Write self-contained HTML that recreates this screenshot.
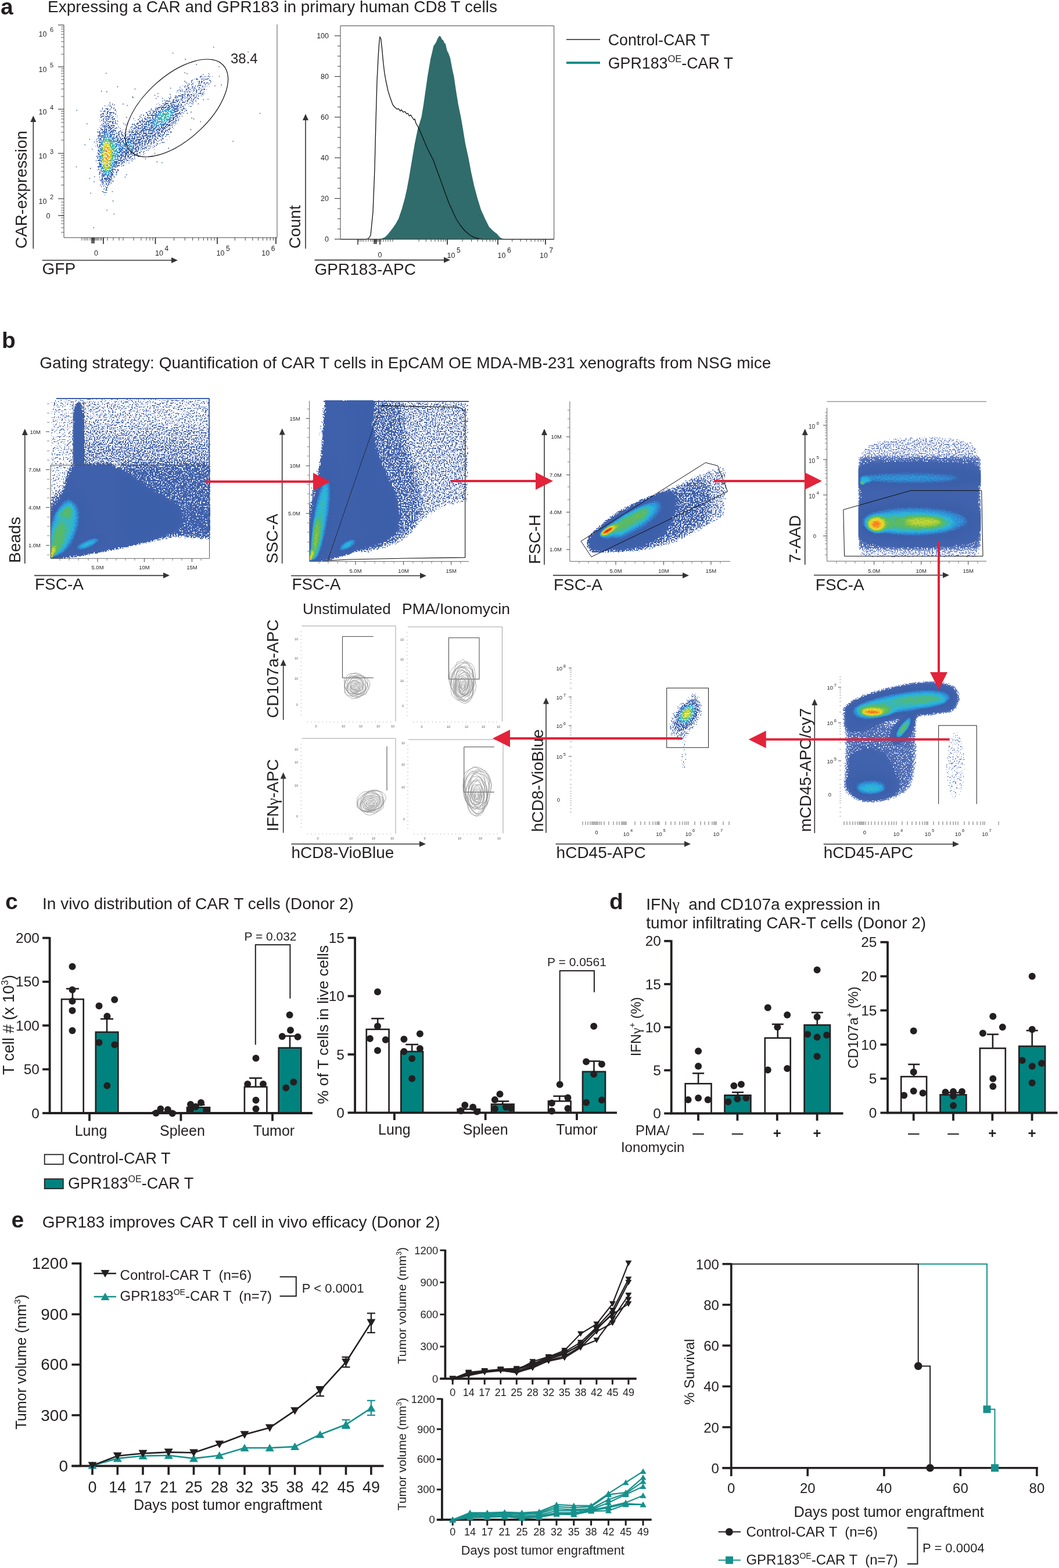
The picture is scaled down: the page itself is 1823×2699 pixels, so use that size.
<!DOCTYPE html>
<html><head><meta charset="utf-8"><title>Figure</title>
<style>html,body{margin:0;padding:0;background:#fff;}svg{display:block;}text{font-family:"Liberation Sans", Arial, Helvetica, sans-serif;white-space:pre;}</style>
</head><body>
<svg width="1823" height="2699" viewBox="0 0 1823 2699" font-family='"Liberation Sans", Arial, Helvetica, sans-serif' fill="#231f20"><defs><filter id="bl9" x="-100%" y="-100%" width="300%" height="300%"><feGaussianBlur stdDeviation="9"/></filter><filter id="bl7" x="-100%" y="-100%" width="300%" height="300%"><feGaussianBlur stdDeviation="7"/></filter><filter id="bl4" x="-100%" y="-100%" width="300%" height="300%"><feGaussianBlur stdDeviation="4"/></filter><filter id="bl6" x="-100%" y="-100%" width="300%" height="300%"><feGaussianBlur stdDeviation="6"/></filter><filter id="bl8" x="-100%" y="-100%" width="300%" height="300%"><feGaussianBlur stdDeviation="8"/></filter><filter id="bl10" x="-100%" y="-100%" width="300%" height="300%"><feGaussianBlur stdDeviation="10"/></filter><filter id="bl5" x="-100%" y="-100%" width="300%" height="300%"><feGaussianBlur stdDeviation="5"/></filter><filter id="pc1" filterUnits="userSpaceOnUse" x="110" y="43" width="367" height="366" color-interpolation-filters="sRGB"><feColorMatrix in="SourceGraphic" type="matrix" values="0 0 0 1 0 0 0 0 1 0 0 0 0 1 0 0 0 0 0 1" result="d"/><feTurbulence type="fractalNoise" baseFrequency="0.45" numOctaves="1" seed="1" result="n0"/><feColorMatrix in="n0" type="matrix" values="1 0 0 0 0 1 0 0 0 0 1 0 0 0 0 0 0 0 0 1" result="n"/><feComposite in="d" in2="n" operator="arithmetic" k1="0" k2="1" k3="0.3" k4="-0.1" result="dc"/><feComponentTransfer in="dc" result="col"><feFuncR type="table" tableValues="0.490 0.485 0.479 0.474 0.469 0.463 0.458 0.453 0.447 0.442 0.430 0.411 0.392 0.373 0.354 0.335 0.316 0.297 0.278 0.259 0.258 0.257 0.257 0.256 0.255 0.254 0.254 0.253 0.252 0.251 0.251 0.250 0.249 0.248 0.248 0.247 0.246 0.245 0.245 0.244 0.243 0.242 0.242 0.241 0.240 0.239 0.239 0.238 0.237 0.236 0.236 0.230 0.222 0.213 0.205 0.197 0.190 0.183 0.176 0.169 0.162 0.163 0.196 0.228 0.261 0.293 0.326 0.358 0.407 0.469 0.530 0.592 0.654 0.716 0.778 0.812 0.843 0.874 0.905 0.936 0.961 0.961 0.961 0.961 0.961 0.956 0.946 0.936 0.925 0.915 0.905 0.893 0.880 0.868 0.856 0.843"/><feFuncG type="table" tableValues="0.580 0.575 0.570 0.566 0.561 0.556 0.551 0.546 0.541 0.536 0.526 0.510 0.495 0.480 0.465 0.449 0.434 0.419 0.404 0.388 0.388 0.387 0.387 0.386 0.386 0.385 0.385 0.384 0.384 0.383 0.383 0.382 0.382 0.381 0.381 0.380 0.380 0.379 0.379 0.378 0.378 0.377 0.377 0.376 0.376 0.375 0.375 0.374 0.374 0.373 0.373 0.394 0.427 0.460 0.493 0.526 0.559 0.591 0.623 0.656 0.688 0.714 0.717 0.719 0.721 0.724 0.726 0.728 0.739 0.756 0.773 0.790 0.807 0.824 0.841 0.843 0.843 0.843 0.843 0.843 0.831 0.769 0.707 0.645 0.583 0.518 0.449 0.380 0.312 0.243 0.174 0.148 0.135 0.123 0.110 0.098"/><feFuncB type="table" tableValues="0.816 0.813 0.811 0.808 0.806 0.803 0.801 0.798 0.796 0.793 0.786 0.774 0.762 0.750 0.738 0.726 0.714 0.702 0.690 0.678 0.678 0.678 0.677 0.677 0.677 0.676 0.676 0.675 0.675 0.675 0.674 0.674 0.674 0.673 0.673 0.672 0.672 0.672 0.671 0.671 0.671 0.670 0.670 0.669 0.669 0.669 0.668 0.668 0.668 0.667 0.667 0.687 0.718 0.750 0.781 0.813 0.828 0.842 0.856 0.869 0.883 0.877 0.793 0.709 0.624 0.540 0.456 0.371 0.322 0.301 0.281 0.260 0.239 0.219 0.198 0.190 0.183 0.176 0.169 0.162 0.156 0.152 0.148 0.144 0.140 0.136 0.132 0.129 0.125 0.122 0.119 0.115 0.110 0.106 0.102 0.098"/></feComponentTransfer><feComponentTransfer in="n" result="ns"><feFuncR type="linear" slope="3" intercept="-1"/></feComponentTransfer><feComposite in="d" in2="ns" operator="arithmetic" k1="1" k2="0" k3="0" k4="0" result="dm"/><feColorMatrix in="dm" type="matrix" values="0 0 0 0 0 0 0 0 0 0 0 0 0 0 0 1 0 0 0 0" result="m0"/><feComponentTransfer in="m0" result="m"><feFuncA type="discrete" tableValues="0 0 0 0 0 0 0 0 0 0 0 0 0 0 0 0 0 0 0 1 1 1 1 1 1 1 1 1 1 1 1 1 1 1 1 1 1 1 1 1 1 1 1 1 1 1 1 1 1 1 1 1 1 1 1 1 1 1 1 1 1 1 1 1 1 1 1 1 1 1 1 1 1 1 1 1 1 1 1 1 1 1 1 1 1 1 1 1 1 1 1 1 1 1 1 1"/></feComponentTransfer><feComposite in="col" in2="m" operator="in"/></filter><filter id="bl3" x="-100%" y="-100%" width="300%" height="300%"><feGaussianBlur stdDeviation="3"/></filter><filter id="bl14" x="-100%" y="-100%" width="300%" height="300%"><feGaussianBlur stdDeviation="14"/></filter><filter id="bl1_5" x="-100%" y="-100%" width="300%" height="300%"><feGaussianBlur stdDeviation="1.5"/></filter><filter id="bl2_5" x="-100%" y="-100%" width="300%" height="300%"><feGaussianBlur stdDeviation="2.5"/></filter><filter id="bl1" x="-100%" y="-100%" width="300%" height="300%"><feGaussianBlur stdDeviation="1"/></filter><filter id="pc2" filterUnits="userSpaceOnUse" x="87" y="682" width="276" height="280" color-interpolation-filters="sRGB"><feColorMatrix in="SourceGraphic" type="matrix" values="0 0 0 1 0 0 0 0 1 0 0 0 0 1 0 0 0 0 0 1" result="d"/><feTurbulence type="fractalNoise" baseFrequency="0.45" numOctaves="1" seed="2" result="n0"/><feColorMatrix in="n0" type="matrix" values="1 0 0 0 0 1 0 0 0 0 1 0 0 0 0 0 0 0 0 1" result="n"/><feComposite in="d" in2="n" operator="arithmetic" k1="0" k2="1" k3="0.1" k4="-0" result="dc"/><feComponentTransfer in="dc" result="col"><feFuncR type="table" tableValues="0.490 0.485 0.479 0.474 0.469 0.463 0.458 0.453 0.447 0.442 0.430 0.411 0.392 0.373 0.354 0.335 0.316 0.297 0.278 0.259 0.258 0.257 0.257 0.256 0.255 0.254 0.254 0.253 0.252 0.251 0.251 0.250 0.249 0.248 0.248 0.247 0.246 0.245 0.245 0.244 0.243 0.242 0.242 0.241 0.240 0.239 0.239 0.238 0.237 0.236 0.236 0.230 0.222 0.213 0.205 0.197 0.190 0.183 0.176 0.169 0.162 0.163 0.196 0.228 0.261 0.293 0.326 0.358 0.407 0.469 0.530 0.592 0.654 0.716 0.778 0.812 0.843 0.874 0.905 0.936 0.961 0.961 0.961 0.961 0.961 0.956 0.946 0.936 0.925 0.915 0.905 0.893 0.880 0.868 0.856 0.843"/><feFuncG type="table" tableValues="0.580 0.575 0.570 0.566 0.561 0.556 0.551 0.546 0.541 0.536 0.526 0.510 0.495 0.480 0.465 0.449 0.434 0.419 0.404 0.388 0.388 0.387 0.387 0.386 0.386 0.385 0.385 0.384 0.384 0.383 0.383 0.382 0.382 0.381 0.381 0.380 0.380 0.379 0.379 0.378 0.378 0.377 0.377 0.376 0.376 0.375 0.375 0.374 0.374 0.373 0.373 0.394 0.427 0.460 0.493 0.526 0.559 0.591 0.623 0.656 0.688 0.714 0.717 0.719 0.721 0.724 0.726 0.728 0.739 0.756 0.773 0.790 0.807 0.824 0.841 0.843 0.843 0.843 0.843 0.843 0.831 0.769 0.707 0.645 0.583 0.518 0.449 0.380 0.312 0.243 0.174 0.148 0.135 0.123 0.110 0.098"/><feFuncB type="table" tableValues="0.816 0.813 0.811 0.808 0.806 0.803 0.801 0.798 0.796 0.793 0.786 0.774 0.762 0.750 0.738 0.726 0.714 0.702 0.690 0.678 0.678 0.678 0.677 0.677 0.677 0.676 0.676 0.675 0.675 0.675 0.674 0.674 0.674 0.673 0.673 0.672 0.672 0.672 0.671 0.671 0.671 0.670 0.670 0.669 0.669 0.669 0.668 0.668 0.668 0.667 0.667 0.687 0.718 0.750 0.781 0.813 0.828 0.842 0.856 0.869 0.883 0.877 0.793 0.709 0.624 0.540 0.456 0.371 0.322 0.301 0.281 0.260 0.239 0.219 0.198 0.190 0.183 0.176 0.169 0.162 0.156 0.152 0.148 0.144 0.140 0.136 0.132 0.129 0.125 0.122 0.119 0.115 0.110 0.106 0.102 0.098"/></feComponentTransfer><feComponentTransfer in="n" result="ns"><feFuncR type="linear" slope="3" intercept="-1"/></feComponentTransfer><feComposite in="d" in2="ns" operator="arithmetic" k1="1" k2="0.6" k3="0" k4="0" result="dm"/><feColorMatrix in="dm" type="matrix" values="0 0 0 0 0 0 0 0 0 0 0 0 0 0 0 1 0 0 0 0" result="m0"/><feComponentTransfer in="m0" result="m"><feFuncA type="discrete" tableValues="0 0 0 0 0 0 0 0 0 0 0 0 0 0 1 1 1 1 1 1 1 1 1 1 1 1 1 1 1 1 1 1 1 1 1 1 1 1 1 1 1 1 1 1 1 1 1 1 1 1 1 1 1 1 1 1 1 1 1 1 1 1 1 1 1 1 1 1 1 1 1 1 1 1 1 1 1 1 1 1 1 1 1 1 1 1 1 1 1 1 1 1 1 1 1 1"/></feComponentTransfer><feComposite in="col" in2="m" operator="in"/></filter><clipPath id="cp2"><rect x="87" y="683" width="275" height="280"/></clipPath><filter id="bl2" x="-100%" y="-100%" width="300%" height="300%"><feGaussianBlur stdDeviation="2"/></filter><filter id="pc3" filterUnits="userSpaceOnUse" x="530" y="686" width="280" height="284" color-interpolation-filters="sRGB"><feColorMatrix in="SourceGraphic" type="matrix" values="0 0 0 1 0 0 0 0 1 0 0 0 0 1 0 0 0 0 0 1" result="d"/><feTurbulence type="fractalNoise" baseFrequency="0.45" numOctaves="1" seed="3" result="n0"/><feColorMatrix in="n0" type="matrix" values="1 0 0 0 0 1 0 0 0 0 1 0 0 0 0 0 0 0 0 1" result="n"/><feComposite in="d" in2="n" operator="arithmetic" k1="0" k2="1" k3="0.1" k4="-0" result="dc"/><feComponentTransfer in="dc" result="col"><feFuncR type="table" tableValues="0.490 0.485 0.479 0.474 0.469 0.463 0.458 0.453 0.447 0.442 0.430 0.411 0.392 0.373 0.354 0.335 0.316 0.297 0.278 0.259 0.258 0.257 0.257 0.256 0.255 0.254 0.254 0.253 0.252 0.251 0.251 0.250 0.249 0.248 0.248 0.247 0.246 0.245 0.245 0.244 0.243 0.242 0.242 0.241 0.240 0.239 0.239 0.238 0.237 0.236 0.236 0.230 0.222 0.213 0.205 0.197 0.190 0.183 0.176 0.169 0.162 0.163 0.196 0.228 0.261 0.293 0.326 0.358 0.407 0.469 0.530 0.592 0.654 0.716 0.778 0.812 0.843 0.874 0.905 0.936 0.961 0.961 0.961 0.961 0.961 0.956 0.946 0.936 0.925 0.915 0.905 0.893 0.880 0.868 0.856 0.843"/><feFuncG type="table" tableValues="0.580 0.575 0.570 0.566 0.561 0.556 0.551 0.546 0.541 0.536 0.526 0.510 0.495 0.480 0.465 0.449 0.434 0.419 0.404 0.388 0.388 0.387 0.387 0.386 0.386 0.385 0.385 0.384 0.384 0.383 0.383 0.382 0.382 0.381 0.381 0.380 0.380 0.379 0.379 0.378 0.378 0.377 0.377 0.376 0.376 0.375 0.375 0.374 0.374 0.373 0.373 0.394 0.427 0.460 0.493 0.526 0.559 0.591 0.623 0.656 0.688 0.714 0.717 0.719 0.721 0.724 0.726 0.728 0.739 0.756 0.773 0.790 0.807 0.824 0.841 0.843 0.843 0.843 0.843 0.843 0.831 0.769 0.707 0.645 0.583 0.518 0.449 0.380 0.312 0.243 0.174 0.148 0.135 0.123 0.110 0.098"/><feFuncB type="table" tableValues="0.816 0.813 0.811 0.808 0.806 0.803 0.801 0.798 0.796 0.793 0.786 0.774 0.762 0.750 0.738 0.726 0.714 0.702 0.690 0.678 0.678 0.678 0.677 0.677 0.677 0.676 0.676 0.675 0.675 0.675 0.674 0.674 0.674 0.673 0.673 0.672 0.672 0.672 0.671 0.671 0.671 0.670 0.670 0.669 0.669 0.669 0.668 0.668 0.668 0.667 0.667 0.687 0.718 0.750 0.781 0.813 0.828 0.842 0.856 0.869 0.883 0.877 0.793 0.709 0.624 0.540 0.456 0.371 0.322 0.301 0.281 0.260 0.239 0.219 0.198 0.190 0.183 0.176 0.169 0.162 0.156 0.152 0.148 0.144 0.140 0.136 0.132 0.129 0.125 0.122 0.119 0.115 0.110 0.106 0.102 0.098"/></feComponentTransfer><feComponentTransfer in="n" result="ns"><feFuncR type="linear" slope="3" intercept="-1"/></feComponentTransfer><feComposite in="d" in2="ns" operator="arithmetic" k1="1" k2="0.6" k3="0" k4="0" result="dm"/><feColorMatrix in="dm" type="matrix" values="0 0 0 0 0 0 0 0 0 0 0 0 0 0 0 1 0 0 0 0" result="m0"/><feComponentTransfer in="m0" result="m"><feFuncA type="discrete" tableValues="0 0 0 0 0 0 0 0 0 0 0 0 0 0 1 1 1 1 1 1 1 1 1 1 1 1 1 1 1 1 1 1 1 1 1 1 1 1 1 1 1 1 1 1 1 1 1 1 1 1 1 1 1 1 1 1 1 1 1 1 1 1 1 1 1 1 1 1 1 1 1 1 1 1 1 1 1 1 1 1 1 1 1 1 1 1 1 1 1 1 1 1 1 1 1 1"/></feComponentTransfer><feComposite in="col" in2="m" operator="in"/></filter><clipPath id="cp3"><rect x="533" y="689" width="276" height="278"/></clipPath><filter id="pc4" filterUnits="userSpaceOnUse" x="981" y="691" width="276" height="275" color-interpolation-filters="sRGB"><feColorMatrix in="SourceGraphic" type="matrix" values="0 0 0 1 0 0 0 0 1 0 0 0 0 1 0 0 0 0 0 1" result="d"/><feTurbulence type="fractalNoise" baseFrequency="0.45" numOctaves="1" seed="4" result="n0"/><feColorMatrix in="n0" type="matrix" values="1 0 0 0 0 1 0 0 0 0 1 0 0 0 0 0 0 0 0 1" result="n"/><feComposite in="d" in2="n" operator="arithmetic" k1="0" k2="1" k3="0.1" k4="-0" result="dc"/><feComponentTransfer in="dc" result="col"><feFuncR type="table" tableValues="0.490 0.485 0.479 0.474 0.469 0.463 0.458 0.453 0.447 0.442 0.430 0.411 0.392 0.373 0.354 0.335 0.316 0.297 0.278 0.259 0.258 0.257 0.257 0.256 0.255 0.254 0.254 0.253 0.252 0.251 0.251 0.250 0.249 0.248 0.248 0.247 0.246 0.245 0.245 0.244 0.243 0.242 0.242 0.241 0.240 0.239 0.239 0.238 0.237 0.236 0.236 0.230 0.222 0.213 0.205 0.197 0.190 0.183 0.176 0.169 0.162 0.163 0.196 0.228 0.261 0.293 0.326 0.358 0.407 0.469 0.530 0.592 0.654 0.716 0.778 0.812 0.843 0.874 0.905 0.936 0.961 0.961 0.961 0.961 0.961 0.956 0.946 0.936 0.925 0.915 0.905 0.893 0.880 0.868 0.856 0.843"/><feFuncG type="table" tableValues="0.580 0.575 0.570 0.566 0.561 0.556 0.551 0.546 0.541 0.536 0.526 0.510 0.495 0.480 0.465 0.449 0.434 0.419 0.404 0.388 0.388 0.387 0.387 0.386 0.386 0.385 0.385 0.384 0.384 0.383 0.383 0.382 0.382 0.381 0.381 0.380 0.380 0.379 0.379 0.378 0.378 0.377 0.377 0.376 0.376 0.375 0.375 0.374 0.374 0.373 0.373 0.394 0.427 0.460 0.493 0.526 0.559 0.591 0.623 0.656 0.688 0.714 0.717 0.719 0.721 0.724 0.726 0.728 0.739 0.756 0.773 0.790 0.807 0.824 0.841 0.843 0.843 0.843 0.843 0.843 0.831 0.769 0.707 0.645 0.583 0.518 0.449 0.380 0.312 0.243 0.174 0.148 0.135 0.123 0.110 0.098"/><feFuncB type="table" tableValues="0.816 0.813 0.811 0.808 0.806 0.803 0.801 0.798 0.796 0.793 0.786 0.774 0.762 0.750 0.738 0.726 0.714 0.702 0.690 0.678 0.678 0.678 0.677 0.677 0.677 0.676 0.676 0.675 0.675 0.675 0.674 0.674 0.674 0.673 0.673 0.672 0.672 0.672 0.671 0.671 0.671 0.670 0.670 0.669 0.669 0.669 0.668 0.668 0.668 0.667 0.667 0.687 0.718 0.750 0.781 0.813 0.828 0.842 0.856 0.869 0.883 0.877 0.793 0.709 0.624 0.540 0.456 0.371 0.322 0.301 0.281 0.260 0.239 0.219 0.198 0.190 0.183 0.176 0.169 0.162 0.156 0.152 0.148 0.144 0.140 0.136 0.132 0.129 0.125 0.122 0.119 0.115 0.110 0.106 0.102 0.098"/></feComponentTransfer><feComponentTransfer in="n" result="ns"><feFuncR type="linear" slope="3" intercept="-1"/></feComponentTransfer><feComposite in="d" in2="ns" operator="arithmetic" k1="1" k2="0.6" k3="0" k4="0" result="dm"/><feColorMatrix in="dm" type="matrix" values="0 0 0 0 0 0 0 0 0 0 0 0 0 0 0 1 0 0 0 0" result="m0"/><feComponentTransfer in="m0" result="m"><feFuncA type="discrete" tableValues="0 0 0 0 0 0 0 0 0 0 0 0 0 0 1 1 1 1 1 1 1 1 1 1 1 1 1 1 1 1 1 1 1 1 1 1 1 1 1 1 1 1 1 1 1 1 1 1 1 1 1 1 1 1 1 1 1 1 1 1 1 1 1 1 1 1 1 1 1 1 1 1 1 1 1 1 1 1 1 1 1 1 1 1 1 1 1 1 1 1 1 1 1 1 1 1"/></feComponentTransfer><feComposite in="col" in2="m" operator="in"/></filter><filter id="pc5" filterUnits="userSpaceOnUse" x="1460" y="730" width="240" height="235" color-interpolation-filters="sRGB"><feColorMatrix in="SourceGraphic" type="matrix" values="0 0 0 1 0 0 0 0 1 0 0 0 0 1 0 0 0 0 0 1" result="d"/><feTurbulence type="fractalNoise" baseFrequency="0.45" numOctaves="1" seed="5" result="n0"/><feColorMatrix in="n0" type="matrix" values="1 0 0 0 0 1 0 0 0 0 1 0 0 0 0 0 0 0 0 1" result="n"/><feComposite in="d" in2="n" operator="arithmetic" k1="0" k2="1" k3="0.1" k4="-0.1" result="dc"/><feComponentTransfer in="dc" result="col"><feFuncR type="table" tableValues="0.490 0.485 0.479 0.474 0.469 0.463 0.458 0.453 0.447 0.442 0.430 0.411 0.392 0.373 0.354 0.335 0.316 0.297 0.278 0.259 0.258 0.257 0.257 0.256 0.255 0.254 0.254 0.253 0.252 0.251 0.251 0.250 0.249 0.248 0.248 0.247 0.246 0.245 0.245 0.244 0.243 0.242 0.242 0.241 0.240 0.239 0.239 0.238 0.237 0.236 0.236 0.230 0.222 0.213 0.205 0.197 0.190 0.183 0.176 0.169 0.162 0.163 0.196 0.228 0.261 0.293 0.326 0.358 0.407 0.469 0.530 0.592 0.654 0.716 0.778 0.812 0.843 0.874 0.905 0.936 0.961 0.961 0.961 0.961 0.961 0.956 0.946 0.936 0.925 0.915 0.905 0.893 0.880 0.868 0.856 0.843"/><feFuncG type="table" tableValues="0.580 0.575 0.570 0.566 0.561 0.556 0.551 0.546 0.541 0.536 0.526 0.510 0.495 0.480 0.465 0.449 0.434 0.419 0.404 0.388 0.388 0.387 0.387 0.386 0.386 0.385 0.385 0.384 0.384 0.383 0.383 0.382 0.382 0.381 0.381 0.380 0.380 0.379 0.379 0.378 0.378 0.377 0.377 0.376 0.376 0.375 0.375 0.374 0.374 0.373 0.373 0.394 0.427 0.460 0.493 0.526 0.559 0.591 0.623 0.656 0.688 0.714 0.717 0.719 0.721 0.724 0.726 0.728 0.739 0.756 0.773 0.790 0.807 0.824 0.841 0.843 0.843 0.843 0.843 0.843 0.831 0.769 0.707 0.645 0.583 0.518 0.449 0.380 0.312 0.243 0.174 0.148 0.135 0.123 0.110 0.098"/><feFuncB type="table" tableValues="0.816 0.813 0.811 0.808 0.806 0.803 0.801 0.798 0.796 0.793 0.786 0.774 0.762 0.750 0.738 0.726 0.714 0.702 0.690 0.678 0.678 0.678 0.677 0.677 0.677 0.676 0.676 0.675 0.675 0.675 0.674 0.674 0.674 0.673 0.673 0.672 0.672 0.672 0.671 0.671 0.671 0.670 0.670 0.669 0.669 0.669 0.668 0.668 0.668 0.667 0.667 0.687 0.718 0.750 0.781 0.813 0.828 0.842 0.856 0.869 0.883 0.877 0.793 0.709 0.624 0.540 0.456 0.371 0.322 0.301 0.281 0.260 0.239 0.219 0.198 0.190 0.183 0.176 0.169 0.162 0.156 0.152 0.148 0.144 0.140 0.136 0.132 0.129 0.125 0.122 0.119 0.115 0.110 0.106 0.102 0.098"/></feComponentTransfer><feComponentTransfer in="n" result="ns"><feFuncR type="linear" slope="3" intercept="-1"/></feComponentTransfer><feComposite in="d" in2="ns" operator="arithmetic" k1="1" k2="0.6" k3="0" k4="0" result="dm"/><feColorMatrix in="dm" type="matrix" values="0 0 0 0 0 0 0 0 0 0 0 0 0 0 0 1 0 0 0 0" result="m0"/><feComponentTransfer in="m0" result="m"><feFuncA type="discrete" tableValues="0 0 0 0 0 0 0 0 0 0 0 0 0 0 1 1 1 1 1 1 1 1 1 1 1 1 1 1 1 1 1 1 1 1 1 1 1 1 1 1 1 1 1 1 1 1 1 1 1 1 1 1 1 1 1 1 1 1 1 1 1 1 1 1 1 1 1 1 1 1 1 1 1 1 1 1 1 1 1 1 1 1 1 1 1 1 1 1 1 1 1 1 1 1 1 1"/></feComponentTransfer><feComposite in="col" in2="m" operator="in"/></filter><clipPath id="cp5"><rect x="1477.5" y="740" width="211" height="225"/></clipPath><filter id="pc6" filterUnits="userSpaceOnUse" x="1140" y="1180" width="90" height="170" color-interpolation-filters="sRGB"><feColorMatrix in="SourceGraphic" type="matrix" values="0 0 0 1 0 0 0 0 1 0 0 0 0 1 0 0 0 0 0 1" result="d"/><feTurbulence type="fractalNoise" baseFrequency="0.5" numOctaves="1" seed="6" result="n0"/><feColorMatrix in="n0" type="matrix" values="1 0 0 0 0 1 0 0 0 0 1 0 0 0 0 0 0 0 0 1" result="n"/><feComposite in="d" in2="n" operator="arithmetic" k1="0" k2="1" k3="0.2" k4="-0.1" result="dc"/><feComponentTransfer in="dc" result="col"><feFuncR type="table" tableValues="0.490 0.485 0.479 0.474 0.469 0.463 0.458 0.453 0.447 0.442 0.430 0.411 0.392 0.373 0.354 0.335 0.316 0.297 0.278 0.259 0.258 0.257 0.257 0.256 0.255 0.254 0.254 0.253 0.252 0.251 0.251 0.250 0.249 0.248 0.248 0.247 0.246 0.245 0.245 0.244 0.243 0.242 0.242 0.241 0.240 0.239 0.239 0.238 0.237 0.236 0.236 0.230 0.222 0.213 0.205 0.197 0.190 0.183 0.176 0.169 0.162 0.163 0.196 0.228 0.261 0.293 0.326 0.358 0.407 0.469 0.530 0.592 0.654 0.716 0.778 0.812 0.843 0.874 0.905 0.936 0.961 0.961 0.961 0.961 0.961 0.956 0.946 0.936 0.925 0.915 0.905 0.893 0.880 0.868 0.856 0.843"/><feFuncG type="table" tableValues="0.580 0.575 0.570 0.566 0.561 0.556 0.551 0.546 0.541 0.536 0.526 0.510 0.495 0.480 0.465 0.449 0.434 0.419 0.404 0.388 0.388 0.387 0.387 0.386 0.386 0.385 0.385 0.384 0.384 0.383 0.383 0.382 0.382 0.381 0.381 0.380 0.380 0.379 0.379 0.378 0.378 0.377 0.377 0.376 0.376 0.375 0.375 0.374 0.374 0.373 0.373 0.394 0.427 0.460 0.493 0.526 0.559 0.591 0.623 0.656 0.688 0.714 0.717 0.719 0.721 0.724 0.726 0.728 0.739 0.756 0.773 0.790 0.807 0.824 0.841 0.843 0.843 0.843 0.843 0.843 0.831 0.769 0.707 0.645 0.583 0.518 0.449 0.380 0.312 0.243 0.174 0.148 0.135 0.123 0.110 0.098"/><feFuncB type="table" tableValues="0.816 0.813 0.811 0.808 0.806 0.803 0.801 0.798 0.796 0.793 0.786 0.774 0.762 0.750 0.738 0.726 0.714 0.702 0.690 0.678 0.678 0.678 0.677 0.677 0.677 0.676 0.676 0.675 0.675 0.675 0.674 0.674 0.674 0.673 0.673 0.672 0.672 0.672 0.671 0.671 0.671 0.670 0.670 0.669 0.669 0.669 0.668 0.668 0.668 0.667 0.667 0.687 0.718 0.750 0.781 0.813 0.828 0.842 0.856 0.869 0.883 0.877 0.793 0.709 0.624 0.540 0.456 0.371 0.322 0.301 0.281 0.260 0.239 0.219 0.198 0.190 0.183 0.176 0.169 0.162 0.156 0.152 0.148 0.144 0.140 0.136 0.132 0.129 0.125 0.122 0.119 0.115 0.110 0.106 0.102 0.098"/></feComponentTransfer><feComponentTransfer in="n" result="ns"><feFuncR type="linear" slope="3" intercept="-1"/></feComponentTransfer><feComposite in="d" in2="ns" operator="arithmetic" k1="1" k2="0" k3="0" k4="0" result="dm"/><feColorMatrix in="dm" type="matrix" values="0 0 0 0 0 0 0 0 0 0 0 0 0 0 0 1 0 0 0 0" result="m0"/><feComponentTransfer in="m0" result="m"><feFuncA type="discrete" tableValues="0 0 0 0 0 0 0 0 0 0 0 0 0 0 0 0 0 0 0 1 1 1 1 1 1 1 1 1 1 1 1 1 1 1 1 1 1 1 1 1 1 1 1 1 1 1 1 1 1 1 1 1 1 1 1 1 1 1 1 1 1 1 1 1 1 1 1 1 1 1 1 1 1 1 1 1 1 1 1 1 1 1 1 1 1 1 1 1 1 1 1 1 1 1 1 1"/></feComponentTransfer><feComposite in="col" in2="m" operator="in"/></filter><filter id="pc7" filterUnits="userSpaceOnUse" x="1440" y="1150" width="260" height="250" color-interpolation-filters="sRGB"><feColorMatrix in="SourceGraphic" type="matrix" values="0 0 0 1 0 0 0 0 1 0 0 0 0 1 0 0 0 0 0 1" result="d"/><feTurbulence type="fractalNoise" baseFrequency="0.45" numOctaves="1" seed="7" result="n0"/><feColorMatrix in="n0" type="matrix" values="1 0 0 0 0 1 0 0 0 0 1 0 0 0 0 0 0 0 0 1" result="n"/><feComposite in="d" in2="n" operator="arithmetic" k1="0" k2="1" k3="0.1" k4="-0.1" result="dc"/><feComponentTransfer in="dc" result="col"><feFuncR type="table" tableValues="0.490 0.485 0.479 0.474 0.469 0.463 0.458 0.453 0.447 0.442 0.430 0.411 0.392 0.373 0.354 0.335 0.316 0.297 0.278 0.259 0.258 0.257 0.257 0.256 0.255 0.254 0.254 0.253 0.252 0.251 0.251 0.250 0.249 0.248 0.248 0.247 0.246 0.245 0.245 0.244 0.243 0.242 0.242 0.241 0.240 0.239 0.239 0.238 0.237 0.236 0.236 0.230 0.222 0.213 0.205 0.197 0.190 0.183 0.176 0.169 0.162 0.163 0.196 0.228 0.261 0.293 0.326 0.358 0.407 0.469 0.530 0.592 0.654 0.716 0.778 0.812 0.843 0.874 0.905 0.936 0.961 0.961 0.961 0.961 0.961 0.956 0.946 0.936 0.925 0.915 0.905 0.893 0.880 0.868 0.856 0.843"/><feFuncG type="table" tableValues="0.580 0.575 0.570 0.566 0.561 0.556 0.551 0.546 0.541 0.536 0.526 0.510 0.495 0.480 0.465 0.449 0.434 0.419 0.404 0.388 0.388 0.387 0.387 0.386 0.386 0.385 0.385 0.384 0.384 0.383 0.383 0.382 0.382 0.381 0.381 0.380 0.380 0.379 0.379 0.378 0.378 0.377 0.377 0.376 0.376 0.375 0.375 0.374 0.374 0.373 0.373 0.394 0.427 0.460 0.493 0.526 0.559 0.591 0.623 0.656 0.688 0.714 0.717 0.719 0.721 0.724 0.726 0.728 0.739 0.756 0.773 0.790 0.807 0.824 0.841 0.843 0.843 0.843 0.843 0.843 0.831 0.769 0.707 0.645 0.583 0.518 0.449 0.380 0.312 0.243 0.174 0.148 0.135 0.123 0.110 0.098"/><feFuncB type="table" tableValues="0.816 0.813 0.811 0.808 0.806 0.803 0.801 0.798 0.796 0.793 0.786 0.774 0.762 0.750 0.738 0.726 0.714 0.702 0.690 0.678 0.678 0.678 0.677 0.677 0.677 0.676 0.676 0.675 0.675 0.675 0.674 0.674 0.674 0.673 0.673 0.672 0.672 0.672 0.671 0.671 0.671 0.670 0.670 0.669 0.669 0.669 0.668 0.668 0.668 0.667 0.667 0.687 0.718 0.750 0.781 0.813 0.828 0.842 0.856 0.869 0.883 0.877 0.793 0.709 0.624 0.540 0.456 0.371 0.322 0.301 0.281 0.260 0.239 0.219 0.198 0.190 0.183 0.176 0.169 0.162 0.156 0.152 0.148 0.144 0.140 0.136 0.132 0.129 0.125 0.122 0.119 0.115 0.110 0.106 0.102 0.098"/></feComponentTransfer><feComponentTransfer in="n" result="ns"><feFuncR type="linear" slope="3" intercept="-1"/></feComponentTransfer><feComposite in="d" in2="ns" operator="arithmetic" k1="1" k2="0.6" k3="0" k4="0" result="dm"/><feColorMatrix in="dm" type="matrix" values="0 0 0 0 0 0 0 0 0 0 0 0 0 0 0 1 0 0 0 0" result="m0"/><feComponentTransfer in="m0" result="m"><feFuncA type="discrete" tableValues="0 0 0 0 0 0 0 0 0 0 0 0 0 0 1 1 1 1 1 1 1 1 1 1 1 1 1 1 1 1 1 1 1 1 1 1 1 1 1 1 1 1 1 1 1 1 1 1 1 1 1 1 1 1 1 1 1 1 1 1 1 1 1 1 1 1 1 1 1 1 1 1 1 1 1 1 1 1 1 1 1 1 1 1 1 1 1 1 1 1 1 1 1 1 1 1"/></feComponentTransfer><feComposite in="col" in2="m" operator="in"/></filter></defs><text x="1" y="24.6" font-size="39" font-weight="bold">a</text>
<text x="82" y="21" font-size="28" textLength="774" lengthAdjust="spacingAndGlyphs">Expressing a CAR and GPR183 in primary human CD8 T cells</text>
<line x1="110" y1="43" x2="110" y2="409" stroke="#444" stroke-width="1"/>
<line x1="110" y1="409" x2="477" y2="409" stroke="#444" stroke-width="1"/>
<line x1="477" y1="42" x2="477" y2="409" stroke="#555" stroke-width="1"/>
<line x1="100" y1="43" x2="110" y2="43" stroke="#444" stroke-width="1.2"/>
<line x1="100" y1="115" x2="110" y2="115" stroke="#444" stroke-width="1.2"/>
<line x1="100" y1="188" x2="110" y2="188" stroke="#444" stroke-width="1.2"/>
<line x1="100" y1="264" x2="110" y2="264" stroke="#444" stroke-width="1.2"/>
<line x1="100" y1="342" x2="110" y2="342" stroke="#444" stroke-width="1.2"/>
<line x1="105" y1="318.5" x2="110" y2="318.5" stroke="#444" stroke-width="0.8"/>
<line x1="105" y1="304.8" x2="110" y2="304.8" stroke="#444" stroke-width="0.8"/>
<line x1="105" y1="295" x2="110" y2="295" stroke="#444" stroke-width="0.8"/>
<line x1="105" y1="287.5" x2="110" y2="287.5" stroke="#444" stroke-width="0.8"/>
<line x1="105" y1="281.3" x2="110" y2="281.3" stroke="#444" stroke-width="0.8"/>
<line x1="105" y1="276.1" x2="110" y2="276.1" stroke="#444" stroke-width="0.8"/>
<line x1="105" y1="271.6" x2="110" y2="271.6" stroke="#444" stroke-width="0.8"/>
<line x1="105" y1="267.6" x2="110" y2="267.6" stroke="#444" stroke-width="0.8"/>
<line x1="105" y1="241.1" x2="110" y2="241.1" stroke="#444" stroke-width="0.8"/>
<line x1="105" y1="227.7" x2="110" y2="227.7" stroke="#444" stroke-width="0.8"/>
<line x1="105" y1="218.2" x2="110" y2="218.2" stroke="#444" stroke-width="0.8"/>
<line x1="105" y1="210.9" x2="110" y2="210.9" stroke="#444" stroke-width="0.8"/>
<line x1="105" y1="204.9" x2="110" y2="204.9" stroke="#444" stroke-width="0.8"/>
<line x1="105" y1="199.8" x2="110" y2="199.8" stroke="#444" stroke-width="0.8"/>
<line x1="105" y1="195.4" x2="110" y2="195.4" stroke="#444" stroke-width="0.8"/>
<line x1="105" y1="191.5" x2="110" y2="191.5" stroke="#444" stroke-width="0.8"/>
<line x1="105" y1="166" x2="110" y2="166" stroke="#444" stroke-width="0.8"/>
<line x1="105" y1="153.2" x2="110" y2="153.2" stroke="#444" stroke-width="0.8"/>
<line x1="105" y1="144" x2="110" y2="144" stroke="#444" stroke-width="0.8"/>
<line x1="105" y1="137" x2="110" y2="137" stroke="#444" stroke-width="0.8"/>
<line x1="105" y1="131.2" x2="110" y2="131.2" stroke="#444" stroke-width="0.8"/>
<line x1="105" y1="126.3" x2="110" y2="126.3" stroke="#444" stroke-width="0.8"/>
<line x1="105" y1="122.1" x2="110" y2="122.1" stroke="#444" stroke-width="0.8"/>
<line x1="105" y1="118.3" x2="110" y2="118.3" stroke="#444" stroke-width="0.8"/>
<line x1="105" y1="93.3" x2="110" y2="93.3" stroke="#444" stroke-width="0.8"/>
<line x1="105" y1="80.6" x2="110" y2="80.6" stroke="#444" stroke-width="0.8"/>
<line x1="105" y1="71.7" x2="110" y2="71.7" stroke="#444" stroke-width="0.8"/>
<line x1="105" y1="64.7" x2="110" y2="64.7" stroke="#444" stroke-width="0.8"/>
<line x1="105" y1="59" x2="110" y2="59" stroke="#444" stroke-width="0.8"/>
<line x1="105" y1="54.2" x2="110" y2="54.2" stroke="#444" stroke-width="0.8"/>
<line x1="105" y1="50" x2="110" y2="50" stroke="#444" stroke-width="0.8"/>
<line x1="105" y1="46.3" x2="110" y2="46.3" stroke="#444" stroke-width="0.8"/>
<line x1="105" y1="348" x2="110" y2="348" stroke="#444" stroke-width="0.8"/>
<line x1="105" y1="353" x2="110" y2="353" stroke="#444" stroke-width="0.8"/>
<line x1="105" y1="358" x2="110" y2="358" stroke="#444" stroke-width="0.8"/>
<line x1="105" y1="362" x2="110" y2="362" stroke="#444" stroke-width="0.8"/>
<line x1="105" y1="366" x2="110" y2="366" stroke="#444" stroke-width="0.8"/>
<line x1="105" y1="371" x2="110" y2="371" stroke="#444" stroke-width="0.8"/>
<line x1="105" y1="375" x2="110" y2="375" stroke="#444" stroke-width="0.8"/>
<line x1="105" y1="380" x2="110" y2="380" stroke="#444" stroke-width="0.8"/>
<line x1="105" y1="385" x2="110" y2="385" stroke="#444" stroke-width="0.8"/>
<line x1="105" y1="392" x2="110" y2="392" stroke="#444" stroke-width="0.8"/>
<line x1="105" y1="400" x2="110" y2="400" stroke="#444" stroke-width="0.8"/>
<line x1="100" y1="371" x2="110" y2="371" stroke="#333" stroke-width="1.2"/>
<text x="80.5" y="62.5" font-size="12.5" text-anchor="end">10</text>
<text x="92" y="54.5" font-size="11" text-anchor="end">6</text>
<text x="80.5" y="123.5" font-size="12.5" text-anchor="end">10</text>
<text x="92" y="115.5" font-size="11" text-anchor="end">5</text>
<text x="80.5" y="196.5" font-size="12.5" text-anchor="end">10</text>
<text x="92" y="188.5" font-size="11" text-anchor="end">4</text>
<text x="80.5" y="272.5" font-size="12.5" text-anchor="end">10</text>
<text x="92" y="264.5" font-size="11" text-anchor="end">3</text>
<text x="80.5" y="350.5" font-size="12.5" text-anchor="end">10</text>
<text x="92" y="342.5" font-size="11" text-anchor="end">2</text>
<text x="83" y="376" font-size="12.5" text-anchor="middle">0</text>
<line x1="178" y1="409" x2="178" y2="420" stroke="#222" stroke-width="1.6"/>
<line x1="267.5" y1="409" x2="267.5" y2="420" stroke="#222" stroke-width="1.6"/>
<line x1="374" y1="409" x2="374" y2="420" stroke="#222" stroke-width="1.6"/>
<line x1="475" y1="409" x2="475" y2="420" stroke="#222" stroke-width="1.6"/>
<line x1="299.6" y1="409" x2="299.6" y2="414" stroke="#333" stroke-width="0.9"/>
<line x1="318.3" y1="409" x2="318.3" y2="414" stroke="#333" stroke-width="0.9"/>
<line x1="331.6" y1="409" x2="331.6" y2="414" stroke="#333" stroke-width="0.9"/>
<line x1="341.9" y1="409" x2="341.9" y2="414" stroke="#333" stroke-width="0.9"/>
<line x1="350.4" y1="409" x2="350.4" y2="414" stroke="#333" stroke-width="0.9"/>
<line x1="357.5" y1="409" x2="357.5" y2="414" stroke="#333" stroke-width="0.9"/>
<line x1="363.7" y1="409" x2="363.7" y2="414" stroke="#333" stroke-width="0.9"/>
<line x1="369.1" y1="409" x2="369.1" y2="414" stroke="#333" stroke-width="0.9"/>
<line x1="404.4" y1="409" x2="404.4" y2="414" stroke="#333" stroke-width="0.9"/>
<line x1="422.2" y1="409" x2="422.2" y2="414" stroke="#333" stroke-width="0.9"/>
<line x1="434.8" y1="409" x2="434.8" y2="414" stroke="#333" stroke-width="0.9"/>
<line x1="444.6" y1="409" x2="444.6" y2="414" stroke="#333" stroke-width="0.9"/>
<line x1="452.6" y1="409" x2="452.6" y2="414" stroke="#333" stroke-width="0.9"/>
<line x1="459.4" y1="409" x2="459.4" y2="414" stroke="#333" stroke-width="0.9"/>
<line x1="465.2" y1="409" x2="465.2" y2="414" stroke="#333" stroke-width="0.9"/>
<line x1="470.4" y1="409" x2="470.4" y2="414" stroke="#333" stroke-width="0.9"/>
<line x1="141" y1="409" x2="141" y2="414" stroke="#333" stroke-width="0.9"/>
<line x1="145" y1="409" x2="145" y2="414" stroke="#333" stroke-width="0.9"/>
<line x1="148" y1="409" x2="148" y2="414" stroke="#333" stroke-width="0.9"/>
<line x1="151" y1="409" x2="151" y2="414" stroke="#333" stroke-width="0.9"/>
<line x1="155" y1="409" x2="155" y2="414" stroke="#333" stroke-width="0.9"/>
<line x1="158" y1="409" x2="158" y2="414" stroke="#333" stroke-width="0.9"/>
<line x1="160" y1="409" x2="160" y2="414" stroke="#333" stroke-width="0.9"/>
<line x1="162" y1="409" x2="162" y2="414" stroke="#333" stroke-width="0.9"/>
<line x1="164" y1="409" x2="164" y2="414" stroke="#333" stroke-width="0.9"/>
<line x1="166" y1="409" x2="166" y2="414" stroke="#333" stroke-width="0.9"/>
<line x1="168" y1="409" x2="168" y2="414" stroke="#333" stroke-width="0.9"/>
<line x1="170" y1="409" x2="170" y2="414" stroke="#333" stroke-width="0.9"/>
<line x1="173" y1="409" x2="173" y2="414" stroke="#333" stroke-width="0.9"/>
<line x1="175" y1="409" x2="175" y2="414" stroke="#333" stroke-width="0.9"/>
<line x1="178" y1="409" x2="178" y2="414" stroke="#333" stroke-width="0.9"/>
<line x1="185" y1="409" x2="185" y2="414" stroke="#333" stroke-width="0.9"/>
<line x1="195" y1="409" x2="195" y2="414" stroke="#333" stroke-width="0.9"/>
<line x1="205" y1="409" x2="205" y2="414" stroke="#333" stroke-width="0.9"/>
<line x1="212" y1="409" x2="212" y2="414" stroke="#333" stroke-width="0.9"/>
<line x1="230" y1="409" x2="230" y2="414" stroke="#333" stroke-width="0.9"/>
<line x1="243" y1="409" x2="243" y2="414" stroke="#333" stroke-width="0.9"/>
<line x1="252" y1="409" x2="252" y2="414" stroke="#333" stroke-width="0.9"/>
<line x1="258" y1="409" x2="258" y2="414" stroke="#333" stroke-width="0.9"/>
<line x1="263" y1="409" x2="263" y2="414" stroke="#333" stroke-width="0.9"/>
<line x1="158" y1="409" x2="158" y2="419" stroke="#222" stroke-width="1.4"/>
<line x1="160" y1="409" x2="160" y2="419" stroke="#222" stroke-width="1.4"/>
<line x1="162" y1="409" x2="162" y2="419" stroke="#222" stroke-width="1.4"/>
<text x="165.5" y="440" font-size="12.5" text-anchor="middle">0</text>
<text x="267" y="440" font-size="12.5">10</text>
<text x="283.5" y="431.5" font-size="12">4</text>
<text x="372.6" y="440" font-size="12.5">10</text>
<text x="389.1" y="431.5" font-size="12">5</text>
<text x="450.2" y="440" font-size="12.5">10</text>
<text x="466.7" y="431.5" font-size="12">6</text>
<line x1="57.3" y1="207" x2="57.3" y2="428" stroke="#333" stroke-width="1.6"/>
<path d="M57.3 199 L52.3 210 L62.3 210 Z" fill="#333"/>
<text transform="translate(46 428) rotate(-90)" font-size="28" textLength="203" lengthAdjust="spacingAndGlyphs">CAR-expression</text>
<line x1="72.6" y1="448" x2="298" y2="448" stroke="#333" stroke-width="1.6"/>
<path d="M306 448 L295 443 L295 453 Z" fill="#333"/>
<text x="72.6" y="472" font-size="28">GFP</text>
<text x="397" y="109" font-size="24">38.4</text>
<line x1="586" y1="44.4" x2="953.7" y2="44.4" stroke="#444" stroke-width="1"/>
<line x1="953.7" y1="44.4" x2="953.7" y2="411.6" stroke="#444" stroke-width="1"/>
<line x1="586" y1="44.4" x2="586" y2="411.6" stroke="#444" stroke-width="1"/>
<line x1="586" y1="411.6" x2="953.7" y2="411.6" stroke="#444" stroke-width="1.2"/>
<line x1="576" y1="411.6" x2="586" y2="411.6" stroke="#444" stroke-width="1.2"/>
<text x="566" y="415.6" font-size="12.5" text-anchor="end">0</text>
<line x1="576" y1="341.6" x2="586" y2="341.6" stroke="#444" stroke-width="1.2"/>
<text x="566" y="345.6" font-size="12.5" text-anchor="end">20</text>
<line x1="576" y1="271.6" x2="586" y2="271.6" stroke="#444" stroke-width="1.2"/>
<text x="566" y="275.6" font-size="12.5" text-anchor="end">40</text>
<line x1="576" y1="201.6" x2="586" y2="201.6" stroke="#444" stroke-width="1.2"/>
<text x="566" y="205.6" font-size="12.5" text-anchor="end">60</text>
<line x1="576" y1="131.6" x2="586" y2="131.6" stroke="#444" stroke-width="1.2"/>
<text x="566" y="135.6" font-size="12.5" text-anchor="end">80</text>
<line x1="576" y1="61.6" x2="586" y2="61.6" stroke="#444" stroke-width="1.2"/>
<text x="566" y="65.6" font-size="12.5" text-anchor="end">100</text>
<line x1="581" y1="394.1" x2="586" y2="394.1" stroke="#333" stroke-width="0.9"/>
<line x1="581" y1="376.6" x2="586" y2="376.6" stroke="#333" stroke-width="0.9"/>
<line x1="581" y1="359.1" x2="586" y2="359.1" stroke="#333" stroke-width="0.9"/>
<line x1="581" y1="324.1" x2="586" y2="324.1" stroke="#333" stroke-width="0.9"/>
<line x1="581" y1="306.6" x2="586" y2="306.6" stroke="#333" stroke-width="0.9"/>
<line x1="581" y1="289.1" x2="586" y2="289.1" stroke="#333" stroke-width="0.9"/>
<line x1="581" y1="254.1" x2="586" y2="254.1" stroke="#333" stroke-width="0.9"/>
<line x1="581" y1="236.6" x2="586" y2="236.6" stroke="#333" stroke-width="0.9"/>
<line x1="581" y1="219.1" x2="586" y2="219.1" stroke="#333" stroke-width="0.9"/>
<line x1="581" y1="184.1" x2="586" y2="184.1" stroke="#333" stroke-width="0.9"/>
<line x1="581" y1="166.6" x2="586" y2="166.6" stroke="#333" stroke-width="0.9"/>
<line x1="581" y1="149.1" x2="586" y2="149.1" stroke="#333" stroke-width="0.9"/>
<line x1="581" y1="114.1" x2="586" y2="114.1" stroke="#333" stroke-width="0.9"/>
<line x1="581" y1="96.6" x2="586" y2="96.6" stroke="#333" stroke-width="0.9"/>
<line x1="581" y1="79.1" x2="586" y2="79.1" stroke="#333" stroke-width="0.9"/>
<line x1="654" y1="411.6" x2="654" y2="421" stroke="#222" stroke-width="1.6"/>
<line x1="770" y1="411.6" x2="770" y2="421" stroke="#222" stroke-width="1.6"/>
<line x1="857" y1="411.6" x2="857" y2="421" stroke="#222" stroke-width="1.6"/>
<line x1="939" y1="411.6" x2="939" y2="421" stroke="#222" stroke-width="1.6"/>
<line x1="796.2" y1="411.6" x2="796.2" y2="416" stroke="#333" stroke-width="0.9"/>
<line x1="811.5" y1="411.6" x2="811.5" y2="416" stroke="#333" stroke-width="0.9"/>
<line x1="822.4" y1="411.6" x2="822.4" y2="416" stroke="#333" stroke-width="0.9"/>
<line x1="830.8" y1="411.6" x2="830.8" y2="416" stroke="#333" stroke-width="0.9"/>
<line x1="837.7" y1="411.6" x2="837.7" y2="416" stroke="#333" stroke-width="0.9"/>
<line x1="843.5" y1="411.6" x2="843.5" y2="416" stroke="#333" stroke-width="0.9"/>
<line x1="848.6" y1="411.6" x2="848.6" y2="416" stroke="#333" stroke-width="0.9"/>
<line x1="853" y1="411.6" x2="853" y2="416" stroke="#333" stroke-width="0.9"/>
<line x1="881.7" y1="411.6" x2="881.7" y2="416" stroke="#333" stroke-width="0.9"/>
<line x1="896.1" y1="411.6" x2="896.1" y2="416" stroke="#333" stroke-width="0.9"/>
<line x1="906.4" y1="411.6" x2="906.4" y2="416" stroke="#333" stroke-width="0.9"/>
<line x1="914.3" y1="411.6" x2="914.3" y2="416" stroke="#333" stroke-width="0.9"/>
<line x1="920.8" y1="411.6" x2="920.8" y2="416" stroke="#333" stroke-width="0.9"/>
<line x1="926.3" y1="411.6" x2="926.3" y2="416" stroke="#333" stroke-width="0.9"/>
<line x1="931.1" y1="411.6" x2="931.1" y2="416" stroke="#333" stroke-width="0.9"/>
<line x1="935.2" y1="411.6" x2="935.2" y2="416" stroke="#333" stroke-width="0.9"/>
<line x1="721.1" y1="411.6" x2="721.1" y2="416" stroke="#333" stroke-width="0.9"/>
<line x1="733.4" y1="411.6" x2="733.4" y2="416" stroke="#333" stroke-width="0.9"/>
<line x1="742.1" y1="411.6" x2="742.1" y2="416" stroke="#333" stroke-width="0.9"/>
<line x1="748.9" y1="411.6" x2="748.9" y2="416" stroke="#333" stroke-width="0.9"/>
<line x1="754.5" y1="411.6" x2="754.5" y2="416" stroke="#333" stroke-width="0.9"/>
<line x1="759.2" y1="411.6" x2="759.2" y2="416" stroke="#333" stroke-width="0.9"/>
<line x1="763.2" y1="411.6" x2="763.2" y2="416" stroke="#333" stroke-width="0.9"/>
<line x1="766.8" y1="411.6" x2="766.8" y2="416" stroke="#333" stroke-width="0.9"/>
<line x1="617" y1="411.6" x2="617" y2="416" stroke="#333" stroke-width="0.9"/>
<line x1="620" y1="411.6" x2="620" y2="416" stroke="#333" stroke-width="0.9"/>
<line x1="623" y1="411.6" x2="623" y2="416" stroke="#333" stroke-width="0.9"/>
<line x1="626" y1="411.6" x2="626" y2="416" stroke="#333" stroke-width="0.9"/>
<line x1="630" y1="411.6" x2="630" y2="416" stroke="#333" stroke-width="0.9"/>
<line x1="634" y1="411.6" x2="634" y2="416" stroke="#333" stroke-width="0.9"/>
<line x1="638" y1="411.6" x2="638" y2="416" stroke="#333" stroke-width="0.9"/>
<line x1="641" y1="411.6" x2="641" y2="416" stroke="#333" stroke-width="0.9"/>
<line x1="644" y1="411.6" x2="644" y2="416" stroke="#333" stroke-width="0.9"/>
<line x1="646" y1="411.6" x2="646" y2="416" stroke="#333" stroke-width="0.9"/>
<line x1="648" y1="411.6" x2="648" y2="416" stroke="#333" stroke-width="0.9"/>
<line x1="650" y1="411.6" x2="650" y2="416" stroke="#333" stroke-width="0.9"/>
<line x1="652" y1="411.6" x2="652" y2="416" stroke="#333" stroke-width="0.9"/>
<line x1="656" y1="411.6" x2="656" y2="416" stroke="#333" stroke-width="0.9"/>
<line x1="660" y1="411.6" x2="660" y2="416" stroke="#333" stroke-width="0.9"/>
<line x1="664" y1="411.6" x2="664" y2="416" stroke="#333" stroke-width="0.9"/>
<line x1="668" y1="411.6" x2="668" y2="416" stroke="#333" stroke-width="0.9"/>
<line x1="672" y1="411.6" x2="672" y2="416" stroke="#333" stroke-width="0.9"/>
<line x1="676" y1="411.6" x2="676" y2="416" stroke="#333" stroke-width="0.9"/>
<line x1="644" y1="411.6" x2="644" y2="420" stroke="#222" stroke-width="1.4"/>
<line x1="646" y1="411.6" x2="646" y2="420" stroke="#222" stroke-width="1.4"/>
<line x1="648" y1="411.6" x2="648" y2="420" stroke="#222" stroke-width="1.4"/>
<line x1="616" y1="411.6" x2="616" y2="421" stroke="#222" stroke-width="1.4"/>
<text x="654" y="443" font-size="12.5" text-anchor="middle">0</text>
<text x="769.5" y="444" font-size="12.5">10</text>
<text x="786" y="435" font-size="12">5</text>
<text x="856.5" y="444" font-size="12.5">10</text>
<text x="873" y="435" font-size="12">6</text>
<text x="929" y="444" font-size="12.5">10</text>
<text x="945.5" y="435" font-size="12">7</text>
<line x1="526" y1="204" x2="526" y2="428" stroke="#333" stroke-width="1.6"/>
<path d="M526 196 L521 207 L531 207 Z" fill="#333"/>
<text transform="translate(517 428) rotate(-90)" font-size="28">Count</text>
<line x1="541.6" y1="447.6" x2="767" y2="447.6" stroke="#333" stroke-width="1.6"/>
<path d="M775 447.6 L764 442.6 L764 452.6 Z" fill="#333"/>
<text x="541.6" y="472.7" font-size="28">GPR183-APC</text>
<line x1="975" y1="68" x2="1033" y2="68" stroke="#231f20" stroke-width="1.5"/>
<text x="1046.7" y="78.3" font-size="26.8">Control-CAR T</text>
<line x1="975" y1="108" x2="1033" y2="108" stroke="#14908c" stroke-width="4"/>
<text x="1046.7" y="118" font-size="26.8">GPR183<tspan font-size="16.5" dy="-11">OE</tspan><tspan dy="11">-CAR T</tspan></text>
<path d="M650 411.6 L657.6 410.6 L663 408.1 L668 402.9 L675 394.1 L681 385.4 L686 376.6 L692 359.1 L696.8 341.6 L700 327.6 L704 306.6 L709.8 271.6 L714 247.1 L719 222.6 L725.5 201.6 L729 180.6 L733 152.6 L736 131.6 L739 114.1 L741 101.9 L744 89.6 L746.4 79.1 L749 75.6 L751 72.1 L753 66.9 L755 63.4 L757 61.6 L759 63.7 L761 67.9 L763 69.3 L765 73.9 L767 75.6 L768.5 82.6 L770 87.9 L772 91.4 L775 100.1 L777 110.6 L779 121.1 L781.4 131.6 L785 156.1 L789 180.6 L793.4 201.6 L797 222.6 L801 247.1 L806.4 271.6 L811 296.1 L816 318.9 L822 341.6 L828 360.9 L835 376.6 L842 390.6 L849 397.6 L856 402.9 L860 408.1 L864 410.6 L872 411.6 Z" fill="#2f6c6b"/>
<path d="M586 411.6 L630 411.6 L634 411 L638 405 L642 365.6 L645 290 L647 209 L649 140 L651.3 94 L653 70 L654 63.7 L655.5 66 L657.6 83.6 L659.5 105 L661.8 125 L664 138 L666 147 L668 156.7 L671 166 L675.9 180 L679 184 L683.7 188 L686 187 L689 191 L691 189 L694 193 L697 192 L700 196 L702 195 L704.6 199.5 L707 198 L709 201 L712.4 206 L714 205 L716 212 L720 219 L724 228 L728 237.6 L732 247 L736 256 L741 266 L746.4 276.8 L751 290 L756.8 305.5 L762 320 L767 334 L773 350 L780 365.6 L786 378 L793.4 389 L800 397 L809 404.8 L816 408.6 L824.7 411 L830 411.6 L953.7 411.6" fill="none" stroke="#111" stroke-width="1.3"/>
<line x1="586" y1="411.6" x2="953.7" y2="411.6" stroke="#444" stroke-width="1.2"/>
<g><g filter="url(#pc1)"><ellipse cx="186" cy="250" rx="22" ry="76" fill="#fff" fill-opacity="0.3" filter="url(#bl9)"/><ellipse cx="184" cy="266" rx="13" ry="48" fill="#fff" fill-opacity="0.4" filter="url(#bl7)"/><ellipse cx="183" cy="268" rx="7" ry="28" fill="#fff" fill-opacity="0.6" filter="url(#bl4)"/><ellipse cx="180" cy="342" rx="11" ry="36" fill="#fff" fill-opacity="0.2" filter="url(#bl6)"/><ellipse cx="190" cy="188" rx="19" ry="32" fill="#fff" fill-opacity="0.1" filter="url(#bl8)"/><ellipse cx="210" cy="262" rx="24" ry="24" fill="#fff" fill-opacity="0.3" filter="url(#bl7)"/><ellipse cx="258" cy="226" rx="60" ry="36" fill="#fff" fill-opacity="0.3" transform="rotate(-39 258 226)" filter="url(#bl10)"/><ellipse cx="320" cy="166" rx="66" ry="23" fill="#fff" fill-opacity="0.3" transform="rotate(-39 320 166)" filter="url(#bl9)"/><ellipse cx="258" cy="222" rx="50" ry="16" fill="#fff" fill-opacity="0.2" transform="rotate(-39 258 222)" filter="url(#bl6)"/><ellipse cx="280" cy="203" rx="36" ry="9" fill="#fff" fill-opacity="0.1" transform="rotate(-39 280 203)" filter="url(#bl5)"/></g></g>
<path d="M130.7 286.5h1.6v1.6h-1.6zM197 263.7h1.6v1.6h-1.6zM158 255.9h1.6v1.6h-1.6zM340.4 169.2h1.6v1.6h-1.6zM195.8 179.6h1.6v1.6h-1.6zM234.4 245.4h1.6v1.6h-1.6zM248.8 208.7h1.6v1.6h-1.6zM178.4 258.4h1.6v1.6h-1.6zM185.2 276.2h1.6v1.6h-1.6zM181.9 306.6h1.6v1.6h-1.6zM218.3 212.6h1.6v1.6h-1.6zM238.4 241.3h1.6v1.6h-1.6zM446.8 194.4h1.6v1.6h-1.6zM279.2 226.3h1.6v1.6h-1.6zM214.6 303.9h1.6v1.6h-1.6zM195.8 215.2h1.6v1.6h-1.6zM242 197.1h1.6v1.6h-1.6zM203.3 227.3h1.6v1.6h-1.6zM206.4 225.3h1.6v1.6h-1.6zM278.9 168.6h1.6v1.6h-1.6zM160.4 391h1.6v1.6h-1.6zM331.2 178h1.6v1.6h-1.6zM216.9 299.8h1.6v1.6h-1.6zM165.5 239.2h1.6v1.6h-1.6zM183.8 231.7h1.6v1.6h-1.6zM349.5 170.8h1.6v1.6h-1.6zM278.2 279.2h1.6v1.6h-1.6zM155.3 331.7h1.6v1.6h-1.6zM183.3 361h1.6v1.6h-1.6zM182.8 283.5h1.6v1.6h-1.6zM172.6 240.6h1.6v1.6h-1.6zM250.9 254.4h1.6v1.6h-1.6zM310.8 195.3h1.6v1.6h-1.6zM291.9 161.7h1.6v1.6h-1.6zM182 125.5h1.6v1.6h-1.6zM222.8 225.3h1.6v1.6h-1.6zM262.4 222.2h1.6v1.6h-1.6zM198.8 252.1h1.6v1.6h-1.6zM316.2 244.5h1.6v1.6h-1.6zM285.8 218.4h1.6v1.6h-1.6zM333.6 167.7h1.6v1.6h-1.6zM317.4 124.4h1.6v1.6h-1.6zM196.3 242.7h1.6v1.6h-1.6zM182.5 324.1h1.6v1.6h-1.6zM193.2 311.4h1.6v1.6h-1.6zM340.6 178h1.6v1.6h-1.6zM376.3 113.9h1.6v1.6h-1.6zM248.6 213.3h1.6v1.6h-1.6zM226.9 276.2h1.6v1.6h-1.6zM297.2 183.2h1.6v1.6h-1.6zM183.5 284.4h1.6v1.6h-1.6zM192.6 261.9h1.6v1.6h-1.6zM231.6 152.4h1.6v1.6h-1.6zM218.4 180.7h1.6v1.6h-1.6zM249.7 272.6h1.6v1.6h-1.6zM317 138.9h1.6v1.6h-1.6zM321.3 126h1.6v1.6h-1.6zM238.7 268.2h1.6v1.6h-1.6zM380.2 145.6h1.6v1.6h-1.6zM366.9 80.5h1.6v1.6h-1.6zM182.6 186.4h1.6v1.6h-1.6zM189.2 241.5h1.6v1.6h-1.6zM376.9 130.7h1.6v1.6h-1.6zM327.7 222.1h1.6v1.6h-1.6zM145.4 248.5h1.6v1.6h-1.6zM201.2 265.5h1.6v1.6h-1.6zM308.1 199.7h1.6v1.6h-1.6zM229.3 203.5h1.6v1.6h-1.6zM265.8 263.2h1.6v1.6h-1.6zM153.5 305.9h1.6v1.6h-1.6zM318.7 140.7h1.6v1.6h-1.6zM280.4 218.6h1.6v1.6h-1.6zM318.4 101.3h1.6v1.6h-1.6zM330.1 148.5h1.6v1.6h-1.6zM170.3 276.1h1.6v1.6h-1.6zM161.9 303.5h1.6v1.6h-1.6zM269.6 277.8h1.6v1.6h-1.6zM199.3 212.5h1.6v1.6h-1.6zM188.9 250h1.6v1.6h-1.6zM227.1 227.1h1.6v1.6h-1.6zM321.3 168.2h1.6v1.6h-1.6zM412.1 103.8h1.6v1.6h-1.6zM188.8 275.8h1.6v1.6h-1.6zM207.2 276.6h1.6v1.6h-1.6zM296.8 90.7h1.6v1.6h-1.6zM329.4 202.4h1.6v1.6h-1.6zM206.7 266.4h1.6v1.6h-1.6zM321.6 194.3h1.6v1.6h-1.6zM177.4 196h1.6v1.6h-1.6zM267.9 168.7h1.6v1.6h-1.6zM303.5 170.5h1.6v1.6h-1.6zM268.8 187.2h1.6v1.6h-1.6zM153.5 239h1.6v1.6h-1.6zM149.1 212.4h1.6v1.6h-1.6zM345.9 130.3h1.6v1.6h-1.6zM344.4 208.6h1.6v1.6h-1.6zM195.4 218h1.6v1.6h-1.6zM228.6 167h1.6v1.6h-1.6zM216.9 201.3h1.6v1.6h-1.6zM203 292.9h1.6v1.6h-1.6zM271.1 160.2h1.6v1.6h-1.6zM187.5 242.5h1.6v1.6h-1.6zM328.2 192.1h1.6v1.6h-1.6zM317.1 186.6h1.6v1.6h-1.6zM227.3 166h1.6v1.6h-1.6zM349 127.5h1.6v1.6h-1.6zM331.7 171.8h1.6v1.6h-1.6zM289.4 254.3h1.6v1.6h-1.6zM155.1 289.1h1.6v1.6h-1.6zM278.6 236.6h1.6v1.6h-1.6zM313.3 156h1.6v1.6h-1.6zM358.3 126h1.6v1.6h-1.6zM332.7 203.8h1.6v1.6h-1.6zM269.9 201.4h1.6v1.6h-1.6zM131.3 189h1.6v1.6h-1.6zM206.2 240.9h1.6v1.6h-1.6zM369.2 146.9h1.6v1.6h-1.6zM226.9 227h1.6v1.6h-1.6zM175.1 267h1.6v1.6h-1.6zM201.6 148.6h1.6v1.6h-1.6zM279.2 223.5h1.6v1.6h-1.6zM311 164.4h1.6v1.6h-1.6zM329.3 162.9h1.6v1.6h-1.6zM178.5 215.1h1.6v1.6h-1.6zM178.4 243.5h1.6v1.6h-1.6zM357.3 169.9h1.6v1.6h-1.6zM192.6 329h1.6v1.6h-1.6zM170.9 303.9h1.6v1.6h-1.6zM319.9 189.6h1.6v1.6h-1.6zM214.9 214.1h1.6v1.6h-1.6zM161.7 243.7h1.6v1.6h-1.6zM183 157.1h1.6v1.6h-1.6zM277.8 232.8h1.6v1.6h-1.6zM400.4 242.4h1.6v1.6h-1.6zM328 182.3h1.6v1.6h-1.6zM292.1 207.4h1.6v1.6h-1.6zM199.8 297.5h1.6v1.6h-1.6zM161.1 312.2h1.6v1.6h-1.6zM193.8 345.1h1.6v1.6h-1.6zM314.8 167h1.6v1.6h-1.6zM265.8 163.2h1.6v1.6h-1.6zM301.3 196h1.6v1.6h-1.6zM208.7 279h1.6v1.6h-1.6zM247 216.3h1.6v1.6h-1.6zM195.5 367.7h1.6v1.6h-1.6zM283.3 178.6h1.6v1.6h-1.6zM205.4 242.8h1.6v1.6h-1.6zM270.5 246.6h1.6v1.6h-1.6zM216.2 273.8h1.6v1.6h-1.6zM173.8 156.1h1.6v1.6h-1.6zM154.8 288.9h1.6v1.6h-1.6zM188.9 294.6h1.6v1.6h-1.6zM426.4 88.7h1.6v1.6h-1.6zM211.2 178.3h1.6v1.6h-1.6zM227.1 272.6h1.6v1.6h-1.6zM398.5 95.2h1.6v1.6h-1.6zM211.9 211.7h1.6v1.6h-1.6zM292.9 151h1.6v1.6h-1.6zM337.5 110.1h1.6v1.6h-1.6zM271.4 165.2h1.6v1.6h-1.6zM346.6 160.8h1.6v1.6h-1.6zM347.3 147.1h1.6v1.6h-1.6zM241.2 209.9h1.6v1.6h-1.6zM239.8 200.1h1.6v1.6h-1.6zM201.7 241.4h1.6v1.6h-1.6zM212.5 261.9h1.6v1.6h-1.6z" fill="#4565ad"/>
<path d="M0 0" fill="none"/>
<ellipse cx="304" cy="186" rx="109" ry="55" transform="rotate(-42.4 304 186)" fill="none" stroke="#111" stroke-width="1.2"/>
<text x="3" y="599" font-size="39" font-weight="bold">b</text>
<text x="68.3" y="634" font-size="28" textLength="1259" lengthAdjust="spacingAndGlyphs">Gating strategy: Quantification of CAR T cells in EpCAM OE MDA-MB-231 xenografts from NSG mice</text>
<g clip-path="url(#cp2)"><g filter="url(#pc2)"><path d="M84 684 L124 684 L124 890 L84 890 Z" fill="#fff" fill-opacity="0.10" filter="url(#bl3)"/><path d="M124 684 L364 684 L364 800 L124 800 Z" fill="#fff" fill-opacity="0.11" filter="url(#bl3)"/><path d="M124 730 L364 730 L364 800 L124 800 Z" fill="#fff" fill-opacity="0.01" filter="url(#bl8)"/><ellipse cx="175" cy="795" rx="70" ry="45" fill="#fff" fill-opacity="0" filter="url(#bl14)"/><path d="M124 760 L364 760 L364 800 L124 800 Z" fill="#fff" fill-opacity="0.01" filter="url(#bl8)"/><path d="M205 800 L364 800 L364 930 L300 925 L250 935 L223 939 L205 942 Z" fill="#fff" fill-opacity="0.19" filter="url(#bl5)"/><path d="M84 895 L100 870 L110 850 L118 820 L126 800 L192 800 L210 812 L235 828 L264 848 L290 862 L305 875 L310 895 L300 914 L284 920 L264 926 L223 939 L182 949 L141 956 L88 961 L84 961 Z" fill="#fff" fill-opacity="0.30" filter="url(#bl3)"/><path d="M290 862 L364 880 L364 915 L300 914 Z" fill="#fff" fill-opacity="0.05" filter="url(#bl5)"/><path d="M127.5 800 L127.5 712 L131 697 L137 693 L142.5 712 L143.5 800 Z" fill="#fff" fill-opacity="0.30" filter="url(#bl1_5)"/><ellipse cx="110" cy="905" rx="34" ry="58" fill="#fff" fill-opacity="0.2" transform="rotate(20 110 905)" filter="url(#bl9)"/><ellipse cx="108" cy="912" rx="22" ry="50" fill="#fff" fill-opacity="0.3" transform="rotate(20 108 912)" filter="url(#bl6)"/><ellipse cx="100" cy="928" rx="10" ry="30" fill="#fff" fill-opacity="0.1" transform="rotate(15 100 928)" filter="url(#bl4)"/><ellipse cx="91" cy="950" rx="4" ry="10" fill="#fff" fill-opacity="0.4" transform="rotate(10 91 950)" filter="url(#bl2_5)"/><ellipse cx="88.5" cy="956" rx="2" ry="4" fill="#fff" fill-opacity="0.7" filter="url(#bl1)"/><ellipse cx="152" cy="936" rx="28" ry="9" fill="#fff" fill-opacity="0.3" transform="rotate(-25 152 936)" filter="url(#bl5)"/><ellipse cx="152" cy="936" rx="18" ry="5" fill="#fff" fill-opacity="0.2" transform="rotate(-25 152 936)" filter="url(#bl3)"/></g></g>
<line x1="97" y1="686" x2="360.5" y2="686" stroke="#3d5fa9" stroke-width="2"/>
<line x1="360" y1="686" x2="360" y2="912" stroke="#3d5fa9" stroke-width="2"/>
<line x1="87" y1="800.8" x2="360.5" y2="800.8" stroke="#555" stroke-width="1"/>
<line x1="87" y1="800.8" x2="87" y2="961" stroke="#555" stroke-width="1"/>
<line x1="126" y1="691" x2="126" y2="800.8" stroke="#777" stroke-width="1"/>
<line x1="144.5" y1="691" x2="144.5" y2="800.8" stroke="#555" stroke-width="1"/>
<line x1="360.5" y1="800.8" x2="360.5" y2="961" stroke="#555" stroke-width="1"/>
<line x1="87" y1="961.3" x2="360.5" y2="961.3" stroke="#666" stroke-width="1"/>
<line x1="79" y1="743" x2="85" y2="743" stroke="#444" stroke-width="1"/>
<text x="70" y="746.5" font-size="9.5" text-anchor="end">10M</text>
<line x1="79" y1="808.4" x2="85" y2="808.4" stroke="#444" stroke-width="1"/>
<text x="70" y="811.9" font-size="9.5" text-anchor="end">7.0M</text>
<line x1="79" y1="873.4" x2="85" y2="873.4" stroke="#444" stroke-width="1"/>
<text x="70" y="876.9" font-size="9.5" text-anchor="end">4.0M</text>
<line x1="79" y1="938.8" x2="85" y2="938.8" stroke="#444" stroke-width="1"/>
<text x="70" y="942.3" font-size="9.5" text-anchor="end">1.0M</text>
<line x1="81" y1="695" x2="85" y2="695" stroke="#666" stroke-width="0.8"/>
<line x1="81" y1="711" x2="85" y2="711" stroke="#666" stroke-width="0.8"/>
<line x1="81" y1="727" x2="85" y2="727" stroke="#666" stroke-width="0.8"/>
<line x1="81" y1="759" x2="85" y2="759" stroke="#666" stroke-width="0.8"/>
<line x1="81" y1="776" x2="85" y2="776" stroke="#666" stroke-width="0.8"/>
<line x1="81" y1="792" x2="85" y2="792" stroke="#666" stroke-width="0.8"/>
<line x1="81" y1="825" x2="85" y2="825" stroke="#666" stroke-width="0.8"/>
<line x1="81" y1="841" x2="85" y2="841" stroke="#666" stroke-width="0.8"/>
<line x1="81" y1="857" x2="85" y2="857" stroke="#666" stroke-width="0.8"/>
<line x1="81" y1="890" x2="85" y2="890" stroke="#666" stroke-width="0.8"/>
<line x1="81" y1="906" x2="85" y2="906" stroke="#666" stroke-width="0.8"/>
<line x1="81" y1="922" x2="85" y2="922" stroke="#666" stroke-width="0.8"/>
<line x1="81" y1="955" x2="85" y2="955" stroke="#666" stroke-width="0.8"/>
<line x1="168" y1="961.3" x2="168" y2="967.3" stroke="#444" stroke-width="1"/>
<text x="168" y="980" font-size="9.5" text-anchor="middle">5.0M</text>
<line x1="248.4" y1="961.3" x2="248.4" y2="967.3" stroke="#444" stroke-width="1"/>
<text x="248.4" y="980" font-size="9.5" text-anchor="middle">10M</text>
<line x1="330.4" y1="961.3" x2="330.4" y2="967.3" stroke="#444" stroke-width="1"/>
<text x="330.4" y="980" font-size="9.5" text-anchor="middle">15M</text>
<line x1="103" y1="961.3" x2="103" y2="965" stroke="#666" stroke-width="0.8"/>
<line x1="119" y1="961.3" x2="119" y2="965" stroke="#666" stroke-width="0.8"/>
<line x1="135" y1="961.3" x2="135" y2="965" stroke="#666" stroke-width="0.8"/>
<line x1="152" y1="961.3" x2="152" y2="965" stroke="#666" stroke-width="0.8"/>
<line x1="184" y1="961.3" x2="184" y2="965" stroke="#666" stroke-width="0.8"/>
<line x1="200" y1="961.3" x2="200" y2="965" stroke="#666" stroke-width="0.8"/>
<line x1="216" y1="961.3" x2="216" y2="965" stroke="#666" stroke-width="0.8"/>
<line x1="232" y1="961.3" x2="232" y2="965" stroke="#666" stroke-width="0.8"/>
<line x1="264" y1="961.3" x2="264" y2="965" stroke="#666" stroke-width="0.8"/>
<line x1="281" y1="961.3" x2="281" y2="965" stroke="#666" stroke-width="0.8"/>
<line x1="297" y1="961.3" x2="297" y2="965" stroke="#666" stroke-width="0.8"/>
<line x1="313" y1="961.3" x2="313" y2="965" stroke="#666" stroke-width="0.8"/>
<line x1="346" y1="961.3" x2="346" y2="965" stroke="#666" stroke-width="0.8"/>
<line x1="42.8" y1="746" x2="42.8" y2="970" stroke="#333" stroke-width="1.6"/>
<path d="M42.8 738 L37.8 749 L47.8 749 Z" fill="#333"/>
<text transform="translate(35 969) rotate(-90)" font-size="28">Beads</text>
<line x1="59" y1="990.6" x2="284" y2="990.6" stroke="#333" stroke-width="1.6"/>
<path d="M292 990.6 L281 985.6 L281 995.6 Z" fill="#333"/>
<text x="60" y="1015" font-size="28">FSC-A</text>
<g clip-path="url(#cp3)"><g filter="url(#pc3)"><path d="M531 966 L531 880 L540 780 L552 688 L566 688 L548 800 L540 966 Z" fill="#fff" fill-opacity="0.11" filter="url(#bl4)"/><path d="M600 688 L809 688 L809 866 L765 874 L734 894 L704 925 L680 940 L620 955 Z" fill="#fff" fill-opacity="0.12" filter="url(#bl4)"/><path d="M600 688 L690 688 L700 772 L720 830 L725 880 L710 915 L680 935 L640 950 L600 962 L581.5 959.4 Z" fill="#fff" fill-opacity="0.04" filter="url(#bl4)"/><path d="M533.6 966 L535 930 L540 880 L548 830 L555 770 L559 720 L562 688 L642.7 688 L638.6 731 L645 772 L662 812.7 L680 853.4 L686 880 L683.4 914.6 L663 931 L622.3 945 L581.5 959.4 L561 966 Z" fill="#fff" fill-opacity="0.30" filter="url(#bl2)"/><ellipse cx="555" cy="880" rx="18" ry="90" fill="#fff" fill-opacity="0.2" transform="rotate(10 555 880)" filter="url(#bl8)"/><ellipse cx="551" cy="895" rx="12" ry="70" fill="#fff" fill-opacity="0.3" transform="rotate(9 551 895)" filter="url(#bl5)"/><ellipse cx="543" cy="930" rx="7" ry="38" fill="#fff" fill-opacity="0.2" transform="rotate(7 543 930)" filter="url(#bl4)"/><ellipse cx="536" cy="955" rx="3" ry="9" fill="#fff" fill-opacity="0.5" filter="url(#bl2)"/><ellipse cx="534" cy="961" rx="2" ry="4" fill="#fff" fill-opacity="0.7" filter="url(#bl1)"/><ellipse cx="598" cy="938" rx="22" ry="8" fill="#fff" fill-opacity="0.3" transform="rotate(-30 598 938)" filter="url(#bl5)"/><ellipse cx="598" cy="938" rx="14" ry="4.5" fill="#fff" fill-opacity="0.2" transform="rotate(-30 598 938)" filter="url(#bl3)"/></g></g>
<line x1="557" y1="691" x2="807" y2="691" stroke="#3d5fa9" stroke-width="2"/>
<path d="M564 965 L655.5 698.4" fill="none" stroke="#111" stroke-width="1.1" stroke-dasharray="2 1.5"/>
<path d="M655.5 698.4 L790 701 L800.7 708 L800.7 959.6 L700 961 L600 963 L564 965" fill="none" stroke="#111" stroke-width="1.1"/>
<line x1="532.7" y1="690" x2="532.7" y2="966.4" stroke="#666" stroke-width="1"/>
<line x1="532.7" y1="966.4" x2="807" y2="966.4" stroke="#666" stroke-width="1"/>
<line x1="526.7" y1="720.3" x2="532.7" y2="720.3" stroke="#444" stroke-width="1"/>
<text x="517" y="723.8" font-size="9.5" text-anchor="end">15M</text>
<line x1="526.7" y1="801.8" x2="532.7" y2="801.8" stroke="#444" stroke-width="1"/>
<text x="517" y="805.3" font-size="9.5" text-anchor="end">10M</text>
<line x1="526.7" y1="883.8" x2="532.7" y2="883.8" stroke="#444" stroke-width="1"/>
<text x="517" y="887.3" font-size="9.5" text-anchor="end">5.0M</text>
<line x1="529" y1="704" x2="532.7" y2="704" stroke="#666" stroke-width="0.8"/>
<line x1="529" y1="737" x2="532.7" y2="737" stroke="#666" stroke-width="0.8"/>
<line x1="529" y1="753" x2="532.7" y2="753" stroke="#666" stroke-width="0.8"/>
<line x1="529" y1="769" x2="532.7" y2="769" stroke="#666" stroke-width="0.8"/>
<line x1="529" y1="785" x2="532.7" y2="785" stroke="#666" stroke-width="0.8"/>
<line x1="529" y1="818" x2="532.7" y2="818" stroke="#666" stroke-width="0.8"/>
<line x1="529" y1="834" x2="532.7" y2="834" stroke="#666" stroke-width="0.8"/>
<line x1="529" y1="850" x2="532.7" y2="850" stroke="#666" stroke-width="0.8"/>
<line x1="529" y1="867" x2="532.7" y2="867" stroke="#666" stroke-width="0.8"/>
<line x1="529" y1="900" x2="532.7" y2="900" stroke="#666" stroke-width="0.8"/>
<line x1="529" y1="916" x2="532.7" y2="916" stroke="#666" stroke-width="0.8"/>
<line x1="529" y1="933" x2="532.7" y2="933" stroke="#666" stroke-width="0.8"/>
<line x1="529" y1="949" x2="532.7" y2="949" stroke="#666" stroke-width="0.8"/>
<line x1="612" y1="966.4" x2="612" y2="972.4" stroke="#444" stroke-width="1"/>
<text x="612" y="986" font-size="9.5" text-anchor="middle">5.0M</text>
<line x1="694.6" y1="966.4" x2="694.6" y2="972.4" stroke="#444" stroke-width="1"/>
<text x="694.6" y="986" font-size="9.5" text-anchor="middle">10M</text>
<line x1="776.7" y1="966.4" x2="776.7" y2="972.4" stroke="#444" stroke-width="1"/>
<text x="776.7" y="986" font-size="9.5" text-anchor="middle">15M</text>
<line x1="549" y1="966.4" x2="549" y2="970" stroke="#666" stroke-width="0.8"/>
<line x1="565" y1="966.4" x2="565" y2="970" stroke="#666" stroke-width="0.8"/>
<line x1="581" y1="966.4" x2="581" y2="970" stroke="#666" stroke-width="0.8"/>
<line x1="596" y1="966.4" x2="596" y2="970" stroke="#666" stroke-width="0.8"/>
<line x1="628" y1="966.4" x2="628" y2="970" stroke="#666" stroke-width="0.8"/>
<line x1="645" y1="966.4" x2="645" y2="970" stroke="#666" stroke-width="0.8"/>
<line x1="661" y1="966.4" x2="661" y2="970" stroke="#666" stroke-width="0.8"/>
<line x1="678" y1="966.4" x2="678" y2="970" stroke="#666" stroke-width="0.8"/>
<line x1="711" y1="966.4" x2="711" y2="970" stroke="#666" stroke-width="0.8"/>
<line x1="727" y1="966.4" x2="727" y2="970" stroke="#666" stroke-width="0.8"/>
<line x1="743" y1="966.4" x2="743" y2="970" stroke="#666" stroke-width="0.8"/>
<line x1="760" y1="966.4" x2="760" y2="970" stroke="#666" stroke-width="0.8"/>
<line x1="793" y1="966.4" x2="793" y2="970" stroke="#666" stroke-width="0.8"/>
<line x1="485.7" y1="745.6" x2="485.7" y2="970" stroke="#333" stroke-width="1.6"/>
<path d="M485.7 737.6 L480.7 748.6 L490.7 748.6 Z" fill="#333"/>
<text transform="translate(478 970) rotate(-90)" font-size="28">SSC-A</text>
<line x1="501" y1="991" x2="726" y2="991" stroke="#333" stroke-width="1.6"/>
<path d="M734 991 L723 986 L723 996 Z" fill="#333"/>
<text x="502.4" y="1015.4" font-size="28">FSC-A</text>
<g><g filter="url(#pc4)"><path d="M1060 890 L1140 845 L1183 824 L1215 808 L1248 798 L1256 830 L1250 890 L1225 905 L1170 934 L1098 952 L1060 952 Z" fill="#fff" fill-opacity="0.12" filter="url(#bl5)"/><path d="M1100 866 L1140 848 L1183 830 L1205 823 L1225 850 L1215 895 L1170 925 L1128 940 L1100 945 Z" fill="#fff" fill-opacity="0.05" filter="url(#bl8)"/><path d="M1010 935 L1013 925 L1040 905 L1072 884 L1100 868 L1128 854 L1150 846 L1162 855 L1158 885 L1145 912 L1128 928 L1100 940 L1072 946 L1040 950 L1017 951 Z" fill="#fff" fill-opacity="0.30" filter="url(#bl4)"/><ellipse cx="1082" cy="898" rx="66" ry="20" fill="#fff" fill-opacity="0.3" transform="rotate(-30 1082 898)" filter="url(#bl8)"/><ellipse cx="1078" cy="899" rx="46" ry="13" fill="#fff" fill-opacity="0.2" transform="rotate(-30 1078 899)" filter="url(#bl6)"/><ellipse cx="1050" cy="911" rx="16" ry="5" fill="#fff" fill-opacity="0.3" transform="rotate(-33 1050 911)" filter="url(#bl3)"/><ellipse cx="1045" cy="914" rx="13" ry="3.5" fill="#fff" fill-opacity="0.8" transform="rotate(-33 1045 914)" filter="url(#bl2)"/></g></g>
<path d="M1000 931.5 L1214.6 796.3 L1235.6 801.8 L1252.4 846.2 L1018 958.5 Z" fill="none" stroke="#111" stroke-width="1"/>
<line x1="980.9" y1="691" x2="980.9" y2="966.3" stroke="#666" stroke-width="1"/>
<line x1="980.9" y1="966.3" x2="1257" y2="966.3" stroke="#666" stroke-width="1"/>
<line x1="974.9" y1="751.9" x2="980.9" y2="751.9" stroke="#444" stroke-width="1"/>
<text x="967" y="755.4" font-size="9.5" text-anchor="end">10M</text>
<line x1="974.9" y1="817.4" x2="980.9" y2="817.4" stroke="#444" stroke-width="1"/>
<text x="967" y="820.9" font-size="9.5" text-anchor="end">7.0M</text>
<line x1="974.9" y1="881.6" x2="980.9" y2="881.6" stroke="#444" stroke-width="1"/>
<text x="967" y="885.1" font-size="9.5" text-anchor="end">4.0M</text>
<line x1="974.9" y1="945.9" x2="980.9" y2="945.9" stroke="#444" stroke-width="1"/>
<text x="967" y="949.4" font-size="9.5" text-anchor="end">1.0M</text>
<line x1="977" y1="706" x2="980.9" y2="706" stroke="#666" stroke-width="0.8"/>
<line x1="977" y1="721" x2="980.9" y2="721" stroke="#666" stroke-width="0.8"/>
<line x1="977" y1="736" x2="980.9" y2="736" stroke="#666" stroke-width="0.8"/>
<line x1="977" y1="773" x2="980.9" y2="773" stroke="#666" stroke-width="0.8"/>
<line x1="977" y1="795" x2="980.9" y2="795" stroke="#666" stroke-width="0.8"/>
<line x1="977" y1="838" x2="980.9" y2="838" stroke="#666" stroke-width="0.8"/>
<line x1="977" y1="860" x2="980.9" y2="860" stroke="#666" stroke-width="0.8"/>
<line x1="977" y1="903" x2="980.9" y2="903" stroke="#666" stroke-width="0.8"/>
<line x1="977" y1="924" x2="980.9" y2="924" stroke="#666" stroke-width="0.8"/>
<line x1="1060" y1="966.3" x2="1060" y2="972.3" stroke="#444" stroke-width="1"/>
<text x="1060" y="986" font-size="9.5" text-anchor="middle">5.0M</text>
<line x1="1142.5" y1="966.3" x2="1142.5" y2="972.3" stroke="#444" stroke-width="1"/>
<text x="1142.5" y="986" font-size="9.5" text-anchor="middle">10M</text>
<line x1="1224" y1="966.3" x2="1224" y2="972.3" stroke="#444" stroke-width="1"/>
<text x="1224" y="986" font-size="9.5" text-anchor="middle">15M</text>
<line x1="997" y1="966.3" x2="997" y2="970" stroke="#666" stroke-width="0.8"/>
<line x1="1013" y1="966.3" x2="1013" y2="970" stroke="#666" stroke-width="0.8"/>
<line x1="1029" y1="966.3" x2="1029" y2="970" stroke="#666" stroke-width="0.8"/>
<line x1="1044" y1="966.3" x2="1044" y2="970" stroke="#666" stroke-width="0.8"/>
<line x1="1076" y1="966.3" x2="1076" y2="970" stroke="#666" stroke-width="0.8"/>
<line x1="1093" y1="966.3" x2="1093" y2="970" stroke="#666" stroke-width="0.8"/>
<line x1="1109" y1="966.3" x2="1109" y2="970" stroke="#666" stroke-width="0.8"/>
<line x1="1126" y1="966.3" x2="1126" y2="970" stroke="#666" stroke-width="0.8"/>
<line x1="1159" y1="966.3" x2="1159" y2="970" stroke="#666" stroke-width="0.8"/>
<line x1="1175" y1="966.3" x2="1175" y2="970" stroke="#666" stroke-width="0.8"/>
<line x1="1191" y1="966.3" x2="1191" y2="970" stroke="#666" stroke-width="0.8"/>
<line x1="1208" y1="966.3" x2="1208" y2="970" stroke="#666" stroke-width="0.8"/>
<line x1="1240" y1="966.3" x2="1240" y2="970" stroke="#666" stroke-width="0.8"/>
<line x1="937" y1="746" x2="937" y2="972" stroke="#333" stroke-width="1.6"/>
<path d="M937 738 L932 749 L942 749 Z" fill="#333"/>
<text transform="translate(930 971) rotate(-90)" font-size="28">FSC-H</text>
<line x1="952" y1="990.4" x2="1178" y2="990.4" stroke="#333" stroke-width="1.6"/>
<path d="M1186 990.4 L1175 985.4 L1175 995.4 Z" fill="#333"/>
<text x="953" y="1015.6" font-size="28">FSC-A</text>
<g clip-path="url(#cp5)"><g filter="url(#pc5)"><path d="M1478 790 C1478 765 1500 757 1540 752 C1580 746 1640 748 1670 758 C1684 764 1688 775 1688 790 L1688 962 L1478 962 Z" fill="#fff" fill-opacity="0.12" filter="url(#bl4)"/><path d="M1478 787 L1687 787 L1687 944 L1478 944 Z" fill="#fff" fill-opacity="0.10" filter="url(#bl2_5)"/><path d="M1478 800 L1687 800 L1687 930 L1478 930 Z" fill="#fff" fill-opacity="0.08" filter="url(#bl6)"/><ellipse cx="1575" cy="822" rx="120" ry="19" fill="#fff" fill-opacity="0.4" filter="url(#bl6)"/><ellipse cx="1560" cy="823" rx="90" ry="7" fill="#fff" fill-opacity="0.2" filter="url(#bl4)"/><ellipse cx="1488" cy="828" rx="10" ry="6" fill="#fff" fill-opacity="0.3" filter="url(#bl3)"/><ellipse cx="1484" cy="832" rx="4" ry="3" fill="#fff" fill-opacity="0.5" filter="url(#bl1_5)"/><ellipse cx="1578" cy="897" rx="115" ry="38" fill="#fff" fill-opacity="0.3" filter="url(#bl9)"/><ellipse cx="1575" cy="897" rx="95" ry="27" fill="#fff" fill-opacity="0.3" filter="url(#bl7)"/><ellipse cx="1565" cy="900" rx="75" ry="15" fill="#fff" fill-opacity="0.3" filter="url(#bl6)"/><ellipse cx="1590" cy="898" rx="32" ry="8" fill="#fff" fill-opacity="0.3" filter="url(#bl4)"/><ellipse cx="1508" cy="903" rx="15" ry="13" fill="#fff" fill-opacity="0.6" filter="url(#bl4)"/><ellipse cx="1508" cy="903" rx="9" ry="8" fill="#fff" fill-opacity="0.5" filter="url(#bl3)"/></g></g>
<path d="M1451.8 877.4 L1567.7 844.4 L1689.7 844.4 L1692 957.3 L1453.6 957.3 Z" fill="none" stroke="#111" stroke-width="1"/>
<line x1="1423.6" y1="691.2" x2="1698" y2="691.2" stroke="#666" stroke-width="1"/>
<line x1="1423.6" y1="702" x2="1423.6" y2="966" stroke="#666" stroke-width="1"/>
<line x1="1423.6" y1="966" x2="1698" y2="966" stroke="#666" stroke-width="1"/>
<line x1="1417" y1="732" x2="1423.6" y2="732" stroke="#444" stroke-width="1"/>
<text x="1403" y="738" font-size="10" text-anchor="end">10</text>
<text x="1410" y="731" font-size="8" text-anchor="end">6</text>
<line x1="1417" y1="791" x2="1423.6" y2="791" stroke="#444" stroke-width="1"/>
<text x="1403" y="797" font-size="10" text-anchor="end">10</text>
<text x="1410" y="790" font-size="8" text-anchor="end">5</text>
<line x1="1417" y1="852" x2="1423.6" y2="852" stroke="#444" stroke-width="1"/>
<text x="1403" y="858" font-size="10" text-anchor="end">10</text>
<text x="1410" y="851" font-size="8" text-anchor="end">4</text>
<line x1="1417" y1="922.5" x2="1423.6" y2="922.5" stroke="#444" stroke-width="1"/>
<text x="1405" y="926" font-size="9.5" text-anchor="end">0</text>
<line x1="1420" y1="773.2" x2="1423.6" y2="773.2" stroke="#666" stroke-width="0.8"/>
<line x1="1420" y1="762.8" x2="1423.6" y2="762.8" stroke="#666" stroke-width="0.8"/>
<line x1="1420" y1="755.5" x2="1423.6" y2="755.5" stroke="#666" stroke-width="0.8"/>
<line x1="1420" y1="749.8" x2="1423.6" y2="749.8" stroke="#666" stroke-width="0.8"/>
<line x1="1420" y1="745.1" x2="1423.6" y2="745.1" stroke="#666" stroke-width="0.8"/>
<line x1="1420" y1="741.1" x2="1423.6" y2="741.1" stroke="#666" stroke-width="0.8"/>
<line x1="1420" y1="737.7" x2="1423.6" y2="737.7" stroke="#666" stroke-width="0.8"/>
<line x1="1420" y1="734.7" x2="1423.6" y2="734.7" stroke="#666" stroke-width="0.8"/>
<line x1="1420" y1="833.6" x2="1423.6" y2="833.6" stroke="#666" stroke-width="0.8"/>
<line x1="1420" y1="822.9" x2="1423.6" y2="822.9" stroke="#666" stroke-width="0.8"/>
<line x1="1420" y1="815.3" x2="1423.6" y2="815.3" stroke="#666" stroke-width="0.8"/>
<line x1="1420" y1="809.4" x2="1423.6" y2="809.4" stroke="#666" stroke-width="0.8"/>
<line x1="1420" y1="804.5" x2="1423.6" y2="804.5" stroke="#666" stroke-width="0.8"/>
<line x1="1420" y1="800.4" x2="1423.6" y2="800.4" stroke="#666" stroke-width="0.8"/>
<line x1="1420" y1="796.9" x2="1423.6" y2="796.9" stroke="#666" stroke-width="0.8"/>
<line x1="1420" y1="793.8" x2="1423.6" y2="793.8" stroke="#666" stroke-width="0.8"/>
<line x1="1420" y1="710" x2="1423.6" y2="710" stroke="#666" stroke-width="0.8"/>
<line x1="1420" y1="716" x2="1423.6" y2="716" stroke="#666" stroke-width="0.8"/>
<line x1="1420" y1="720" x2="1423.6" y2="720" stroke="#666" stroke-width="0.8"/>
<line x1="1420" y1="724" x2="1423.6" y2="724" stroke="#666" stroke-width="0.8"/>
<line x1="1420" y1="727" x2="1423.6" y2="727" stroke="#666" stroke-width="0.8"/>
<line x1="1420" y1="860" x2="1423.6" y2="860" stroke="#666" stroke-width="0.8"/>
<line x1="1420" y1="868" x2="1423.6" y2="868" stroke="#666" stroke-width="0.8"/>
<line x1="1420" y1="876" x2="1423.6" y2="876" stroke="#666" stroke-width="0.8"/>
<line x1="1420" y1="885" x2="1423.6" y2="885" stroke="#666" stroke-width="0.8"/>
<line x1="1420" y1="893" x2="1423.6" y2="893" stroke="#666" stroke-width="0.8"/>
<line x1="1420" y1="900" x2="1423.6" y2="900" stroke="#666" stroke-width="0.8"/>
<line x1="1420" y1="908" x2="1423.6" y2="908" stroke="#666" stroke-width="0.8"/>
<line x1="1420" y1="914" x2="1423.6" y2="914" stroke="#666" stroke-width="0.8"/>
<line x1="1420" y1="918" x2="1423.6" y2="918" stroke="#666" stroke-width="0.8"/>
<line x1="1420" y1="926" x2="1423.6" y2="926" stroke="#666" stroke-width="0.8"/>
<line x1="1420" y1="930" x2="1423.6" y2="930" stroke="#666" stroke-width="0.8"/>
<line x1="1420" y1="936" x2="1423.6" y2="936" stroke="#666" stroke-width="0.8"/>
<line x1="1420" y1="945" x2="1423.6" y2="945" stroke="#666" stroke-width="0.8"/>
<line x1="1420" y1="955" x2="1423.6" y2="955" stroke="#666" stroke-width="0.8"/>
<line x1="1504.7" y1="966" x2="1504.7" y2="972" stroke="#444" stroke-width="1"/>
<text x="1504.7" y="986" font-size="9.5" text-anchor="middle">5.0M</text>
<line x1="1585.8" y1="966" x2="1585.8" y2="972" stroke="#444" stroke-width="1"/>
<text x="1585.8" y="986" font-size="9.5" text-anchor="middle">10M</text>
<line x1="1666.8" y1="966" x2="1666.8" y2="972" stroke="#444" stroke-width="1"/>
<text x="1666.8" y="986" font-size="9.5" text-anchor="middle">15M</text>
<line x1="1440" y1="966" x2="1440" y2="970" stroke="#666" stroke-width="0.8"/>
<line x1="1456" y1="966" x2="1456" y2="970" stroke="#666" stroke-width="0.8"/>
<line x1="1472" y1="966" x2="1472" y2="970" stroke="#666" stroke-width="0.8"/>
<line x1="1488" y1="966" x2="1488" y2="970" stroke="#666" stroke-width="0.8"/>
<line x1="1521" y1="966" x2="1521" y2="970" stroke="#666" stroke-width="0.8"/>
<line x1="1537" y1="966" x2="1537" y2="970" stroke="#666" stroke-width="0.8"/>
<line x1="1553" y1="966" x2="1553" y2="970" stroke="#666" stroke-width="0.8"/>
<line x1="1569" y1="966" x2="1569" y2="970" stroke="#666" stroke-width="0.8"/>
<line x1="1602" y1="966" x2="1602" y2="970" stroke="#666" stroke-width="0.8"/>
<line x1="1618" y1="966" x2="1618" y2="970" stroke="#666" stroke-width="0.8"/>
<line x1="1634" y1="966" x2="1634" y2="970" stroke="#666" stroke-width="0.8"/>
<line x1="1650" y1="966" x2="1650" y2="970" stroke="#666" stroke-width="0.8"/>
<line x1="1683" y1="966" x2="1683" y2="970" stroke="#666" stroke-width="0.8"/>
<line x1="1385.7" y1="746" x2="1385.7" y2="972" stroke="#333" stroke-width="1.6"/>
<path d="M1385.7 738 L1380.7 749 L1390.7 749 Z" fill="#333"/>
<text transform="translate(1378 969) rotate(-90)" font-size="28">7-AAD</text>
<line x1="1401" y1="990" x2="1626" y2="990" stroke="#333" stroke-width="1.6"/>
<path d="M1634 990 L1623 985 L1623 995 Z" fill="#333"/>
<text x="1403.8" y="1015.6" font-size="28">FSC-A</text>
<line x1="353" y1="829" x2="542" y2="829" stroke="#e2233a" stroke-width="4"/>
<path d="M569 829 L539 814 L539 844 Z" fill="#e2233a"/>
<line x1="776" y1="828" x2="925" y2="828" stroke="#e2233a" stroke-width="4"/>
<path d="M952 828 L922 813 L922 843 Z" fill="#e2233a"/>
<line x1="1229" y1="828" x2="1388" y2="828" stroke="#e2233a" stroke-width="4"/>
<path d="M1415 828 L1385 813 L1385 843 Z" fill="#e2233a"/>
<text x="521" y="1057" font-size="26">Unstimulated</text>
<text x="692" y="1057" font-size="26" textLength="186" lengthAdjust="spacingAndGlyphs">PMA/Ionomycin</text>
<line x1="519.4" y1="1077.5" x2="681" y2="1077.5" stroke="#888" stroke-width="0.8"/>
<line x1="681" y1="1077.5" x2="681" y2="1241.8" stroke="#888" stroke-width="0.8"/>
<line x1="517.4" y1="1087.5" x2="519.4" y2="1087.5" stroke="#999" stroke-width="0.6"/>
<line x1="517.4" y1="1094" x2="519.4" y2="1094" stroke="#999" stroke-width="0.6"/>
<line x1="517.4" y1="1100.5" x2="519.4" y2="1100.5" stroke="#999" stroke-width="0.6"/>
<line x1="517.4" y1="1107" x2="519.4" y2="1107" stroke="#999" stroke-width="0.6"/>
<line x1="517.4" y1="1113.5" x2="519.4" y2="1113.5" stroke="#999" stroke-width="0.6"/>
<line x1="517.4" y1="1120" x2="519.4" y2="1120" stroke="#999" stroke-width="0.6"/>
<line x1="517.4" y1="1126.5" x2="519.4" y2="1126.5" stroke="#999" stroke-width="0.6"/>
<line x1="517.4" y1="1133" x2="519.4" y2="1133" stroke="#999" stroke-width="0.6"/>
<line x1="517.4" y1="1139.5" x2="519.4" y2="1139.5" stroke="#999" stroke-width="0.6"/>
<line x1="517.4" y1="1146" x2="519.4" y2="1146" stroke="#999" stroke-width="0.6"/>
<line x1="517.4" y1="1152.5" x2="519.4" y2="1152.5" stroke="#999" stroke-width="0.6"/>
<line x1="517.4" y1="1159" x2="519.4" y2="1159" stroke="#999" stroke-width="0.6"/>
<line x1="517.4" y1="1165.5" x2="519.4" y2="1165.5" stroke="#999" stroke-width="0.6"/>
<line x1="517.4" y1="1172" x2="519.4" y2="1172" stroke="#999" stroke-width="0.6"/>
<line x1="517.4" y1="1178.5" x2="519.4" y2="1178.5" stroke="#999" stroke-width="0.6"/>
<line x1="517.4" y1="1185" x2="519.4" y2="1185" stroke="#999" stroke-width="0.6"/>
<line x1="517.4" y1="1191.5" x2="519.4" y2="1191.5" stroke="#999" stroke-width="0.6"/>
<line x1="517.4" y1="1198" x2="519.4" y2="1198" stroke="#999" stroke-width="0.6"/>
<line x1="517.4" y1="1204.5" x2="519.4" y2="1204.5" stroke="#999" stroke-width="0.6"/>
<line x1="517.4" y1="1211" x2="519.4" y2="1211" stroke="#999" stroke-width="0.6"/>
<line x1="517.4" y1="1217.5" x2="519.4" y2="1217.5" stroke="#999" stroke-width="0.6"/>
<line x1="517.4" y1="1224" x2="519.4" y2="1224" stroke="#999" stroke-width="0.6"/>
<line x1="517.4" y1="1230.5" x2="519.4" y2="1230.5" stroke="#999" stroke-width="0.6"/>
<line x1="529.4" y1="1241.8" x2="529.4" y2="1243.8" stroke="#999" stroke-width="0.6"/>
<line x1="535.9" y1="1241.8" x2="535.9" y2="1243.8" stroke="#999" stroke-width="0.6"/>
<line x1="542.4" y1="1241.8" x2="542.4" y2="1243.8" stroke="#999" stroke-width="0.6"/>
<line x1="548.9" y1="1241.8" x2="548.9" y2="1243.8" stroke="#999" stroke-width="0.6"/>
<line x1="555.4" y1="1241.8" x2="555.4" y2="1243.8" stroke="#999" stroke-width="0.6"/>
<line x1="561.9" y1="1241.8" x2="561.9" y2="1243.8" stroke="#999" stroke-width="0.6"/>
<line x1="568.4" y1="1241.8" x2="568.4" y2="1243.8" stroke="#999" stroke-width="0.6"/>
<line x1="574.9" y1="1241.8" x2="574.9" y2="1243.8" stroke="#999" stroke-width="0.6"/>
<line x1="581.4" y1="1241.8" x2="581.4" y2="1243.8" stroke="#999" stroke-width="0.6"/>
<line x1="587.9" y1="1241.8" x2="587.9" y2="1243.8" stroke="#999" stroke-width="0.6"/>
<line x1="594.4" y1="1241.8" x2="594.4" y2="1243.8" stroke="#999" stroke-width="0.6"/>
<line x1="600.9" y1="1241.8" x2="600.9" y2="1243.8" stroke="#999" stroke-width="0.6"/>
<line x1="607.4" y1="1241.8" x2="607.4" y2="1243.8" stroke="#999" stroke-width="0.6"/>
<line x1="613.9" y1="1241.8" x2="613.9" y2="1243.8" stroke="#999" stroke-width="0.6"/>
<line x1="620.4" y1="1241.8" x2="620.4" y2="1243.8" stroke="#999" stroke-width="0.6"/>
<line x1="626.9" y1="1241.8" x2="626.9" y2="1243.8" stroke="#999" stroke-width="0.6"/>
<line x1="633.4" y1="1241.8" x2="633.4" y2="1243.8" stroke="#999" stroke-width="0.6"/>
<line x1="639.9" y1="1241.8" x2="639.9" y2="1243.8" stroke="#999" stroke-width="0.6"/>
<line x1="646.4" y1="1241.8" x2="646.4" y2="1243.8" stroke="#999" stroke-width="0.6"/>
<line x1="652.9" y1="1241.8" x2="652.9" y2="1243.8" stroke="#999" stroke-width="0.6"/>
<line x1="659.4" y1="1241.8" x2="659.4" y2="1243.8" stroke="#999" stroke-width="0.6"/>
<line x1="665.9" y1="1241.8" x2="665.9" y2="1243.8" stroke="#999" stroke-width="0.6"/>
<line x1="672.4" y1="1241.8" x2="672.4" y2="1243.8" stroke="#999" stroke-width="0.6"/>
<line x1="701.8" y1="1079" x2="864.5" y2="1079" stroke="#888" stroke-width="0.8"/>
<line x1="864.5" y1="1079" x2="864.5" y2="1241.8" stroke="#888" stroke-width="0.8"/>
<line x1="699.8" y1="1089" x2="701.8" y2="1089" stroke="#999" stroke-width="0.6"/>
<line x1="699.8" y1="1095.5" x2="701.8" y2="1095.5" stroke="#999" stroke-width="0.6"/>
<line x1="699.8" y1="1102" x2="701.8" y2="1102" stroke="#999" stroke-width="0.6"/>
<line x1="699.8" y1="1108.5" x2="701.8" y2="1108.5" stroke="#999" stroke-width="0.6"/>
<line x1="699.8" y1="1115" x2="701.8" y2="1115" stroke="#999" stroke-width="0.6"/>
<line x1="699.8" y1="1121.5" x2="701.8" y2="1121.5" stroke="#999" stroke-width="0.6"/>
<line x1="699.8" y1="1128" x2="701.8" y2="1128" stroke="#999" stroke-width="0.6"/>
<line x1="699.8" y1="1134.5" x2="701.8" y2="1134.5" stroke="#999" stroke-width="0.6"/>
<line x1="699.8" y1="1141" x2="701.8" y2="1141" stroke="#999" stroke-width="0.6"/>
<line x1="699.8" y1="1147.5" x2="701.8" y2="1147.5" stroke="#999" stroke-width="0.6"/>
<line x1="699.8" y1="1154" x2="701.8" y2="1154" stroke="#999" stroke-width="0.6"/>
<line x1="699.8" y1="1160.5" x2="701.8" y2="1160.5" stroke="#999" stroke-width="0.6"/>
<line x1="699.8" y1="1167" x2="701.8" y2="1167" stroke="#999" stroke-width="0.6"/>
<line x1="699.8" y1="1173.5" x2="701.8" y2="1173.5" stroke="#999" stroke-width="0.6"/>
<line x1="699.8" y1="1180" x2="701.8" y2="1180" stroke="#999" stroke-width="0.6"/>
<line x1="699.8" y1="1186.5" x2="701.8" y2="1186.5" stroke="#999" stroke-width="0.6"/>
<line x1="699.8" y1="1193" x2="701.8" y2="1193" stroke="#999" stroke-width="0.6"/>
<line x1="699.8" y1="1199.5" x2="701.8" y2="1199.5" stroke="#999" stroke-width="0.6"/>
<line x1="699.8" y1="1206" x2="701.8" y2="1206" stroke="#999" stroke-width="0.6"/>
<line x1="699.8" y1="1212.5" x2="701.8" y2="1212.5" stroke="#999" stroke-width="0.6"/>
<line x1="699.8" y1="1219" x2="701.8" y2="1219" stroke="#999" stroke-width="0.6"/>
<line x1="699.8" y1="1225.5" x2="701.8" y2="1225.5" stroke="#999" stroke-width="0.6"/>
<line x1="699.8" y1="1232" x2="701.8" y2="1232" stroke="#999" stroke-width="0.6"/>
<line x1="711.8" y1="1241.8" x2="711.8" y2="1243.8" stroke="#999" stroke-width="0.6"/>
<line x1="718.3" y1="1241.8" x2="718.3" y2="1243.8" stroke="#999" stroke-width="0.6"/>
<line x1="724.8" y1="1241.8" x2="724.8" y2="1243.8" stroke="#999" stroke-width="0.6"/>
<line x1="731.3" y1="1241.8" x2="731.3" y2="1243.8" stroke="#999" stroke-width="0.6"/>
<line x1="737.8" y1="1241.8" x2="737.8" y2="1243.8" stroke="#999" stroke-width="0.6"/>
<line x1="744.3" y1="1241.8" x2="744.3" y2="1243.8" stroke="#999" stroke-width="0.6"/>
<line x1="750.8" y1="1241.8" x2="750.8" y2="1243.8" stroke="#999" stroke-width="0.6"/>
<line x1="757.3" y1="1241.8" x2="757.3" y2="1243.8" stroke="#999" stroke-width="0.6"/>
<line x1="763.8" y1="1241.8" x2="763.8" y2="1243.8" stroke="#999" stroke-width="0.6"/>
<line x1="770.3" y1="1241.8" x2="770.3" y2="1243.8" stroke="#999" stroke-width="0.6"/>
<line x1="776.8" y1="1241.8" x2="776.8" y2="1243.8" stroke="#999" stroke-width="0.6"/>
<line x1="783.3" y1="1241.8" x2="783.3" y2="1243.8" stroke="#999" stroke-width="0.6"/>
<line x1="789.8" y1="1241.8" x2="789.8" y2="1243.8" stroke="#999" stroke-width="0.6"/>
<line x1="796.3" y1="1241.8" x2="796.3" y2="1243.8" stroke="#999" stroke-width="0.6"/>
<line x1="802.8" y1="1241.8" x2="802.8" y2="1243.8" stroke="#999" stroke-width="0.6"/>
<line x1="809.3" y1="1241.8" x2="809.3" y2="1243.8" stroke="#999" stroke-width="0.6"/>
<line x1="815.8" y1="1241.8" x2="815.8" y2="1243.8" stroke="#999" stroke-width="0.6"/>
<line x1="822.3" y1="1241.8" x2="822.3" y2="1243.8" stroke="#999" stroke-width="0.6"/>
<line x1="828.8" y1="1241.8" x2="828.8" y2="1243.8" stroke="#999" stroke-width="0.6"/>
<line x1="835.3" y1="1241.8" x2="835.3" y2="1243.8" stroke="#999" stroke-width="0.6"/>
<line x1="841.8" y1="1241.8" x2="841.8" y2="1243.8" stroke="#999" stroke-width="0.6"/>
<line x1="848.3" y1="1241.8" x2="848.3" y2="1243.8" stroke="#999" stroke-width="0.6"/>
<line x1="854.8" y1="1241.8" x2="854.8" y2="1243.8" stroke="#999" stroke-width="0.6"/>
<line x1="519.4" y1="1271" x2="681" y2="1271" stroke="#888" stroke-width="0.8"/>
<line x1="681" y1="1271" x2="681" y2="1434.7" stroke="#888" stroke-width="0.8"/>
<line x1="517.4" y1="1281" x2="519.4" y2="1281" stroke="#999" stroke-width="0.6"/>
<line x1="517.4" y1="1287.5" x2="519.4" y2="1287.5" stroke="#999" stroke-width="0.6"/>
<line x1="517.4" y1="1294" x2="519.4" y2="1294" stroke="#999" stroke-width="0.6"/>
<line x1="517.4" y1="1300.5" x2="519.4" y2="1300.5" stroke="#999" stroke-width="0.6"/>
<line x1="517.4" y1="1307" x2="519.4" y2="1307" stroke="#999" stroke-width="0.6"/>
<line x1="517.4" y1="1313.5" x2="519.4" y2="1313.5" stroke="#999" stroke-width="0.6"/>
<line x1="517.4" y1="1320" x2="519.4" y2="1320" stroke="#999" stroke-width="0.6"/>
<line x1="517.4" y1="1326.5" x2="519.4" y2="1326.5" stroke="#999" stroke-width="0.6"/>
<line x1="517.4" y1="1333" x2="519.4" y2="1333" stroke="#999" stroke-width="0.6"/>
<line x1="517.4" y1="1339.5" x2="519.4" y2="1339.5" stroke="#999" stroke-width="0.6"/>
<line x1="517.4" y1="1346" x2="519.4" y2="1346" stroke="#999" stroke-width="0.6"/>
<line x1="517.4" y1="1352.5" x2="519.4" y2="1352.5" stroke="#999" stroke-width="0.6"/>
<line x1="517.4" y1="1359" x2="519.4" y2="1359" stroke="#999" stroke-width="0.6"/>
<line x1="517.4" y1="1365.5" x2="519.4" y2="1365.5" stroke="#999" stroke-width="0.6"/>
<line x1="517.4" y1="1372" x2="519.4" y2="1372" stroke="#999" stroke-width="0.6"/>
<line x1="517.4" y1="1378.5" x2="519.4" y2="1378.5" stroke="#999" stroke-width="0.6"/>
<line x1="517.4" y1="1385" x2="519.4" y2="1385" stroke="#999" stroke-width="0.6"/>
<line x1="517.4" y1="1391.5" x2="519.4" y2="1391.5" stroke="#999" stroke-width="0.6"/>
<line x1="517.4" y1="1398" x2="519.4" y2="1398" stroke="#999" stroke-width="0.6"/>
<line x1="517.4" y1="1404.5" x2="519.4" y2="1404.5" stroke="#999" stroke-width="0.6"/>
<line x1="517.4" y1="1411" x2="519.4" y2="1411" stroke="#999" stroke-width="0.6"/>
<line x1="517.4" y1="1417.5" x2="519.4" y2="1417.5" stroke="#999" stroke-width="0.6"/>
<line x1="517.4" y1="1424" x2="519.4" y2="1424" stroke="#999" stroke-width="0.6"/>
<line x1="529.4" y1="1434.7" x2="529.4" y2="1436.7" stroke="#999" stroke-width="0.6"/>
<line x1="535.9" y1="1434.7" x2="535.9" y2="1436.7" stroke="#999" stroke-width="0.6"/>
<line x1="542.4" y1="1434.7" x2="542.4" y2="1436.7" stroke="#999" stroke-width="0.6"/>
<line x1="548.9" y1="1434.7" x2="548.9" y2="1436.7" stroke="#999" stroke-width="0.6"/>
<line x1="555.4" y1="1434.7" x2="555.4" y2="1436.7" stroke="#999" stroke-width="0.6"/>
<line x1="561.9" y1="1434.7" x2="561.9" y2="1436.7" stroke="#999" stroke-width="0.6"/>
<line x1="568.4" y1="1434.7" x2="568.4" y2="1436.7" stroke="#999" stroke-width="0.6"/>
<line x1="574.9" y1="1434.7" x2="574.9" y2="1436.7" stroke="#999" stroke-width="0.6"/>
<line x1="581.4" y1="1434.7" x2="581.4" y2="1436.7" stroke="#999" stroke-width="0.6"/>
<line x1="587.9" y1="1434.7" x2="587.9" y2="1436.7" stroke="#999" stroke-width="0.6"/>
<line x1="594.4" y1="1434.7" x2="594.4" y2="1436.7" stroke="#999" stroke-width="0.6"/>
<line x1="600.9" y1="1434.7" x2="600.9" y2="1436.7" stroke="#999" stroke-width="0.6"/>
<line x1="607.4" y1="1434.7" x2="607.4" y2="1436.7" stroke="#999" stroke-width="0.6"/>
<line x1="613.9" y1="1434.7" x2="613.9" y2="1436.7" stroke="#999" stroke-width="0.6"/>
<line x1="620.4" y1="1434.7" x2="620.4" y2="1436.7" stroke="#999" stroke-width="0.6"/>
<line x1="626.9" y1="1434.7" x2="626.9" y2="1436.7" stroke="#999" stroke-width="0.6"/>
<line x1="633.4" y1="1434.7" x2="633.4" y2="1436.7" stroke="#999" stroke-width="0.6"/>
<line x1="639.9" y1="1434.7" x2="639.9" y2="1436.7" stroke="#999" stroke-width="0.6"/>
<line x1="646.4" y1="1434.7" x2="646.4" y2="1436.7" stroke="#999" stroke-width="0.6"/>
<line x1="652.9" y1="1434.7" x2="652.9" y2="1436.7" stroke="#999" stroke-width="0.6"/>
<line x1="659.4" y1="1434.7" x2="659.4" y2="1436.7" stroke="#999" stroke-width="0.6"/>
<line x1="665.9" y1="1434.7" x2="665.9" y2="1436.7" stroke="#999" stroke-width="0.6"/>
<line x1="672.4" y1="1434.7" x2="672.4" y2="1436.7" stroke="#999" stroke-width="0.6"/>
<line x1="703" y1="1273" x2="866" y2="1273" stroke="#888" stroke-width="0.8"/>
<line x1="866" y1="1273" x2="866" y2="1434.7" stroke="#888" stroke-width="0.8"/>
<line x1="701" y1="1283" x2="703" y2="1283" stroke="#999" stroke-width="0.6"/>
<line x1="701" y1="1289.5" x2="703" y2="1289.5" stroke="#999" stroke-width="0.6"/>
<line x1="701" y1="1296" x2="703" y2="1296" stroke="#999" stroke-width="0.6"/>
<line x1="701" y1="1302.5" x2="703" y2="1302.5" stroke="#999" stroke-width="0.6"/>
<line x1="701" y1="1309" x2="703" y2="1309" stroke="#999" stroke-width="0.6"/>
<line x1="701" y1="1315.5" x2="703" y2="1315.5" stroke="#999" stroke-width="0.6"/>
<line x1="701" y1="1322" x2="703" y2="1322" stroke="#999" stroke-width="0.6"/>
<line x1="701" y1="1328.5" x2="703" y2="1328.5" stroke="#999" stroke-width="0.6"/>
<line x1="701" y1="1335" x2="703" y2="1335" stroke="#999" stroke-width="0.6"/>
<line x1="701" y1="1341.5" x2="703" y2="1341.5" stroke="#999" stroke-width="0.6"/>
<line x1="701" y1="1348" x2="703" y2="1348" stroke="#999" stroke-width="0.6"/>
<line x1="701" y1="1354.5" x2="703" y2="1354.5" stroke="#999" stroke-width="0.6"/>
<line x1="701" y1="1361" x2="703" y2="1361" stroke="#999" stroke-width="0.6"/>
<line x1="701" y1="1367.5" x2="703" y2="1367.5" stroke="#999" stroke-width="0.6"/>
<line x1="701" y1="1374" x2="703" y2="1374" stroke="#999" stroke-width="0.6"/>
<line x1="701" y1="1380.5" x2="703" y2="1380.5" stroke="#999" stroke-width="0.6"/>
<line x1="701" y1="1387" x2="703" y2="1387" stroke="#999" stroke-width="0.6"/>
<line x1="701" y1="1393.5" x2="703" y2="1393.5" stroke="#999" stroke-width="0.6"/>
<line x1="701" y1="1400" x2="703" y2="1400" stroke="#999" stroke-width="0.6"/>
<line x1="701" y1="1406.5" x2="703" y2="1406.5" stroke="#999" stroke-width="0.6"/>
<line x1="701" y1="1413" x2="703" y2="1413" stroke="#999" stroke-width="0.6"/>
<line x1="701" y1="1419.5" x2="703" y2="1419.5" stroke="#999" stroke-width="0.6"/>
<line x1="701" y1="1426" x2="703" y2="1426" stroke="#999" stroke-width="0.6"/>
<line x1="713" y1="1434.7" x2="713" y2="1436.7" stroke="#999" stroke-width="0.6"/>
<line x1="719.5" y1="1434.7" x2="719.5" y2="1436.7" stroke="#999" stroke-width="0.6"/>
<line x1="726" y1="1434.7" x2="726" y2="1436.7" stroke="#999" stroke-width="0.6"/>
<line x1="732.5" y1="1434.7" x2="732.5" y2="1436.7" stroke="#999" stroke-width="0.6"/>
<line x1="739" y1="1434.7" x2="739" y2="1436.7" stroke="#999" stroke-width="0.6"/>
<line x1="745.5" y1="1434.7" x2="745.5" y2="1436.7" stroke="#999" stroke-width="0.6"/>
<line x1="752" y1="1434.7" x2="752" y2="1436.7" stroke="#999" stroke-width="0.6"/>
<line x1="758.5" y1="1434.7" x2="758.5" y2="1436.7" stroke="#999" stroke-width="0.6"/>
<line x1="765" y1="1434.7" x2="765" y2="1436.7" stroke="#999" stroke-width="0.6"/>
<line x1="771.5" y1="1434.7" x2="771.5" y2="1436.7" stroke="#999" stroke-width="0.6"/>
<line x1="778" y1="1434.7" x2="778" y2="1436.7" stroke="#999" stroke-width="0.6"/>
<line x1="784.5" y1="1434.7" x2="784.5" y2="1436.7" stroke="#999" stroke-width="0.6"/>
<line x1="791" y1="1434.7" x2="791" y2="1436.7" stroke="#999" stroke-width="0.6"/>
<line x1="797.5" y1="1434.7" x2="797.5" y2="1436.7" stroke="#999" stroke-width="0.6"/>
<line x1="804" y1="1434.7" x2="804" y2="1436.7" stroke="#999" stroke-width="0.6"/>
<line x1="810.5" y1="1434.7" x2="810.5" y2="1436.7" stroke="#999" stroke-width="0.6"/>
<line x1="817" y1="1434.7" x2="817" y2="1436.7" stroke="#999" stroke-width="0.6"/>
<line x1="823.5" y1="1434.7" x2="823.5" y2="1436.7" stroke="#999" stroke-width="0.6"/>
<line x1="830" y1="1434.7" x2="830" y2="1436.7" stroke="#999" stroke-width="0.6"/>
<line x1="836.5" y1="1434.7" x2="836.5" y2="1436.7" stroke="#999" stroke-width="0.6"/>
<line x1="843" y1="1434.7" x2="843" y2="1436.7" stroke="#999" stroke-width="0.6"/>
<line x1="849.5" y1="1434.7" x2="849.5" y2="1436.7" stroke="#999" stroke-width="0.6"/>
<line x1="856" y1="1434.7" x2="856" y2="1436.7" stroke="#999" stroke-width="0.6"/>
<text x="513" y="1102" font-size="5.5" text-anchor="end" fill="#555">10</text>
<text x="513" y="1135" font-size="5.5" text-anchor="end" fill="#555">10</text>
<text x="513" y="1170" font-size="5.5" text-anchor="end" fill="#555">10</text>
<text x="513" y="1215" font-size="5.5" text-anchor="end" fill="#555">0</text>
<text x="695" y="1103" font-size="5.5" text-anchor="end" fill="#555">10</text>
<text x="695" y="1137" font-size="5.5" text-anchor="end" fill="#555">10</text>
<text x="695" y="1174" font-size="5.5" text-anchor="end" fill="#555">10</text>
<text x="695" y="1217" font-size="5.5" text-anchor="end" fill="#555">0</text>
<text x="513" y="1292" font-size="5.5" text-anchor="end" fill="#555">10</text>
<text x="513" y="1314" font-size="5.5" text-anchor="end" fill="#555">10</text>
<text x="513" y="1354" font-size="5.5" text-anchor="end" fill="#555">10</text>
<text x="513" y="1407" font-size="5.5" text-anchor="end" fill="#555">0</text>
<text x="697" y="1281" font-size="5.5" text-anchor="end" fill="#555">10</text>
<text x="697" y="1318" font-size="5.5" text-anchor="end" fill="#555">10</text>
<text x="697" y="1357" font-size="5.5" text-anchor="end" fill="#555">10</text>
<text x="697" y="1412" font-size="5.5" text-anchor="end" fill="#555">0</text>
<text x="544" y="1252" font-size="5.5" text-anchor="middle" fill="#555">0</text>
<text x="591" y="1252" font-size="5.5" text-anchor="middle" fill="#555">10</text>
<text x="621" y="1252" font-size="5.5" text-anchor="middle" fill="#555">10</text>
<text x="651" y="1252" font-size="5.5" text-anchor="middle" fill="#555">10</text>
<text x="676" y="1252" font-size="5.5" text-anchor="middle" fill="#555">10</text>
<text x="726" y="1253" font-size="5.5" text-anchor="middle" fill="#555">0</text>
<text x="772" y="1253" font-size="5.5" text-anchor="middle" fill="#555">10</text>
<text x="803" y="1253" font-size="5.5" text-anchor="middle" fill="#555">10</text>
<text x="832" y="1253" font-size="5.5" text-anchor="middle" fill="#555">10</text>
<text x="858" y="1253" font-size="5.5" text-anchor="middle" fill="#555">10</text>
<text x="547" y="1445" font-size="5.5" text-anchor="middle" fill="#555">0</text>
<text x="604" y="1445" font-size="5.5" text-anchor="middle" fill="#555">10</text>
<text x="643" y="1445" font-size="5.5" text-anchor="middle" fill="#555">10</text>
<text x="675" y="1445" font-size="5.5" text-anchor="middle" fill="#555">10</text>
<text x="731" y="1445" font-size="5.5" text-anchor="middle" fill="#555">0</text>
<text x="791" y="1445" font-size="5.5" text-anchor="middle" fill="#555">10</text>
<text x="827" y="1445" font-size="5.5" text-anchor="middle" fill="#555">10</text>
<text x="859" y="1445" font-size="5.5" text-anchor="middle" fill="#555">10</text>
<path d="M642.7 1095.6 L589.5 1095.6 L589.5 1166.8 L642.7 1166.8" fill="none" stroke="#444" stroke-width="1"/>
<rect x="772.5" y="1097.8" width="52.5" height="71.2" fill="none" stroke="#444" stroke-width="1"/>
<line x1="666" y1="1284.6" x2="666" y2="1360.7" stroke="#444" stroke-width="1"/>
<path d="M850.8 1285.7 L798.8 1285.7 L798.8 1363.4 L850.8 1363.4" fill="none" stroke="#444" stroke-width="1"/>
<path d="M636.4 1175.9 L636.9 1181 L633.7 1185.4 L631.1 1189.3 L629 1193.5 L624.9 1196 L621 1198.4 L616.7 1200.8 L611.7 1202.4 L606.2 1202.6 L601.5 1200 L597.9 1196.4 L594.7 1192.7 L593.6 1187.9 L593.4 1183.5 L593.3 1179.2 L592.7 1174.7 L592.4 1169.4 L596.2 1165.8 L598.9 1161.2 L604 1159.4 L609.3 1159.2 L614.2 1160.2 L618.6 1161.4 L622.7 1163.2 L627.2 1164.6 L631.5 1167.2 L634.9 1171 Z" fill="none" stroke="#8c8c8c" stroke-width="0.7"/>
<path d="M633.1 1176.7 L634.2 1181.1 L635.1 1186 L631.9 1190 L630.2 1194.7 L625.3 1196.7 L620.3 1197 L616.3 1198.8 L612 1197.4 L607.7 1197.9 L602.8 1198 L597.4 1197.2 L593.8 1193.5 L593.3 1188.3 L592.8 1183.8 L593 1179.5 L595.3 1175.6 L595.4 1171.2 L597.7 1167.4 L601.1 1164.4 L604.6 1161 L609.2 1158.7 L614.3 1158.5 L619.1 1160.1 L623.1 1162.7 L625.8 1166.3 L628 1169.9 L630.1 1173.3 Z" fill="none" stroke="#8c8c8c" stroke-width="0.7"/>
<path d="M632.5 1177.1 L632.5 1181.3 L631.1 1185.3 L628.9 1188.7 L626.8 1192.2 L623.5 1194.6 L620.7 1198.4 L616.5 1200.5 L611.8 1201 L607.3 1199.4 L603.5 1197 L600.8 1193.7 L597.9 1190.9 L595.8 1187.5 L595 1183.7 L592.8 1179.7 L593.6 1175.4 L594.1 1170.8 L597.8 1167.7 L601.1 1164.6 L605.5 1163.3 L610 1163.4 L614.1 1163 L618 1163.9 L622.5 1164 L626.9 1165.4 L630.3 1168.5 L632.9 1172.4 Z" fill="none" stroke="#8c8c8c" stroke-width="0.7"/>
<path d="M629.4 1177.9 L629.8 1181.4 L628.9 1184.9 L628.7 1188.8 L627.1 1192.6 L624.4 1196.1 L620.7 1198.5 L616.4 1200 L611.9 1199 L608.4 1196.2 L604.7 1195.1 L601.8 1192.9 L598.7 1190.7 L596.3 1187.6 L593.8 1184.1 L593.3 1180 L593.5 1175.6 L596 1172 L599.9 1169.7 L602.7 1167 L606.6 1165.9 L610.1 1164.5 L614.1 1162.5 L618.4 1163 L622.8 1163.6 L626.5 1166.1 L628.2 1170.2 L630.1 1173.7 Z" fill="none" stroke="#8c8c8c" stroke-width="0.7"/>
<path d="M632.2 1177.6 L632.5 1181.8 L630.4 1185.6 L627.6 1188.5 L625 1191.1 L622 1193.1 L619.2 1195.2 L615.7 1196.2 L612 1197.2 L607.8 1198.3 L604 1196.7 L600.8 1194.2 L598.8 1190.8 L597.6 1187.3 L597.7 1183.7 L597.7 1180.4 L597.2 1176.9 L598.5 1173.5 L599.8 1169.9 L601.9 1166.2 L605.8 1164.4 L610 1164.1 L614 1164.8 L617.4 1166.4 L620.5 1168 L623.8 1169.3 L626.2 1171.9 L629.4 1174.3 Z" fill="none" stroke="#8c8c8c" stroke-width="0.7"/>
<path d="M627.4 1178.7 L629.2 1181.9 L629 1185.5 L628.3 1189.1 L626.4 1192.6 L622.9 1194.5 L619.1 1195.2 L615.6 1195.7 L612.2 1195.2 L609.1 1194.2 L605.6 1194.1 L602.1 1193 L598.9 1191 L596.8 1187.9 L595.7 1184.3 L596.7 1180.6 L599.1 1177.6 L600.4 1174.8 L602.6 1172.5 L603.9 1169.1 L606.9 1167.2 L610.1 1164.7 L614 1165.2 L617.8 1165.4 L621 1167.4 L623.3 1170.1 L625.1 1172.9 L626.9 1175.6 Z" fill="none" stroke="#8c8c8c" stroke-width="0.7"/>
<path d="M627.7 1178.9 L628.5 1182.1 L628.8 1185.7 L627.1 1188.8 L625 1191.7 L621.3 1192.6 L618.5 1194.1 L615.2 1194.2 L612.2 1194.1 L609.1 1194.5 L605.7 1194.2 L602.3 1193.1 L599.7 1190.7 L598.3 1187.5 L598 1184.2 L599.1 1181 L599.6 1178 L601.4 1175.5 L602.6 1172.8 L604.6 1170.3 L606.9 1167.5 L610.3 1166.3 L614 1165.6 L617.3 1167.3 L620.2 1169 L622.4 1171.3 L623.7 1174.1 L625.7 1176.3 Z" fill="none" stroke="#8c8c8c" stroke-width="0.7"/>
<path d="M625.6 1179.5 L625 1182.2 L625.5 1185 L625.3 1188.1 L624.4 1191.4 L621.7 1193.4 L618.5 1194.4 L615.2 1194.5 L612.2 1194.8 L609.5 1193.3 L606.9 1192.4 L604.3 1191.1 L601.8 1189.5 L599.7 1187.2 L598.1 1184.4 L598.7 1181.2 L599.3 1178.2 L600.9 1175.5 L604.1 1174.2 L606.1 1172.5 L608.1 1170.5 L610.7 1168.9 L613.8 1167.8 L617.1 1168 L620.5 1168.8 L622.3 1171.6 L624 1174.2 L625 1176.9 Z" fill="none" stroke="#8c8c8c" stroke-width="0.7"/>
<path d="M625.1 1179.9 L624.1 1182.5 L623.8 1184.8 L623.8 1187.6 L622.1 1189.7 L620.7 1192.3 L618.2 1194.1 L615.2 1194.5 L612.3 1193.9 L609.5 1193.5 L607.3 1192 L605.5 1190.1 L603.2 1188.8 L601.7 1186.7 L600.1 1184.3 L599.8 1181.5 L600 1178.6 L601.5 1176.1 L604 1174.4 L606.4 1173.1 L608.4 1171.5 L611.2 1171.7 L613.7 1170.6 L616.6 1170 L619.6 1170.6 L621.8 1172.5 L623.8 1174.5 L624.5 1177.3 Z" fill="none" stroke="#8c8c8c" stroke-width="0.7"/>
<path d="M624.9 1180.2 L625.6 1182.8 L624 1185.2 L622.5 1187.2 L621 1189 L618.8 1190 L617 1191.5 L614.9 1193.1 L612.3 1193.7 L609.6 1193.7 L607.1 1192.5 L605.2 1190.7 L603.9 1188.6 L603.4 1186.2 L602.5 1184.1 L603.1 1181.9 L602.3 1179.5 L603 1177.1 L604.3 1175 L605.7 1172.5 L608.4 1171.6 L611.2 1172 L613.6 1172.1 L615.8 1172.8 L617.9 1173.8 L620.4 1174.2 L622.4 1175.8 L624.3 1177.6 Z" fill="none" stroke="#8c8c8c" stroke-width="0.7"/>
<path d="M623 1180.8 L623.5 1182.9 L623.6 1185.3 L622.1 1187.2 L620.2 1188.6 L618.5 1189.9 L616.4 1190.4 L614.6 1191.4 L612.4 1191.9 L610.1 1192.3 L608 1191.3 L605.6 1190.5 L604.4 1188.4 L603.9 1186.3 L603.6 1184.2 L604 1182.2 L604.1 1180.2 L604.8 1178.3 L605.4 1176.1 L606.7 1174.1 L608.9 1173.2 L611.3 1172.8 L613.6 1172.8 L615.7 1173.5 L617.6 1174.5 L619 1176 L621.1 1176.9 L622.6 1178.6 Z" fill="none" stroke="#8c8c8c" stroke-width="0.7"/>
<path d="M621.9 1181.2 L621.4 1183.1 L620.8 1184.8 L619.9 1186.3 L619.5 1188.2 L617.9 1189.4 L616.4 1190.6 L614.5 1191.4 L612.5 1191.9 L610.5 1191.2 L608.8 1190.1 L607.4 1188.9 L606.8 1187 L605.2 1186 L604.7 1184.2 L603.6 1182.4 L604 1180.4 L604.5 1178.4 L606.1 1176.9 L607.8 1175.8 L609.8 1175.5 L611.7 1175.4 L613.5 1175.1 L615.4 1174.9 L617.3 1175.3 L619.5 1175.8 L621 1177.3 L621.6 1179.3 Z" fill="none" stroke="#8c8c8c" stroke-width="0.7"/>
<path d="M620.1 1181.8 L620.1 1183.3 L620 1184.9 L620 1186.6 L619.4 1188.4 L618 1189.7 L616.1 1190.3 L614.3 1190.2 L612.6 1190.4 L611 1189.8 L609.6 1188.9 L608.3 1188.1 L606.9 1187.3 L605.4 1186.1 L605.1 1184.4 L604.6 1182.7 L605.3 1181 L606.3 1179.6 L607.7 1178.6 L609 1177.6 L610.1 1176.4 L611.8 1176.2 L613.5 1175.5 L615.3 1175.4 L617 1176.1 L618.6 1177 L619.4 1178.6 L619.6 1180.3 Z" fill="none" stroke="#8c8c8c" stroke-width="0.7"/>
<path d="M618.9 1182.2 L618.9 1183.5 L618.5 1184.7 L618.5 1186.1 L617.8 1187.3 L617 1188.6 L615.7 1189.4 L614.2 1189.9 L612.6 1189.7 L611.3 1189.1 L610.2 1188.1 L609.2 1187.4 L608.1 1186.7 L606.9 1185.8 L605.9 1184.5 L605.6 1183 L606.2 1181.5 L606.8 1180.1 L608.3 1179.3 L609.6 1178.7 L610.7 1178 L611.9 1177.3 L613.4 1177.3 L614.9 1177.1 L616.5 1177.3 L617.7 1178.2 L618.6 1179.4 L619.2 1180.7 Z" fill="none" stroke="#8c8c8c" stroke-width="0.7"/>
<path d="M617.7 1182.7 L618 1183.7 L617.9 1184.8 L618 1186.1 L617.6 1187.4 L616.4 1188.1 L615.1 1188.4 L613.9 1188.6 L612.7 1188.3 L611.7 1187.8 L610.5 1187.8 L609.7 1187.1 L608.5 1186.7 L608 1185.6 L607.2 1184.5 L607.6 1183.3 L607.7 1182.1 L608.3 1181.1 L609.2 1180.4 L610.2 1179.8 L611.1 1179 L612.1 1178.7 L613.3 1178.3 L614.6 1178.3 L615.8 1178.6 L616.6 1179.7 L617.3 1180.5 L617.7 1181.6 Z" fill="none" stroke="#8c8c8c" stroke-width="0.7"/>
<path d="M616.7 1183.1 L617 1183.9 L617.1 1184.9 L616.8 1185.7 L616.2 1186.5 L615.7 1187.4 L614.6 1187.6 L613.7 1187.7 L612.8 1187.4 L611.9 1187.3 L611.1 1187 L610.1 1186.9 L609.5 1186.2 L608.9 1185.5 L608.5 1184.6 L608.7 1183.6 L609 1182.7 L609.5 1182 L610.1 1181.4 L610.9 1180.9 L611.5 1180.2 L612.3 1179.8 L613.3 1179.3 L614.2 1179.6 L615.1 1180.1 L615.9 1180.6 L616.1 1181.6 L616.3 1182.4 Z" fill="none" stroke="#8c8c8c" stroke-width="0.7"/>
<path d="M616.1 1183.5 L616.1 1184.2 L615.6 1184.7 L615.3 1185.2 L615 1185.7 L614.6 1186.1 L614.1 1186.6 L613.5 1187 L612.8 1187.2 L612.1 1187.1 L611.6 1186.5 L611.2 1186 L610.7 1185.6 L610.5 1185.1 L610.3 1184.5 L610.1 1183.9 L610 1183.3 L610.1 1182.5 L610.7 1182.1 L611.2 1181.6 L611.9 1181.5 L612.5 1181.4 L613.2 1181.3 L613.8 1181.5 L614.4 1181.6 L615 1181.8 L615.5 1182.3 L615.9 1182.8 Z" fill="none" stroke="#8c8c8c" stroke-width="0.7"/>
<path d="M614.7 1184 L614.9 1184.4 L614.8 1184.8 L614.7 1185.2 L614.4 1185.5 L614 1185.6 L613.7 1185.8 L613.3 1185.8 L612.9 1185.8 L612.5 1185.8 L612.2 1185.7 L611.7 1185.7 L611.4 1185.4 L611.1 1185.1 L611.2 1184.6 L611.3 1184.2 L611.4 1183.9 L611.7 1183.6 L611.7 1183.2 L612 1182.9 L612.3 1182.7 L612.7 1182.5 L613.1 1182.4 L613.5 1182.5 L613.9 1182.8 L614.1 1183.1 L614.4 1183.3 L614.5 1183.7 Z" fill="none" stroke="#8c8c8c" stroke-width="0.7"/>
<path d="M817.9 1173 L816.4 1180.2 L814.1 1186.5 L814.3 1195.6 L811.6 1202.9 L807.1 1207.2 L802.3 1210.8 L797 1210 L792.1 1207.8 L787.8 1204.2 L783.9 1200 L780.8 1194.2 L778.7 1187.4 L775.8 1180.9 L773 1173 L773.5 1164.2 L775.1 1155.8 L779.6 1150.3 L783.6 1145.5 L788.1 1142.8 L792.5 1141 L797 1139.8 L801.8 1138.7 L806.6 1140.2 L811.8 1142.6 L815.9 1148.3 L817.5 1156.9 L818.6 1164.9 Z" fill="none" stroke="#8c8c8c" stroke-width="0.7"/>
<path d="M818.1 1173.4 L819.9 1182 L817.5 1189.6 L814.5 1196.2 L809.7 1199.5 L806.1 1204.3 L801.5 1205.4 L797 1205.3 L792.6 1205.2 L787.6 1205.5 L783 1202.2 L778.3 1197.8 L776.4 1189.7 L776.3 1181.1 L776 1173.4 L777.2 1166 L780.1 1160.1 L781.9 1153.7 L784.3 1147.5 L787 1139.5 L792.2 1138.9 L797 1135.1 L801.8 1139.1 L806.2 1142 L809.2 1148.4 L812.9 1152.6 L815 1159.3 L816.2 1166.3 Z" fill="none" stroke="#8c8c8c" stroke-width="0.7"/>
<path d="M814.9 1173.9 L814.1 1180.3 L814 1187.3 L813 1194.7 L810.9 1202.4 L807 1207.8 L801.7 1207.8 L797 1207 L792.8 1204.3 L789 1201.2 L785.5 1197.6 L782.2 1193.2 L779.4 1187.7 L776 1181.7 L774.9 1173.9 L775.2 1165.7 L778.1 1159 L782 1154.3 L785.8 1150.9 L788.9 1146.3 L792.9 1144.7 L797 1141.1 L801.5 1141.5 L806.3 1142.3 L810.6 1145.9 L813.8 1152 L814.6 1160 L815.6 1166.9 Z" fill="none" stroke="#8c8c8c" stroke-width="0.7"/>
<path d="M815.2 1174.3 L815 1181 L815.3 1188.7 L813 1195.2 L810 1201.1 L806 1204.8 L801.4 1205.8 L797 1203.2 L793.1 1201.9 L789.6 1199.5 L785.5 1197.8 L781.8 1194.2 L779.6 1188 L776.6 1181.9 L776.4 1174.3 L778.4 1167.3 L780.6 1161.4 L783.3 1156.4 L786.4 1152.5 L789.5 1148.8 L792.9 1144.7 L797 1141.5 L801.7 1140.8 L805.7 1144.8 L809.3 1149 L812.3 1154.4 L812.6 1162 L813.2 1168.2 Z" fill="none" stroke="#8c8c8c" stroke-width="0.7"/>
<path d="M814.8 1174.7 L813.4 1180.9 L812.3 1186.8 L810 1191.6 L808.2 1197.8 L805.5 1203.6 L801.5 1207 L797 1207.6 L793 1203.7 L789.1 1201.5 L786.1 1197.1 L784.6 1190.9 L782.3 1186.3 L779.2 1181.4 L777.8 1174.7 L777.6 1167.5 L778.8 1160.4 L782 1155.2 L785.1 1150.4 L789.6 1149.7 L793.4 1149.1 L797 1148 L800.9 1146.5 L804.6 1148.9 L808.8 1150.6 L813.1 1153.7 L814.1 1161.3 L815.8 1167.7 Z" fill="none" stroke="#8c8c8c" stroke-width="0.7"/>
<path d="M815.7 1175.2 L814.8 1181.8 L811.9 1186.9 L809.2 1191.1 L806.6 1194.8 L803.9 1198.7 L800.6 1201.2 L797 1204.1 L793.1 1203.3 L788.7 1203.4 L785.4 1199 L783.2 1193.2 L782.1 1186.9 L781.7 1180.9 L780.8 1175.2 L781.3 1169.3 L781.9 1163.2 L782.6 1156.3 L785.4 1151.3 L789 1147.8 L793 1146.4 L797 1148.8 L800.5 1149.7 L803.7 1152.5 L807.2 1154.3 L809.7 1158.6 L813.4 1162.3 L815.6 1168.2 Z" fill="none" stroke="#8c8c8c" stroke-width="0.7"/>
<path d="M814 1175.6 L814.4 1182.1 L812.8 1188.1 L810.5 1193.2 L807.6 1197.3 L803.7 1198.4 L800.1 1198 L797 1199.3 L793.5 1200.4 L790.2 1198.5 L786.8 1196.5 L783.5 1193.2 L780.6 1188.5 L780.8 1181.6 L780.9 1175.6 L781.8 1169.9 L784.2 1165.5 L785.8 1161 L787.2 1155.5 L789.7 1150.7 L793.2 1148.2 L797 1147.3 L800.8 1148 L803.9 1152.2 L806.8 1155.5 L809 1160 L809.7 1165.6 L811.4 1170.2 Z" fill="none" stroke="#8c8c8c" stroke-width="0.7"/>
<path d="M812.9 1176 L813.4 1182.2 L811.9 1187.8 L809.3 1192.1 L806 1194.5 L803 1196.5 L800 1197.7 L797 1199.1 L793.8 1199.2 L790.2 1199.3 L787 1196.5 L784.2 1192.7 L783.1 1186.9 L782.2 1181.5 L783.1 1176 L783.8 1171.1 L784.4 1166.1 L785.7 1161.2 L787.7 1156.9 L790.3 1153.1 L793.3 1149.2 L797 1150.4 L800.5 1150.8 L803.2 1155 L805.4 1158.9 L807.8 1162 L809.9 1165.8 L811.5 1170.6 Z" fill="none" stroke="#8c8c8c" stroke-width="0.7"/>
<path d="M811.9 1176.5 L811.3 1181.8 L809.5 1186.3 L807.4 1190 L805 1192.9 L802.5 1195.3 L799.8 1196.8 L797 1199.3 L793.6 1200.9 L790.6 1198.3 L787.9 1195.2 L785.7 1191.2 L784.7 1186.1 L784.1 1181.3 L783.6 1176.5 L784.6 1171.8 L784.2 1166.4 L785.2 1161.1 L787.1 1156.2 L790.7 1155.1 L793.7 1152.5 L797 1153.2 L799.9 1155.5 L802.5 1157.9 L805.6 1158.8 L808.1 1162 L809.7 1166.4 L811.4 1171.1 Z" fill="none" stroke="#8c8c8c" stroke-width="0.7"/>
<path d="M810.5 1176.9 L810.3 1181.8 L810.1 1187.2 L807.8 1191 L805.3 1193.9 L802.4 1195.3 L799.8 1196.7 L797 1196.3 L794.3 1196.3 L791.2 1196.6 L788.2 1195 L785.7 1191.6 L783.7 1187.4 L783.9 1181.8 L784.6 1176.9 L785.1 1172.4 L785.6 1167.9 L787.6 1164.6 L789.1 1160.6 L791.2 1157.3 L793.8 1154 L797 1154.5 L800 1155.5 L802.6 1158 L804.5 1161.6 L806.3 1164.8 L807.9 1168.3 L809.6 1172.2 Z" fill="none" stroke="#8c8c8c" stroke-width="0.7"/>
<path d="M808 1177.3 L808.1 1181.5 L808 1186 L806.9 1190.2 L805.3 1194.4 L802.5 1195.9 L799.8 1197.2 L797 1196.9 L794.3 1196.4 L792.4 1193 L790 1191.6 L787.5 1189.8 L785.5 1186.4 L784.4 1182 L783.9 1177.3 L784.5 1172.6 L785.6 1168.3 L787.7 1165.2 L789.7 1162.4 L792 1160.2 L794.5 1159.6 L797 1156.6 L799.9 1156.8 L802.9 1157.4 L805.4 1160.1 L807.1 1164.2 L808.1 1168.6 L807.7 1173.3 Z" fill="none" stroke="#8c8c8c" stroke-width="0.7"/>
<path d="M808.2 1177.8 L808.8 1182.2 L807.7 1186.2 L806.2 1189.8 L804.3 1192.7 L801.7 1193.8 L799.3 1194.3 L797 1194.5 L794.7 1194.1 L792.4 1193.4 L789.8 1192.6 L788 1189.5 L786 1186.4 L785.4 1182.1 L785.7 1177.8 L786.3 1173.7 L787.5 1170.3 L789.2 1167.6 L790.3 1164 L792.1 1161.2 L794.5 1159.5 L797 1158.1 L799.7 1158.2 L802.2 1160 L804 1163.4 L805.2 1167.1 L806.4 1170.3 L807.4 1173.9 Z" fill="none" stroke="#8c8c8c" stroke-width="0.7"/>
<path d="M806.2 1178.2 L806 1181.6 L805.8 1185.2 L805.2 1188.8 L803.9 1192.4 L801.9 1194.7 L799.5 1195.8 L797 1196.3 L794.7 1194.4 L792.8 1192.3 L791.4 1189.7 L789.3 1188.2 L787.5 1185.6 L786.7 1182 L786.3 1178.2 L786.2 1174.1 L786.8 1170.1 L789 1167.8 L790.8 1165.4 L792.9 1164.2 L794.8 1162.5 L797 1162.2 L799.3 1161.4 L801.7 1162.1 L804.2 1163.5 L805.2 1167.5 L806.7 1170.6 L806.7 1174.6 Z" fill="none" stroke="#8c8c8c" stroke-width="0.7"/>
<path d="M806.7 1178.6 L805.8 1181.9 L805 1184.9 L803.2 1186.7 L802.3 1189.5 L801 1192 L799.1 1193.5 L797 1195.3 L794.7 1195.2 L792.8 1192.9 L790.9 1191 L789.9 1187.9 L789.1 1184.8 L788.4 1181.8 L788.2 1178.6 L788.1 1175.3 L788.5 1171.9 L789.2 1168.4 L790.8 1165.8 L792.7 1164.2 L795 1164.1 L797 1164.4 L798.9 1164.7 L800.7 1166 L802.6 1167.1 L804.6 1168.7 L806.3 1171.3 L806.5 1175.1 Z" fill="none" stroke="#8c8c8c" stroke-width="0.7"/>
<path d="M804.9 1179 L804.4 1181.8 L803.7 1184.4 L803.2 1187.1 L802.2 1189.8 L800.7 1191.7 L799 1193.1 L797 1194 L795 1193.1 L793.4 1191.3 L792 1189.2 L791.2 1186.6 L789.8 1184.7 L789.5 1181.9 L788.7 1179 L788.5 1175.9 L789.2 1172.9 L789.8 1169.7 L791.8 1168.3 L793.7 1167.9 L795.2 1166.5 L797 1165.9 L798.7 1166.9 L800.6 1166.8 L802.5 1167.8 L803.8 1170.2 L805.2 1172.6 L805.1 1176 Z" fill="none" stroke="#8c8c8c" stroke-width="0.7"/>
<path d="M805.3 1179.5 L804.3 1182.2 L803.8 1184.8 L802.5 1186.6 L801.1 1187.9 L799.8 1188.9 L798.6 1191.1 L797 1192 L795.2 1192.5 L793.4 1191.6 L791.9 1190 L791 1187.3 L790.4 1184.7 L790.8 1181.8 L790.4 1179.5 L790.4 1177 L790.6 1174.5 L791 1171.7 L792.2 1169.6 L793.4 1167.2 L795.4 1167.8 L797 1167.3 L798.5 1169 L800.1 1169.1 L801 1171.3 L802.6 1172.2 L803.9 1174 L804.8 1176.6 Z" fill="none" stroke="#8c8c8c" stroke-width="0.7"/>
<path d="M804.1 1179.9 L803.6 1182.4 L803.1 1184.7 L802 1186.4 L800.8 1187.7 L799.4 1188.1 L798.3 1188.9 L797 1189.9 L795.6 1190.1 L794.2 1189.6 L792.6 1188.8 L791.6 1187 L791.2 1184.4 L791.2 1182.1 L791.2 1179.9 L791.3 1177.8 L791.6 1175.6 L792.2 1173.6 L792.8 1171.3 L793.8 1169.2 L795.4 1168.8 L797 1168.7 L798.4 1169.9 L799.6 1171.2 L800.8 1172.2 L801.7 1173.8 L802.3 1175.7 L803.3 1177.5 Z" fill="none" stroke="#8c8c8c" stroke-width="0.7"/>
<path d="M802.2 1180.3 L801.8 1182.1 L801.3 1183.8 L800.8 1185.3 L800.4 1187.4 L799.4 1188.6 L798.3 1189.9 L797 1189.9 L795.8 1189.1 L794.7 1188.1 L794 1186.5 L793.2 1185.3 L792.5 1183.9 L792 1182.2 L791.4 1180.3 L791.4 1178.3 L791.8 1176.3 L792.5 1174.4 L793.7 1173.6 L794.9 1173.2 L795.9 1172.2 L797 1172.4 L798.2 1172 L799.4 1172.1 L800.6 1173.1 L801.5 1174.4 L802.2 1176.3 L802.1 1178.4 Z" fill="none" stroke="#8c8c8c" stroke-width="0.7"/>
<path d="M801.1 1180.8 L800.9 1182.2 L800.8 1183.8 L800.6 1185.4 L799.9 1186.7 L799 1187.6 L798 1188.3 L797 1187.7 L796.1 1187.5 L795.2 1186.7 L794.6 1185.7 L793.7 1185.1 L792.8 1184.1 L792.3 1182.5 L792.1 1180.8 L792.4 1179.1 L793.1 1177.7 L793.6 1176.3 L794.4 1175.5 L795.2 1174.7 L796 1173.9 L797 1173.8 L798.1 1173.1 L799 1173.9 L800 1174.6 L800.6 1176 L800.9 1177.7 L800.9 1179.3 Z" fill="none" stroke="#8c8c8c" stroke-width="0.7"/>
<path d="M800.5 1181.2 L800.5 1182.5 L800.2 1183.8 L799.9 1185 L799.1 1185.6 L798.4 1186 L797.7 1186.1 L797 1186.2 L796.3 1186.5 L795.4 1186.5 L794.8 1185.7 L794.1 1185 L793.8 1183.7 L793.5 1182.5 L793.8 1181.2 L793.8 1180 L794.2 1179 L794.4 1177.8 L794.9 1176.8 L795.4 1175.9 L796.2 1175.2 L797 1175.5 L797.8 1175.5 L798.5 1176.1 L799 1177.1 L799.5 1177.9 L799.9 1178.9 L800.3 1180 Z" fill="none" stroke="#8c8c8c" stroke-width="0.7"/>
<path d="M799.6 1181.6 L799.6 1182.6 L799.4 1183.5 L798.9 1184.1 L798.5 1184.7 L797.9 1184.8 L797.5 1185 L797 1185.3 L796.5 1185.4 L795.9 1185.4 L795.3 1185 L794.9 1184.4 L794.6 1183.5 L794.7 1182.5 L794.6 1181.6 L794.8 1180.8 L794.9 1180 L795.1 1179.2 L795.4 1178.3 L795.8 1177.7 L796.4 1177.3 L797 1177.4 L797.6 1177.7 L798 1178.1 L798.4 1178.7 L798.8 1179.3 L799.1 1180 L799.5 1180.7 Z" fill="none" stroke="#8c8c8c" stroke-width="0.7"/>
<path d="M798.3 1182.1 L798.3 1182.6 L798.3 1183.1 L798.3 1183.7 L798 1184.1 L797.7 1184.4 L797.3 1184.5 L797 1184.4 L796.7 1184.3 L796.4 1184 L796.2 1183.8 L795.9 1183.5 L795.6 1183.2 L795.4 1182.7 L795.5 1182.1 L795.5 1181.5 L795.7 1181.1 L796 1180.7 L796.2 1180.4 L796.4 1180.1 L796.7 1179.9 L797 1179.6 L797.4 1179.5 L797.7 1179.7 L798 1180 L798.2 1180.5 L798.2 1181.1 L798.3 1181.6 Z" fill="none" stroke="#8c8c8c" stroke-width="0.7"/>
<path d="M664.2 1370.8 L664.2 1375.7 L661.8 1380.4 L659.2 1384.5 L656.6 1388.2 L654.4 1392.5 L650.3 1395.6 L646.1 1399.6 L640.6 1402.5 L634.5 1403.1 L629.1 1401.4 L625.3 1397.9 L621.9 1394.9 L620.4 1390.9 L617.2 1387.9 L615.3 1384 L615.4 1379.6 L614.7 1374.6 L617.6 1370 L621.5 1365.9 L626.6 1362.9 L632.6 1362.4 L637.7 1361.5 L642.7 1361.2 L648.2 1360.2 L653 1361.7 L657.9 1363.5 L661.5 1366.8 Z" fill="none" stroke="#8c8c8c" stroke-width="0.7"/>
<path d="M659.3 1372.8 L659.2 1376.8 L660.4 1380.6 L660.2 1385 L659.8 1390 L656 1394 L651.1 1396.9 L646 1399.6 L640.3 1398.7 L635.4 1398.8 L630.8 1398 L626.8 1396.1 L621.7 1395.3 L618.7 1392.1 L614.5 1389.2 L614.5 1384.4 L614 1379.8 L616.8 1375.3 L621 1371.8 L624.3 1368.3 L629.3 1366.8 L632.9 1363.5 L637.6 1360.9 L643 1359.7 L648.3 1360.3 L653.3 1361.6 L657.1 1364.5 L658.7 1368.7 Z" fill="none" stroke="#8c8c8c" stroke-width="0.7"/>
<path d="M659.4 1373 L659.2 1377.1 L658.9 1380.9 L658.5 1384.8 L657.3 1389 L654.2 1392.7 L650.1 1395.9 L645 1397 L640.2 1397.7 L635.8 1397 L631.6 1396.5 L627.4 1395.7 L623.3 1394.2 L618.9 1392.3 L615.9 1388.9 L616 1384.4 L616.8 1380.1 L618.3 1375.9 L622.6 1372.8 L626 1370 L629 1366.7 L633.1 1364.1 L637.6 1361.5 L642.8 1361 L647.8 1361.6 L652.7 1362.6 L655.4 1366.2 L658 1369.4 Z" fill="none" stroke="#8c8c8c" stroke-width="0.7"/>
<path d="M659 1373.5 L661.1 1377 L660.7 1381.1 L658.7 1385.1 L656 1388.7 L652.8 1391.9 L648.1 1393.3 L644.3 1395.3 L640.1 1395.8 L635.8 1397.2 L631.2 1397.5 L625.8 1397.9 L622.1 1395.4 L619.4 1392.2 L618.9 1388 L619.3 1384.1 L620.8 1380.4 L620.9 1376.7 L622.5 1373 L625.2 1369.6 L628.1 1365.6 L632.8 1363.8 L637.8 1363.3 L642.6 1362.4 L646.8 1363.9 L649.8 1366.7 L653.1 1368.4 L655.4 1371.1 Z" fill="none" stroke="#8c8c8c" stroke-width="0.7"/>
<path d="M657.1 1374.4 L659.1 1377.5 L660.4 1381.4 L657.6 1385.1 L655.1 1388.5 L651.5 1391.1 L647.5 1392.7 L643.7 1393.9 L640 1395.7 L636 1396.3 L631.5 1397.1 L627.1 1396.5 L623.9 1394.1 L622 1390.9 L620.7 1387.6 L620.3 1384.1 L622 1380.6 L622.7 1377.3 L624.8 1374.3 L626.4 1370.8 L629 1367.2 L633.1 1364.8 L637.7 1363.1 L642.3 1364.1 L646.1 1365.6 L649.1 1367.8 L651.9 1369.7 L654.5 1371.9 Z" fill="none" stroke="#8c8c8c" stroke-width="0.7"/>
<path d="M654.4 1375.6 L657.3 1378.1 L657.1 1381.5 L656.5 1385.1 L654.2 1388.3 L651.5 1391.3 L647.8 1393.4 L643.8 1394.5 L639.9 1394.1 L636.2 1395.4 L632.1 1396 L628.4 1395 L624 1394.3 L622.4 1390.9 L621 1387.8 L621.3 1384.2 L623 1380.9 L624 1377.9 L625.4 1374.9 L627.7 1372 L629.9 1368.7 L633.4 1365.9 L637.9 1365.7 L642.2 1365 L645.8 1366.7 L649.3 1367.7 L650.8 1370.9 L654.1 1372.4 Z" fill="none" stroke="#8c8c8c" stroke-width="0.7"/>
<path d="M653.7 1376.1 L654.8 1378.8 L653.4 1381.7 L653.3 1384.6 L652.1 1387.6 L650.4 1390.7 L647.9 1393.7 L644 1395.1 L640 1395.5 L636.3 1395.2 L633.3 1393.8 L630.5 1392.6 L627.6 1391.4 L624.5 1389.9 L622.6 1387.4 L621.7 1384.4 L622 1381.1 L622.8 1377.8 L625.8 1375.3 L628.2 1372.7 L631.3 1370.8 L634.7 1369.7 L638.1 1368.6 L641.8 1367 L645.8 1366.8 L649.7 1367.4 L652.2 1370 L653.2 1373.1 Z" fill="none" stroke="#8c8c8c" stroke-width="0.7"/>
<path d="M654.6 1376 L654.9 1379 L655.2 1382 L653.7 1385 L650.8 1387.2 L648.5 1389.3 L645.9 1391.1 L643.2 1393.2 L639.9 1394.2 L636.3 1395.5 L632.9 1394.9 L629.8 1393.7 L627.2 1392 L625.8 1389.4 L625.3 1386.7 L624.9 1384.1 L625.3 1381.4 L625.6 1378.7 L626.1 1375.6 L627.8 1372.6 L630.6 1370.1 L634.6 1369.5 L638.1 1369.3 L641.4 1369.4 L644.6 1369.6 L646.9 1371.3 L650 1372.1 L652.4 1373.8 Z" fill="none" stroke="#8c8c8c" stroke-width="0.7"/>
<path d="M652.6 1377 L652 1379.7 L651.4 1382.2 L650.4 1384.5 L649.7 1386.9 L648.2 1389.3 L646.4 1392.1 L643.3 1393.7 L639.9 1394.3 L636.6 1394.1 L634 1392.7 L631.6 1391.6 L629.1 1390.5 L627.8 1388.5 L625.4 1386.9 L624.2 1384.4 L623.7 1381.6 L625.2 1378.9 L626.9 1376.3 L629.8 1374.5 L632.8 1373.3 L635.3 1371.8 L638.2 1371.1 L641.2 1370.8 L644.5 1370 L647.9 1370.4 L650.1 1372.2 L651.7 1374.5 Z" fill="none" stroke="#8c8c8c" stroke-width="0.7"/>
<path d="M651.7 1377.5 L653.5 1379.7 L652 1382.4 L651.5 1384.9 L648.8 1386.8 L647.2 1388.8 L644.7 1390 L642.3 1391.3 L639.7 1392.1 L636.8 1393.3 L633.6 1393.7 L631 1392.6 L629.5 1390.4 L628.1 1388.6 L627.8 1386.2 L627.5 1384.1 L627.1 1381.9 L627.4 1379.6 L628.7 1377.3 L629.7 1374.6 L632.3 1372.9 L635.3 1372 L638.2 1371.5 L641 1372.1 L643.3 1373 L646 1373.1 L648.3 1374.1 L649.8 1375.8 Z" fill="none" stroke="#8c8c8c" stroke-width="0.7"/>
<path d="M649.6 1378.5 L649.7 1380.6 L649 1382.6 L648.7 1384.6 L648 1386.6 L646.8 1388.7 L645 1390.6 L642.4 1391.7 L639.7 1392.4 L637.1 1392 L635 1391.1 L632.9 1390.4 L631.1 1389.2 L629.6 1387.9 L628.4 1386.2 L627.5 1384.4 L626.7 1382.2 L627.6 1379.9 L629.4 1377.9 L631.8 1376.6 L633.9 1375.4 L636.1 1374.5 L638.4 1373.6 L640.9 1372.9 L643.4 1372.9 L646 1373.3 L647.7 1374.8 L649.6 1376.2 Z" fill="none" stroke="#8c8c8c" stroke-width="0.7"/>
<path d="M649.2 1378.9 L649.8 1380.8 L649.2 1382.8 L648.4 1384.7 L647 1386.4 L644.7 1387.3 L643.6 1389 L641.5 1389.6 L639.6 1390.4 L637.2 1391.7 L634.7 1391.8 L632.8 1390.8 L631.6 1389.1 L630.3 1387.7 L630.1 1385.9 L629.9 1384.2 L629.9 1382.5 L629.8 1380.6 L630.4 1378.6 L631.9 1376.9 L633.9 1375.7 L636 1374.4 L638.4 1374.7 L640.6 1374.6 L642.4 1375.3 L644 1376.1 L646.1 1376.5 L647.9 1377.4 Z" fill="none" stroke="#8c8c8c" stroke-width="0.7"/>
<path d="M646.6 1380.1 L647.9 1381.4 L647.8 1383 L647.4 1384.8 L646.6 1386.5 L645 1387.8 L643 1388.4 L641.3 1389.1 L639.5 1389.5 L637.6 1389.9 L635.8 1389.7 L633.7 1389.8 L632 1389 L631.1 1387.5 L630.3 1386 L630.4 1384.3 L631.1 1382.7 L631.6 1381.2 L632.9 1380 L633.6 1378.5 L634.9 1377.2 L636.6 1376.2 L638.4 1375 L640.6 1374.8 L642.5 1375.4 L643.7 1376.8 L644.9 1377.8 L646.2 1378.7 Z" fill="none" stroke="#8c8c8c" stroke-width="0.7"/>
<path d="M646.3 1380.5 L646 1381.9 L645.8 1383.2 L644.8 1384.4 L644.1 1385.5 L643.8 1387 L642.6 1388 L641.1 1388.9 L639.5 1389.8 L637.7 1389.6 L636.2 1389.1 L634.8 1388.6 L634.3 1387.2 L633.3 1386.5 L632.7 1385.4 L631.6 1384.4 L631.6 1383 L631.5 1381.4 L632.5 1380.1 L634 1379.1 L635.4 1378.2 L637.1 1377.9 L638.6 1378 L640.1 1377.4 L641.8 1377.2 L643.2 1377.6 L644.8 1378.1 L645.9 1379.1 Z" fill="none" stroke="#8c8c8c" stroke-width="0.7"/>
<path d="M644.3 1381.4 L644.7 1382.4 L644.8 1383.5 L644.9 1384.7 L644.1 1385.7 L643.3 1386.8 L641.8 1387.3 L640.6 1387.7 L639.3 1387.9 L638.2 1387.7 L636.9 1387.8 L635.5 1387.9 L634.5 1387.3 L633.3 1386.7 L632.6 1385.7 L632.6 1384.4 L633 1383.2 L633.8 1382.2 L634.4 1381.2 L635.3 1380.4 L636.3 1379.6 L637.3 1378.6 L638.6 1378.2 L640.1 1377.7 L641.4 1378.1 L642.6 1378.7 L643.3 1379.6 L643.8 1380.5 Z" fill="none" stroke="#8c8c8c" stroke-width="0.7"/>
<path d="M643.2 1382.1 L643.5 1382.8 L644 1383.7 L643.7 1384.7 L643.1 1385.5 L642.2 1386.2 L641.1 1386.5 L640.2 1386.9 L639.3 1387.1 L638.3 1387.2 L637.2 1387.4 L636.3 1387.2 L635.4 1386.7 L634.7 1386.1 L634.5 1385.2 L634.4 1384.4 L634.8 1383.5 L635.1 1382.7 L635.7 1382 L635.9 1381.1 L636.7 1380.5 L637.6 1379.7 L638.7 1379.5 L639.8 1379.5 L640.8 1379.6 L641.5 1380.4 L642 1381 L642.9 1381.3 Z" fill="none" stroke="#8c8c8c" stroke-width="0.7"/>
<path d="M642.3 1382.6 L642.2 1383.3 L642 1383.9 L641.8 1384.5 L641.4 1384.9 L641.1 1385.6 L640.6 1386.1 L640 1386.6 L639.2 1386.8 L638.4 1386.9 L637.8 1386.5 L637.1 1386.3 L636.8 1385.7 L636.2 1385.5 L635.8 1385 L635.6 1384.4 L635.5 1383.8 L635.7 1383.1 L636 1382.4 L636.8 1382.1 L637.4 1381.7 L638.2 1381.6 L638.8 1381.3 L639.5 1381.4 L640.3 1381.1 L641 1381.2 L641.6 1381.5 L642.2 1382 Z" fill="none" stroke="#8c8c8c" stroke-width="0.7"/>
<path d="M641.1 1383.3 L641.1 1383.7 L640.9 1384.1 L640.8 1384.5 L640.4 1384.8 L640.2 1385.1 L639.9 1385.3 L639.6 1385.6 L639.1 1385.8 L638.7 1385.9 L638.2 1385.7 L637.9 1385.5 L637.6 1385.3 L637.5 1385 L637.3 1384.7 L637.2 1384.4 L636.9 1384 L637 1383.6 L637.2 1383.2 L637.5 1382.9 L638 1382.7 L638.4 1382.6 L638.9 1382.5 L639.3 1382.6 L639.7 1382.6 L640.1 1382.6 L640.6 1382.7 L640.8 1383 Z" fill="none" stroke="#8c8c8c" stroke-width="0.7"/>
<path d="M844.8 1360 L842.4 1368.5 L841.6 1377.3 L838.7 1384.6 L834.5 1389.6 L831.6 1398.4 L826.7 1403.9 L821 1404 L815.3 1403.4 L810 1400 L806.5 1391.8 L804.4 1383.2 L800.8 1377.1 L799.7 1368.5 L797.8 1360 L797.3 1350.5 L797.8 1340.4 L799.6 1330.1 L805.6 1326.2 L811 1323.6 L815.8 1319.9 L821 1320.4 L826 1321.3 L830.6 1325 L835.7 1327.8 L840.4 1332.9 L844 1340.6 L846.4 1349.9 Z" fill="none" stroke="#8c8c8c" stroke-width="0.7"/>
<path d="M844.5 1360.5 L842.7 1369.2 L841.1 1377.5 L837.9 1384.1 L833.7 1388.3 L831 1397 L826.1 1399.6 L821 1405.4 L815.5 1402.9 L810.7 1398 L806.3 1392.7 L804.5 1383.5 L801.3 1377.1 L800.8 1368.6 L798.3 1360.5 L799.4 1351.9 L799.2 1342.1 L802 1333.9 L805.8 1327.2 L810.7 1323 L815.9 1321.1 L821 1321.4 L825.5 1325.6 L830 1327.9 L834.9 1329.9 L840.2 1333.7 L843 1341.9 L845.5 1350.7 Z" fill="none" stroke="#8c8c8c" stroke-width="0.7"/>
<path d="M842.1 1361 L840 1368.6 L838.6 1375.8 L838.6 1385.6 L834.8 1391.4 L830.8 1396.8 L826.3 1401.5 L821 1401.1 L816.2 1398.1 L812.3 1392.6 L808.4 1388.6 L804.9 1383.5 L801.5 1377.5 L798.4 1370 L797.4 1361 L796.8 1351.3 L800.7 1343.9 L803.8 1337 L807.8 1332 L811.9 1327.9 L816.7 1327.7 L821 1324.2 L825.9 1323.5 L831 1324.8 L836.3 1327.5 L839.1 1335.8 L842 1343.3 L841.6 1352.8 Z" fill="none" stroke="#8c8c8c" stroke-width="0.7"/>
<path d="M840.5 1361.5 L839.8 1369 L838.6 1376.4 L835.4 1381.7 L833.6 1389.2 L830.5 1396 L825.9 1399.3 L821 1401.9 L816 1399.5 L811.9 1394.6 L809.4 1386.9 L806.1 1382.3 L804.1 1375.8 L801.8 1369.2 L800.3 1361.5 L799.9 1353.1 L800.6 1344.3 L803.6 1337.2 L807.5 1331.9 L811.9 1328.4 L816.6 1327.7 L821 1328.4 L825.4 1327.9 L830.2 1328 L834.3 1332.4 L837.8 1338 L842.4 1343.5 L842.4 1353 Z" fill="none" stroke="#8c8c8c" stroke-width="0.7"/>
<path d="M840.9 1362 L839 1369.2 L837.6 1376 L835.3 1381.9 L832 1386.1 L829.8 1393.9 L825.5 1396.4 L821 1400.6 L816.5 1396.7 L812.3 1393.6 L808.5 1389.3 L806.4 1382.4 L804.7 1375.7 L802.7 1369.3 L801.8 1362 L801 1354 L802 1346 L804 1338.4 L808.4 1334.3 L812.4 1330.7 L816.9 1330.5 L821 1330.2 L825 1331.6 L829 1332.9 L833.8 1334 L837.4 1339.1 L840.1 1345.9 L842.1 1353.6 Z" fill="none" stroke="#8c8c8c" stroke-width="0.7"/>
<path d="M837.9 1362.5 L838.9 1369.7 L838.5 1377.3 L837.3 1385.2 L833.8 1390.6 L829.2 1392.3 L825 1393.3 L821 1391.8 L817 1393.5 L813.5 1389.6 L810 1386.7 L805.2 1384.5 L802.9 1377.8 L800.8 1370.6 L801.2 1362.5 L803 1355.3 L805.1 1349.1 L807.3 1343.4 L810.5 1339.5 L813 1333.5 L816.8 1330.4 L821 1326.7 L825.7 1326.4 L829.4 1332.1 L833.1 1336 L835 1343 L836.1 1349.8 L837.5 1355.9 Z" fill="none" stroke="#8c8c8c" stroke-width="0.7"/>
<path d="M837.7 1363 L838.8 1370.1 L837.2 1376.7 L835.8 1383.7 L832.7 1388.7 L828.9 1391.6 L824.9 1392.8 L821 1391.6 L817.5 1390 L813.5 1390.4 L810.1 1387 L805.9 1384.1 L803.2 1378.1 L802.6 1370.4 L802.2 1363 L803.6 1356.1 L806 1350.4 L808.8 1346 L810.5 1339.9 L813.8 1336.7 L816.9 1331.4 L821 1329.4 L825.1 1331.6 L828.7 1335 L832.2 1338.4 L834.5 1344.1 L835.5 1350.8 L837.2 1356.6 Z" fill="none" stroke="#8c8c8c" stroke-width="0.7"/>
<path d="M839.1 1363.5 L839 1370.7 L837.2 1377.2 L833.7 1381.2 L830.3 1384 L827.6 1387.6 L824.6 1390.9 L821 1390.6 L817.2 1392.9 L813.3 1391.5 L809.6 1388.5 L807.8 1381.9 L806 1376.2 L805.1 1369.9 L806.2 1363.5 L806.7 1357.8 L807 1351.8 L807.8 1345.1 L809.9 1339.2 L813.2 1335.3 L817 1332.5 L821 1333.5 L824.5 1337.1 L828 1338.1 L830.1 1343.5 L833.3 1346.4 L836.1 1350.8 L838.6 1356.5 Z" fill="none" stroke="#8c8c8c" stroke-width="0.7"/>
<path d="M837 1364 L837.4 1370.6 L836.8 1377.3 L833.8 1381.9 L830.4 1384.6 L827.2 1386.4 L824.1 1387.8 L821 1388.4 L817.8 1388.2 L814 1389.4 L810.9 1386.3 L808 1382.1 L805.8 1376.8 L805 1370.4 L805.7 1364 L807.2 1358.5 L808.8 1353.7 L809.7 1348.3 L811.1 1342.3 L813.6 1337.1 L817.5 1336.9 L821 1336.1 L824.6 1336.6 L827.7 1339.7 L829.9 1344.5 L831.4 1349.6 L833.7 1353.4 L835.2 1358.4 Z" fill="none" stroke="#8c8c8c" stroke-width="0.7"/>
<path d="M833.4 1364.5 L834.2 1369.8 L833.9 1375.4 L832.5 1380.6 L831 1386.4 L827.8 1389.4 L824.4 1390.6 L821 1389.6 L817.9 1388 L815.2 1385.8 L812.8 1382.6 L810 1379.9 L807.7 1375.7 L805.6 1370.7 L806 1364.5 L806.3 1358.7 L807.4 1353.1 L810.5 1349.9 L812.2 1345.3 L815.3 1344 L817.9 1340.9 L821 1338.9 L824.5 1338 L827.8 1339.9 L831 1342.6 L832.9 1348 L834.2 1353.4 L834.6 1359.1 Z" fill="none" stroke="#8c8c8c" stroke-width="0.7"/>
<path d="M833 1365 L832.9 1369.8 L831.8 1374.1 L830.9 1378.9 L829.8 1384.3 L827 1386.9 L824.4 1390.9 L821 1389.7 L818.1 1387.4 L815.6 1384.5 L812.9 1382.8 L811 1379 L810 1374.3 L808.3 1370.1 L806.3 1365 L806.7 1359.3 L808.1 1354.2 L810.3 1350.1 L812.7 1346.8 L815.3 1344.4 L818.4 1345.2 L821 1342.6 L823.9 1342.6 L827.2 1342.6 L830 1345.4 L832.2 1349.4 L833.9 1354.2 L834.4 1359.7 Z" fill="none" stroke="#8c8c8c" stroke-width="0.7"/>
<path d="M833.5 1365.5 L833.8 1370.7 L832.8 1375.5 L831.5 1380.2 L828.4 1381.9 L825.8 1383.1 L823.6 1385.6 L821 1385 L818.5 1385 L815.7 1384.8 L812.5 1384.1 L811.1 1379.4 L809.4 1375.4 L808.7 1370.5 L809.3 1365.5 L810.2 1361.2 L811.3 1357.4 L812.1 1353.1 L813.1 1348.1 L815.3 1344.7 L818.1 1343.4 L821 1341.4 L823.8 1343.8 L826.3 1346.2 L828 1350.3 L829.5 1353.7 L831.1 1357 L832.8 1360.8 Z" fill="none" stroke="#8c8c8c" stroke-width="0.7"/>
<path d="M832.6 1366 L832.3 1370.5 L831.9 1375.2 L830.7 1379.6 L828.2 1381.9 L825.6 1382.8 L823.2 1383 L821 1383.9 L818.6 1384.8 L816.2 1383.6 L813.8 1381.7 L811.3 1379.5 L810 1375.3 L810 1370.4 L809.5 1366 L810.7 1361.9 L811.7 1358.2 L813.2 1355.2 L814.3 1351.4 L816.1 1348.1 L818.4 1346.4 L821 1344.7 L823.7 1345.4 L826 1347.8 L827.7 1351.4 L829.5 1354.1 L830.2 1358.3 L831.4 1361.9 Z" fill="none" stroke="#8c8c8c" stroke-width="0.7"/>
<path d="M831.5 1366.6 L830.6 1370.4 L829 1373.3 L827.8 1376.1 L827.2 1380.2 L825.3 1382.3 L823.5 1385.4 L821 1385.9 L818.5 1385.8 L816.5 1382.9 L815 1379.7 L813.8 1376.7 L812.7 1373.5 L811.3 1370.4 L811.2 1366.6 L810.4 1362.3 L810.9 1358 L812.4 1354.5 L814.6 1352.5 L816.7 1350.9 L818.9 1350.4 L821 1351 L823 1350.9 L825.3 1351.1 L827.2 1352.8 L829.4 1354.8 L830.7 1358.4 L831.1 1362.5 Z" fill="none" stroke="#8c8c8c" stroke-width="0.7"/>
<path d="M829.2 1367.1 L829.4 1370.4 L829.3 1374 L828.3 1377.3 L827 1380.3 L825.1 1381.9 L823.1 1383.1 L821 1383.1 L819.1 1381.7 L817.3 1380.4 L816 1378 L813.9 1377 L812.4 1374.3 L811.8 1370.7 L811.3 1367.1 L811.2 1363.2 L812.7 1360 L814.1 1357.4 L816 1356 L817.2 1353.4 L819.1 1352.8 L821 1351.7 L823.2 1350.5 L825.4 1350.9 L827.2 1353.5 L828.7 1356.3 L828.8 1360.5 L829 1363.9 Z" fill="none" stroke="#8c8c8c" stroke-width="0.7"/>
<path d="M828.2 1367.6 L828.7 1370.6 L828.4 1373.8 L827.8 1377.1 L826.1 1378.8 L824.8 1381.3 L822.8 1381.6 L821 1380.8 L819.3 1380.6 L817.8 1379.3 L816.2 1378.1 L814.9 1376.1 L813.6 1373.8 L812.8 1370.8 L812.3 1367.6 L813.1 1364.4 L814.3 1361.9 L815.5 1359.9 L816.4 1357.5 L817.7 1355.7 L819.3 1354.5 L821 1352.8 L822.9 1353.1 L824.7 1354.2 L826 1356.7 L826.9 1359.3 L827.4 1362.2 L827.9 1364.8 Z" fill="none" stroke="#8c8c8c" stroke-width="0.7"/>
<path d="M827.6 1368.1 L827.3 1370.6 L826.7 1372.8 L826.2 1375.3 L825.2 1377.4 L824.2 1379.6 L822.6 1380.4 L821 1380.5 L819.4 1380.4 L818 1378.9 L816.9 1377.1 L816.4 1374.5 L814.9 1373.2 L814.5 1370.7 L813.5 1368.1 L813.7 1365.1 L814.3 1362.5 L815.1 1359.9 L816.7 1358.7 L818.3 1358.3 L819.5 1356.9 L821 1356.7 L822.5 1356.3 L824 1357 L825.7 1357.7 L826.7 1360.1 L827.7 1362.4 L827.8 1365.4 Z" fill="none" stroke="#8c8c8c" stroke-width="0.7"/>
<path d="M826.7 1368.6 L826.2 1370.6 L826.2 1372.9 L825.4 1374.8 L824.5 1376.2 L823.6 1377.9 L822.4 1379.5 L821 1380.1 L819.7 1378.8 L818.3 1378.3 L817.5 1376.4 L816.5 1374.8 L816.4 1372.4 L815.5 1370.8 L815.1 1368.6 L814.7 1366.1 L815.1 1363.6 L815.9 1361.5 L817.1 1360.1 L818.5 1359.6 L819.8 1359.5 L821 1359.1 L822.2 1359.5 L823.5 1359.3 L824.7 1360.4 L826.2 1361.4 L826.7 1363.8 L827 1366.2 Z" fill="none" stroke="#8c8c8c" stroke-width="0.7"/>
<path d="M825.7 1369.1 L826 1371.1 L825.7 1373 L825 1374.6 L824.1 1375.9 L823.1 1376.6 L822 1376.7 L821 1376.4 L820 1376.8 L818.9 1376.7 L817.9 1375.9 L816.8 1374.9 L816.6 1372.8 L816.1 1371 L816.3 1369.1 L816.6 1367.3 L817.1 1365.8 L817.4 1364 L818 1362.5 L818.8 1361.1 L819.9 1360.4 L821 1359.3 L822.1 1360.3 L823.1 1361.3 L824 1362.5 L824.6 1364 L825.1 1365.6 L825.3 1367.4 Z" fill="none" stroke="#8c8c8c" stroke-width="0.7"/>
<path d="M824.8 1369.6 L824.8 1371.1 L824.5 1372.5 L824.1 1373.9 L823.4 1374.9 L822.6 1375.4 L821.8 1375.3 L821 1375.4 L820.2 1375.7 L819.3 1375.6 L818.5 1375.1 L817.7 1374.2 L817.4 1372.6 L817.2 1371.1 L817.4 1369.6 L817.6 1368.2 L817.9 1366.9 L818.2 1365.7 L818.8 1364.8 L819.3 1363.3 L820.1 1362.9 L821 1362.6 L821.9 1362.9 L822.7 1363.5 L823.2 1364.7 L823.5 1366 L824 1367 L824.4 1368.2 Z" fill="none" stroke="#8c8c8c" stroke-width="0.7"/>
<path d="M823.4 1370.1 L823.5 1371.1 L823.2 1372 L823 1372.9 L822.8 1373.9 L822.3 1374.7 L821.6 1374.9 L821 1375 L820.4 1374.6 L819.9 1374.1 L819.5 1373.5 L819.1 1372.7 L818.6 1372.1 L818.3 1371.2 L818.1 1370.1 L818.1 1368.9 L818.4 1367.9 L818.9 1367.1 L819.3 1366.4 L819.9 1366.1 L820.4 1365.8 L821 1365.9 L821.6 1365.8 L822.2 1365.8 L822.9 1366 L823.3 1366.8 L823.6 1367.9 L823.7 1369 Z" fill="none" stroke="#8c8c8c" stroke-width="0.7"/>
<path d="M822.5 1370.6 L822.4 1371.1 L822.4 1371.8 L822.3 1372.4 L822 1372.8 L821.7 1373.2 L821.4 1373.5 L821 1373.4 L820.7 1373.2 L820.3 1373 L820.1 1372.6 L819.8 1372.3 L819.6 1371.7 L819.4 1371.2 L819.3 1370.6 L819.4 1369.9 L819.5 1369.3 L819.7 1368.8 L820 1368.5 L820.4 1368.2 L820.7 1368 L821 1367.9 L821.4 1367.8 L821.8 1367.8 L822.1 1368.2 L822.4 1368.7 L822.5 1369.3 L822.5 1370 Z" fill="none" stroke="#8c8c8c" stroke-width="0.7"/>
<line x1="487.7" y1="1143" x2="487.7" y2="1239" stroke="#333" stroke-width="1.6"/>
<path d="M487.7 1135 L482.7 1146 L492.7 1146 Z" fill="#333"/>
<text transform="translate(479 1236) rotate(-90)" font-size="28">CD107a-APC</text>
<line x1="487.7" y1="1337.5" x2="487.7" y2="1433.6" stroke="#333" stroke-width="1.6"/>
<path d="M487.7 1329.5 L482.7 1340.5 L492.7 1340.5 Z" fill="#333"/>
<text transform="translate(479 1431) rotate(-90)" font-size="28">IFN<tspan font-family="Liberation Serif, serif">γ</tspan>-APC</text>
<line x1="501.4" y1="1452.7" x2="725" y2="1452.7" stroke="#333" stroke-width="1.6"/>
<path d="M733 1452.7 L722 1447.7 L722 1457.7 Z" fill="#333"/>
<text x="501.4" y="1477.4" font-size="28">hCD8-VioBlue</text>
<line x1="979" y1="1149.8" x2="984" y2="1149.8" stroke="#555" stroke-width="1"/>
<text x="968" y="1153.8" font-size="9.5" text-anchor="end">10</text>
<text x="974" y="1148.8" font-size="7.5" text-anchor="end">8</text>
<line x1="979" y1="1199.7" x2="984" y2="1199.7" stroke="#555" stroke-width="1"/>
<text x="968" y="1203.7" font-size="9.5" text-anchor="end">10</text>
<text x="974" y="1198.7" font-size="7.5" text-anchor="end">7</text>
<line x1="979" y1="1249" x2="984" y2="1249" stroke="#555" stroke-width="1"/>
<text x="968" y="1253" font-size="9.5" text-anchor="end">10</text>
<text x="974" y="1248" font-size="7.5" text-anchor="end">6</text>
<line x1="979" y1="1302" x2="984" y2="1302" stroke="#555" stroke-width="1"/>
<text x="968" y="1306" font-size="9.5" text-anchor="end">10</text>
<text x="974" y="1301" font-size="7.5" text-anchor="end">5</text>
<text x="964" y="1380" font-size="9.5" text-anchor="end">0</text>
<line x1="981" y1="1184.7" x2="984" y2="1184.7" stroke="#888" stroke-width="0.7"/>
<line x1="981" y1="1175.9" x2="984" y2="1175.9" stroke="#888" stroke-width="0.7"/>
<line x1="981" y1="1169.7" x2="984" y2="1169.7" stroke="#888" stroke-width="0.7"/>
<line x1="981" y1="1164.8" x2="984" y2="1164.8" stroke="#888" stroke-width="0.7"/>
<line x1="981" y1="1160.9" x2="984" y2="1160.9" stroke="#888" stroke-width="0.7"/>
<line x1="981" y1="1157.5" x2="984" y2="1157.5" stroke="#888" stroke-width="0.7"/>
<line x1="981" y1="1154.6" x2="984" y2="1154.6" stroke="#888" stroke-width="0.7"/>
<line x1="981" y1="1152.1" x2="984" y2="1152.1" stroke="#888" stroke-width="0.7"/>
<line x1="981" y1="1234.2" x2="984" y2="1234.2" stroke="#888" stroke-width="0.7"/>
<line x1="981" y1="1225.5" x2="984" y2="1225.5" stroke="#888" stroke-width="0.7"/>
<line x1="981" y1="1219.3" x2="984" y2="1219.3" stroke="#888" stroke-width="0.7"/>
<line x1="981" y1="1214.5" x2="984" y2="1214.5" stroke="#888" stroke-width="0.7"/>
<line x1="981" y1="1210.6" x2="984" y2="1210.6" stroke="#888" stroke-width="0.7"/>
<line x1="981" y1="1207.3" x2="984" y2="1207.3" stroke="#888" stroke-width="0.7"/>
<line x1="981" y1="1204.5" x2="984" y2="1204.5" stroke="#888" stroke-width="0.7"/>
<line x1="981" y1="1202" x2="984" y2="1202" stroke="#888" stroke-width="0.7"/>
<line x1="981" y1="1286" x2="984" y2="1286" stroke="#888" stroke-width="0.7"/>
<line x1="981" y1="1276.7" x2="984" y2="1276.7" stroke="#888" stroke-width="0.7"/>
<line x1="981" y1="1270.1" x2="984" y2="1270.1" stroke="#888" stroke-width="0.7"/>
<line x1="981" y1="1265" x2="984" y2="1265" stroke="#888" stroke-width="0.7"/>
<line x1="981" y1="1260.8" x2="984" y2="1260.8" stroke="#888" stroke-width="0.7"/>
<line x1="981" y1="1257.2" x2="984" y2="1257.2" stroke="#888" stroke-width="0.7"/>
<line x1="981" y1="1254.1" x2="984" y2="1254.1" stroke="#888" stroke-width="0.7"/>
<line x1="981" y1="1251.4" x2="984" y2="1251.4" stroke="#888" stroke-width="0.7"/>
<line x1="981" y1="1310" x2="984" y2="1310" stroke="#888" stroke-width="0.7"/>
<line x1="981" y1="1318" x2="984" y2="1318" stroke="#888" stroke-width="0.7"/>
<line x1="981" y1="1326" x2="984" y2="1326" stroke="#888" stroke-width="0.7"/>
<line x1="981" y1="1334" x2="984" y2="1334" stroke="#888" stroke-width="0.7"/>
<line x1="981" y1="1342" x2="984" y2="1342" stroke="#888" stroke-width="0.7"/>
<line x1="981" y1="1350" x2="984" y2="1350" stroke="#888" stroke-width="0.7"/>
<line x1="981" y1="1356" x2="984" y2="1356" stroke="#888" stroke-width="0.7"/>
<line x1="981" y1="1362" x2="984" y2="1362" stroke="#888" stroke-width="0.7"/>
<line x1="981" y1="1366" x2="984" y2="1366" stroke="#888" stroke-width="0.7"/>
<line x1="981" y1="1370" x2="984" y2="1370" stroke="#888" stroke-width="0.7"/>
<line x1="981" y1="1374" x2="984" y2="1374" stroke="#888" stroke-width="0.7"/>
<line x1="981" y1="1378" x2="984" y2="1378" stroke="#888" stroke-width="0.7"/>
<line x1="981" y1="1382" x2="984" y2="1382" stroke="#888" stroke-width="0.7"/>
<line x1="981" y1="1386" x2="984" y2="1386" stroke="#888" stroke-width="0.7"/>
<line x1="981" y1="1392" x2="984" y2="1392" stroke="#888" stroke-width="0.7"/>
<line x1="981" y1="1398" x2="984" y2="1398" stroke="#888" stroke-width="0.7"/>
<line x1="1003" y1="1414" x2="1003" y2="1420" stroke="#555" stroke-width="0.9"/>
<line x1="1008" y1="1414" x2="1008" y2="1420" stroke="#555" stroke-width="0.9"/>
<line x1="1012" y1="1414" x2="1012" y2="1420" stroke="#555" stroke-width="0.9"/>
<line x1="1016" y1="1414" x2="1016" y2="1420" stroke="#555" stroke-width="0.9"/>
<line x1="1019" y1="1414" x2="1019" y2="1420" stroke="#555" stroke-width="0.9"/>
<line x1="1021" y1="1414" x2="1021" y2="1420" stroke="#555" stroke-width="0.9"/>
<line x1="1023" y1="1414" x2="1023" y2="1420" stroke="#555" stroke-width="0.9"/>
<line x1="1025" y1="1414" x2="1025" y2="1420" stroke="#555" stroke-width="0.9"/>
<line x1="1027" y1="1414" x2="1027" y2="1420" stroke="#555" stroke-width="0.9"/>
<line x1="1029" y1="1414" x2="1029" y2="1420" stroke="#555" stroke-width="0.9"/>
<line x1="1032" y1="1414" x2="1032" y2="1420" stroke="#555" stroke-width="0.9"/>
<line x1="1035" y1="1414" x2="1035" y2="1420" stroke="#555" stroke-width="0.9"/>
<line x1="1040" y1="1414" x2="1040" y2="1420" stroke="#555" stroke-width="0.9"/>
<line x1="1048" y1="1414" x2="1048" y2="1420" stroke="#555" stroke-width="0.9"/>
<line x1="1056" y1="1414" x2="1056" y2="1420" stroke="#555" stroke-width="0.9"/>
<line x1="1062" y1="1414" x2="1062" y2="1420" stroke="#555" stroke-width="0.9"/>
<line x1="1066" y1="1414" x2="1066" y2="1420" stroke="#555" stroke-width="0.9"/>
<line x1="1070" y1="1414" x2="1070" y2="1420" stroke="#555" stroke-width="0.9"/>
<line x1="1072" y1="1414" x2="1072" y2="1420" stroke="#555" stroke-width="0.9"/>
<line x1="1074" y1="1414" x2="1074" y2="1420" stroke="#555" stroke-width="0.9"/>
<line x1="1076" y1="1414" x2="1076" y2="1420" stroke="#555" stroke-width="0.9"/>
<line x1="1078" y1="1414" x2="1078" y2="1420" stroke="#555" stroke-width="0.9"/>
<line x1="1093" y1="1414" x2="1093" y2="1420" stroke="#555" stroke-width="0.9"/>
<line x1="1103" y1="1414" x2="1103" y2="1420" stroke="#555" stroke-width="0.9"/>
<line x1="1110" y1="1414" x2="1110" y2="1420" stroke="#555" stroke-width="0.9"/>
<line x1="1118" y1="1414" x2="1118" y2="1420" stroke="#555" stroke-width="0.9"/>
<line x1="1124" y1="1414" x2="1124" y2="1420" stroke="#555" stroke-width="0.9"/>
<line x1="1128" y1="1414" x2="1128" y2="1420" stroke="#555" stroke-width="0.9"/>
<line x1="1131" y1="1414" x2="1131" y2="1420" stroke="#555" stroke-width="0.9"/>
<line x1="1133" y1="1414" x2="1133" y2="1420" stroke="#555" stroke-width="0.9"/>
<line x1="1134.6" y1="1414" x2="1134.6" y2="1420" stroke="#555" stroke-width="0.9"/>
<line x1="1146" y1="1414" x2="1146" y2="1420" stroke="#555" stroke-width="0.9"/>
<line x1="1155" y1="1414" x2="1155" y2="1420" stroke="#555" stroke-width="0.9"/>
<line x1="1162" y1="1414" x2="1162" y2="1420" stroke="#555" stroke-width="0.9"/>
<line x1="1170" y1="1414" x2="1170" y2="1420" stroke="#555" stroke-width="0.9"/>
<line x1="1175" y1="1414" x2="1175" y2="1420" stroke="#555" stroke-width="0.9"/>
<line x1="1179" y1="1414" x2="1179" y2="1420" stroke="#555" stroke-width="0.9"/>
<line x1="1182" y1="1414" x2="1182" y2="1420" stroke="#555" stroke-width="0.9"/>
<line x1="1185" y1="1414" x2="1185" y2="1420" stroke="#555" stroke-width="0.9"/>
<line x1="1196" y1="1414" x2="1196" y2="1420" stroke="#555" stroke-width="0.9"/>
<line x1="1206" y1="1414" x2="1206" y2="1420" stroke="#555" stroke-width="0.9"/>
<line x1="1213" y1="1414" x2="1213" y2="1420" stroke="#555" stroke-width="0.9"/>
<line x1="1220" y1="1414" x2="1220" y2="1420" stroke="#555" stroke-width="0.9"/>
<line x1="1226" y1="1414" x2="1226" y2="1420" stroke="#555" stroke-width="0.9"/>
<line x1="1229" y1="1414" x2="1229" y2="1420" stroke="#555" stroke-width="0.9"/>
<line x1="1231" y1="1414" x2="1231" y2="1420" stroke="#555" stroke-width="0.9"/>
<line x1="1233" y1="1414" x2="1233" y2="1420" stroke="#555" stroke-width="0.9"/>
<line x1="1245" y1="1414" x2="1245" y2="1420" stroke="#555" stroke-width="0.9"/>
<line x1="1255" y1="1414" x2="1255" y2="1420" stroke="#555" stroke-width="0.9"/>
<text x="1027" y="1436" font-size="9.5" text-anchor="middle">0</text>
<text x="1078" y="1439" font-size="9.5" text-anchor="middle">10</text>
<text x="1087" y="1432" font-size="7.5" text-anchor="middle">4</text>
<text x="1134.6" y="1439" font-size="9.5" text-anchor="middle">10</text>
<text x="1143.6" y="1432" font-size="7.5" text-anchor="middle">5</text>
<text x="1185" y="1439" font-size="9.5" text-anchor="middle">10</text>
<text x="1194" y="1432" font-size="7.5" text-anchor="middle">6</text>
<text x="1233" y="1439" font-size="9.5" text-anchor="middle">10</text>
<text x="1242" y="1432" font-size="7.5" text-anchor="middle">7</text>
<g><g filter="url(#pc6)"><ellipse cx="1180" cy="1236" rx="22" ry="40" fill="#fff" fill-opacity="0.4" transform="rotate(35 1180 1236)" filter="url(#bl7)"/><ellipse cx="1182" cy="1230" rx="13" ry="22" fill="#fff" fill-opacity="0.4" transform="rotate(35 1182 1230)" filter="url(#bl6)"/><ellipse cx="1182" cy="1228" rx="7" ry="12" fill="#fff" fill-opacity="0.5" transform="rotate(35 1182 1228)" filter="url(#bl4)"/><ellipse cx="1177" cy="1305" rx="16" ry="40" fill="#fff" fill-opacity="0.2" filter="url(#bl6)"/><ellipse cx="1195" cy="1200" rx="10" ry="14" fill="#fff" fill-opacity="0.2" filter="url(#bl5)"/></g></g>
<rect x="1147.7" y="1184.3" width="71.8" height="102.5" fill="none" stroke="#222" stroke-width="1"/>
<line x1="940" y1="1208.8" x2="940" y2="1433.6" stroke="#333" stroke-width="1.6"/>
<path d="M940 1200.8 L935 1211.8 L945 1211.8 Z" fill="#333"/>
<text transform="translate(935 1432) rotate(-90)" font-size="28">hCD8-VioBlue</text>
<line x1="956.5" y1="1452.7" x2="1181" y2="1452.7" stroke="#333" stroke-width="1.6"/>
<path d="M1189 1452.7 L1178 1447.7 L1178 1457.7 Z" fill="#333"/>
<text x="957.6" y="1477" font-size="28">hCD45-APC</text>
<line x1="1443" y1="1183" x2="1448" y2="1183" stroke="#555" stroke-width="1"/>
<text x="1434" y="1187" font-size="9.5" text-anchor="end">10</text>
<text x="1440" y="1182" font-size="7.5" text-anchor="end">7</text>
<line x1="1443" y1="1244" x2="1448" y2="1244" stroke="#555" stroke-width="1"/>
<text x="1434" y="1248" font-size="9.5" text-anchor="end">10</text>
<text x="1440" y="1243" font-size="7.5" text-anchor="end">6</text>
<line x1="1443" y1="1309.7" x2="1448" y2="1309.7" stroke="#555" stroke-width="1"/>
<text x="1434" y="1313.7" font-size="9.5" text-anchor="end">10</text>
<text x="1440" y="1308.7" font-size="7.5" text-anchor="end">5</text>
<text x="1431" y="1371" font-size="9.5" text-anchor="end">0</text>
<line x1="1445" y1="1225.6" x2="1448" y2="1225.6" stroke="#888" stroke-width="0.7"/>
<line x1="1445" y1="1214.9" x2="1448" y2="1214.9" stroke="#888" stroke-width="0.7"/>
<line x1="1445" y1="1207.3" x2="1448" y2="1207.3" stroke="#888" stroke-width="0.7"/>
<line x1="1445" y1="1201.4" x2="1448" y2="1201.4" stroke="#888" stroke-width="0.7"/>
<line x1="1445" y1="1196.5" x2="1448" y2="1196.5" stroke="#888" stroke-width="0.7"/>
<line x1="1445" y1="1192.4" x2="1448" y2="1192.4" stroke="#888" stroke-width="0.7"/>
<line x1="1445" y1="1188.9" x2="1448" y2="1188.9" stroke="#888" stroke-width="0.7"/>
<line x1="1445" y1="1185.8" x2="1448" y2="1185.8" stroke="#888" stroke-width="0.7"/>
<line x1="1445" y1="1289.9" x2="1448" y2="1289.9" stroke="#888" stroke-width="0.7"/>
<line x1="1445" y1="1278.4" x2="1448" y2="1278.4" stroke="#888" stroke-width="0.7"/>
<line x1="1445" y1="1270.1" x2="1448" y2="1270.1" stroke="#888" stroke-width="0.7"/>
<line x1="1445" y1="1263.8" x2="1448" y2="1263.8" stroke="#888" stroke-width="0.7"/>
<line x1="1445" y1="1258.6" x2="1448" y2="1258.6" stroke="#888" stroke-width="0.7"/>
<line x1="1445" y1="1254.2" x2="1448" y2="1254.2" stroke="#888" stroke-width="0.7"/>
<line x1="1445" y1="1250.4" x2="1448" y2="1250.4" stroke="#888" stroke-width="0.7"/>
<line x1="1445" y1="1247" x2="1448" y2="1247" stroke="#888" stroke-width="0.7"/>
<line x1="1445" y1="1165" x2="1448" y2="1165" stroke="#888" stroke-width="0.7"/>
<line x1="1445" y1="1170" x2="1448" y2="1170" stroke="#888" stroke-width="0.7"/>
<line x1="1445" y1="1175" x2="1448" y2="1175" stroke="#888" stroke-width="0.7"/>
<line x1="1445" y1="1318" x2="1448" y2="1318" stroke="#888" stroke-width="0.7"/>
<line x1="1445" y1="1326" x2="1448" y2="1326" stroke="#888" stroke-width="0.7"/>
<line x1="1445" y1="1334" x2="1448" y2="1334" stroke="#888" stroke-width="0.7"/>
<line x1="1445" y1="1342" x2="1448" y2="1342" stroke="#888" stroke-width="0.7"/>
<line x1="1445" y1="1350" x2="1448" y2="1350" stroke="#888" stroke-width="0.7"/>
<line x1="1445" y1="1356" x2="1448" y2="1356" stroke="#888" stroke-width="0.7"/>
<line x1="1445" y1="1362" x2="1448" y2="1362" stroke="#888" stroke-width="0.7"/>
<line x1="1445" y1="1366" x2="1448" y2="1366" stroke="#888" stroke-width="0.7"/>
<line x1="1445" y1="1370" x2="1448" y2="1370" stroke="#888" stroke-width="0.7"/>
<line x1="1445" y1="1374" x2="1448" y2="1374" stroke="#888" stroke-width="0.7"/>
<line x1="1445" y1="1378" x2="1448" y2="1378" stroke="#888" stroke-width="0.7"/>
<line x1="1445" y1="1382" x2="1448" y2="1382" stroke="#888" stroke-width="0.7"/>
<line x1="1445" y1="1390" x2="1448" y2="1390" stroke="#888" stroke-width="0.7"/>
<line x1="1445" y1="1398" x2="1448" y2="1398" stroke="#888" stroke-width="0.7"/>
<line x1="1445" y1="1405" x2="1448" y2="1405" stroke="#888" stroke-width="0.7"/>
<line x1="1453" y1="1414" x2="1453" y2="1420" stroke="#555" stroke-width="0.9"/>
<line x1="1458" y1="1414" x2="1458" y2="1420" stroke="#555" stroke-width="0.9"/>
<line x1="1463" y1="1414" x2="1463" y2="1420" stroke="#555" stroke-width="0.9"/>
<line x1="1468" y1="1414" x2="1468" y2="1420" stroke="#555" stroke-width="0.9"/>
<line x1="1472" y1="1414" x2="1472" y2="1420" stroke="#555" stroke-width="0.9"/>
<line x1="1476" y1="1414" x2="1476" y2="1420" stroke="#555" stroke-width="0.9"/>
<line x1="1479" y1="1414" x2="1479" y2="1420" stroke="#555" stroke-width="0.9"/>
<line x1="1481" y1="1414" x2="1481" y2="1420" stroke="#555" stroke-width="0.9"/>
<line x1="1483" y1="1414" x2="1483" y2="1420" stroke="#555" stroke-width="0.9"/>
<line x1="1485" y1="1414" x2="1485" y2="1420" stroke="#555" stroke-width="0.9"/>
<line x1="1487" y1="1414" x2="1487" y2="1420" stroke="#555" stroke-width="0.9"/>
<line x1="1490" y1="1414" x2="1490" y2="1420" stroke="#555" stroke-width="0.9"/>
<line x1="1495" y1="1414" x2="1495" y2="1420" stroke="#555" stroke-width="0.9"/>
<line x1="1500" y1="1414" x2="1500" y2="1420" stroke="#555" stroke-width="0.9"/>
<line x1="1506" y1="1414" x2="1506" y2="1420" stroke="#555" stroke-width="0.9"/>
<line x1="1512" y1="1414" x2="1512" y2="1420" stroke="#555" stroke-width="0.9"/>
<line x1="1518" y1="1414" x2="1518" y2="1420" stroke="#555" stroke-width="0.9"/>
<line x1="1524" y1="1414" x2="1524" y2="1420" stroke="#555" stroke-width="0.9"/>
<line x1="1530" y1="1414" x2="1530" y2="1420" stroke="#555" stroke-width="0.9"/>
<line x1="1535" y1="1414" x2="1535" y2="1420" stroke="#555" stroke-width="0.9"/>
<line x1="1539" y1="1414" x2="1539" y2="1420" stroke="#555" stroke-width="0.9"/>
<line x1="1543" y1="1414" x2="1543" y2="1420" stroke="#555" stroke-width="0.9"/>
<line x1="1553" y1="1414" x2="1553" y2="1420" stroke="#555" stroke-width="0.9"/>
<line x1="1562" y1="1414" x2="1562" y2="1420" stroke="#555" stroke-width="0.9"/>
<line x1="1570" y1="1414" x2="1570" y2="1420" stroke="#555" stroke-width="0.9"/>
<line x1="1577" y1="1414" x2="1577" y2="1420" stroke="#555" stroke-width="0.9"/>
<line x1="1583" y1="1414" x2="1583" y2="1420" stroke="#555" stroke-width="0.9"/>
<line x1="1588" y1="1414" x2="1588" y2="1420" stroke="#555" stroke-width="0.9"/>
<line x1="1592" y1="1414" x2="1592" y2="1420" stroke="#555" stroke-width="0.9"/>
<line x1="1595" y1="1414" x2="1595" y2="1420" stroke="#555" stroke-width="0.9"/>
<line x1="1597" y1="1414" x2="1597" y2="1420" stroke="#555" stroke-width="0.9"/>
<line x1="1607" y1="1414" x2="1607" y2="1420" stroke="#555" stroke-width="0.9"/>
<line x1="1616" y1="1414" x2="1616" y2="1420" stroke="#555" stroke-width="0.9"/>
<line x1="1623" y1="1414" x2="1623" y2="1420" stroke="#555" stroke-width="0.9"/>
<line x1="1630" y1="1414" x2="1630" y2="1420" stroke="#555" stroke-width="0.9"/>
<line x1="1636" y1="1414" x2="1636" y2="1420" stroke="#555" stroke-width="0.9"/>
<line x1="1641" y1="1414" x2="1641" y2="1420" stroke="#555" stroke-width="0.9"/>
<line x1="1645" y1="1414" x2="1645" y2="1420" stroke="#555" stroke-width="0.9"/>
<line x1="1649" y1="1414" x2="1649" y2="1420" stroke="#555" stroke-width="0.9"/>
<line x1="1660" y1="1414" x2="1660" y2="1420" stroke="#555" stroke-width="0.9"/>
<line x1="1668" y1="1414" x2="1668" y2="1420" stroke="#555" stroke-width="0.9"/>
<line x1="1675" y1="1414" x2="1675" y2="1420" stroke="#555" stroke-width="0.9"/>
<line x1="1682" y1="1414" x2="1682" y2="1420" stroke="#555" stroke-width="0.9"/>
<line x1="1688" y1="1414" x2="1688" y2="1420" stroke="#555" stroke-width="0.9"/>
<line x1="1692" y1="1414" x2="1692" y2="1420" stroke="#555" stroke-width="0.9"/>
<line x1="1695" y1="1414" x2="1695" y2="1420" stroke="#555" stroke-width="0.9"/>
<line x1="1719" y1="1414" x2="1719" y2="1420" stroke="#555" stroke-width="0.9"/>
<text x="1488.4" y="1436" font-size="9.5" text-anchor="middle">0</text>
<text x="1543" y="1439" font-size="9.5" text-anchor="middle">10</text>
<text x="1552" y="1432" font-size="7.5" text-anchor="middle">4</text>
<text x="1597" y="1439" font-size="9.5" text-anchor="middle">10</text>
<text x="1606" y="1432" font-size="7.5" text-anchor="middle">5</text>
<text x="1649" y="1439" font-size="9.5" text-anchor="middle">10</text>
<text x="1658" y="1432" font-size="7.5" text-anchor="middle">6</text>
<text x="1695.6" y="1439" font-size="9.5" text-anchor="middle">10</text>
<text x="1704.6" y="1432" font-size="7.5" text-anchor="middle">7</text>
<g><g filter="url(#pc7)"><path d="M1455 1245 C1480 1250 1540 1245 1575 1240 C1580 1280 1578 1320 1570 1350 C1560 1372 1520 1380 1490 1378 C1465 1375 1458 1350 1456 1320 C1455 1290 1454 1265 1455 1245 Z" fill="#fff" fill-opacity="0.21" filter="url(#bl5)"/><ellipse cx="1495" cy="1330" rx="40" ry="40" fill="#fff" fill-opacity="0.1" filter="url(#bl8)"/><path d="M1452 1222 C1460 1205 1500 1192 1553 1180 C1590 1172 1630 1172 1645 1185 C1655 1198 1650 1215 1639 1225 C1600 1230 1560 1233 1530 1240 C1500 1250 1470 1260 1455 1250 Z" fill="#fff" fill-opacity="0.32" filter="url(#bl4)"/><path d="M1460 1222 C1475 1202 1530 1190 1570 1184 C1610 1180 1638 1184 1642 1198 C1642 1212 1620 1220 1590 1224 C1560 1228 1530 1234 1500 1242 C1478 1246 1462 1238 1460 1222 Z" fill="#fff" fill-opacity="0.44" filter="url(#bl5)"/><path d="M1472 1220 C1495 1204 1550 1196 1590 1193 C1620 1192 1634 1198 1630 1208 C1612 1216 1570 1218 1540 1224 C1510 1230 1482 1234 1472 1220 Z" fill="#fff" fill-opacity="0.25" filter="url(#bl4)"/><ellipse cx="1506" cy="1225" rx="30" ry="9" fill="#fff" fill-opacity="0.3" filter="url(#bl4)"/><ellipse cx="1580" cy="1203" rx="40" ry="6" fill="#fff" fill-opacity="0.1" transform="rotate(-4 1580 1203)" filter="url(#bl4)"/><ellipse cx="1502" cy="1226" rx="17" ry="5" fill="#fff" fill-opacity="0.8" filter="url(#bl2_5)"/><ellipse cx="1556" cy="1252" rx="10" ry="28" fill="#fff" fill-opacity="0.6" transform="rotate(35 1556 1252)" filter="url(#bl5)"/><ellipse cx="1556" cy="1252" rx="5" ry="20" fill="#fff" fill-opacity="0.3" transform="rotate(35 1556 1252)" filter="url(#bl3)"/><ellipse cx="1498" cy="1352" rx="42" ry="22" fill="#fff" fill-opacity="0.4" filter="url(#bl8)"/><ellipse cx="1500" cy="1358" rx="26" ry="11" fill="#fff" fill-opacity="0.3" filter="url(#bl5)"/><ellipse cx="1645" cy="1318" rx="22" ry="66" fill="#fff" fill-opacity="0.1" filter="url(#bl5)"/><ellipse cx="1647" cy="1360" rx="15" ry="20" fill="#fff" fill-opacity="0" filter="url(#bl5)"/></g></g>
<path d="M1615.7 1384 L1615.7 1248.8 L1681.3 1248.8 L1681.3 1384" fill="none" stroke="#222" stroke-width="1"/>
<line x1="1402.3" y1="1210.9" x2="1402.3" y2="1434" stroke="#333" stroke-width="1.6"/>
<path d="M1402.3 1202.9 L1397.3 1213.9 L1407.3 1213.9 Z" fill="#333"/>
<text transform="translate(1396 1432) rotate(-90)" font-size="28">mCD45-APC/cy7</text>
<line x1="1417.8" y1="1453" x2="1643" y2="1453" stroke="#333" stroke-width="1.6"/>
<path d="M1651 1453 L1640 1448 L1640 1458 Z" fill="#333"/>
<text x="1417.8" y="1477" font-size="28">hCD45-APC</text>
<line x1="1616" y1="933" x2="1616" y2="1160" stroke="#e2233a" stroke-width="4"/>
<path d="M1616 1187 L1601 1157 L1631 1157 Z" fill="#e2233a"/>
<line x1="1634.7" y1="1272.8" x2="1315.7" y2="1272.8" stroke="#e2233a" stroke-width="4"/>
<path d="M1288.7 1272.8 L1318.7 1257.8 L1318.7 1287.8 Z" fill="#e2233a"/>
<line x1="1174" y1="1271" x2="875" y2="1271" stroke="#e2233a" stroke-width="4"/>
<path d="M848 1271 L878 1256 L878 1286 Z" fill="#e2233a"/>
<text x="9" y="1564.6" font-size="39" font-weight="bold">c</text>
<text x="73" y="1564.6" font-size="28">In vivo distribution of CAR T cells (Donor 2)</text>
<rect x="106" y="1720" width="37.7" height="196" fill="#fff" stroke="#231f20" stroke-width="2.6"/>
<rect x="164.8" y="1776.6" width="38.5" height="139.4" fill="#00827f" stroke="#231f20" stroke-width="2.6"/>
<rect x="263" y="1914.2" width="38.4" height="1.8" fill="#fff" stroke="#231f20" stroke-width="2.6"/>
<rect x="322" y="1906.2" width="39" height="9.8" fill="#00827f" stroke="#231f20" stroke-width="2.6"/>
<rect x="420.9" y="1870.8" width="38.5" height="45.2" fill="#fff" stroke="#231f20" stroke-width="2.6"/>
<rect x="479.7" y="1803.7" width="38.6" height="112.3" fill="#00827f" stroke="#231f20" stroke-width="2.6"/>
<line x1="124.9" y1="1720" x2="124.9" y2="1701.9" stroke="#231f20" stroke-width="2.6"/>
<line x1="113.9" y1="1701.9" x2="135.9" y2="1701.9" stroke="#231f20" stroke-width="2.6"/>
<line x1="184" y1="1776.6" x2="184" y2="1753.9" stroke="#231f20" stroke-width="2.6"/>
<line x1="173" y1="1753.9" x2="195" y2="1753.9" stroke="#231f20" stroke-width="2.6"/>
<line x1="341.5" y1="1906.2" x2="341.5" y2="1901.7" stroke="#231f20" stroke-width="2.6"/>
<line x1="330.5" y1="1901.7" x2="352.5" y2="1901.7" stroke="#231f20" stroke-width="2.6"/>
<line x1="440.1" y1="1870.8" x2="440.1" y2="1855.7" stroke="#231f20" stroke-width="2.6"/>
<line x1="429.1" y1="1855.7" x2="451.1" y2="1855.7" stroke="#231f20" stroke-width="2.6"/>
<line x1="499" y1="1803.7" x2="499" y2="1783.3" stroke="#231f20" stroke-width="2.6"/>
<line x1="488" y1="1783.3" x2="510" y2="1783.3" stroke="#231f20" stroke-width="2.6"/>
<line x1="85.6" y1="1613" x2="85.6" y2="1917.5" stroke="#231f20" stroke-width="3.8"/>
<line x1="84.1" y1="1916" x2="537.9" y2="1916" stroke="#231f20" stroke-width="3.8"/>
<line x1="73.1" y1="1916" x2="85.6" y2="1916" stroke="#231f20" stroke-width="3.8"/>
<line x1="73.1" y1="1840.6" x2="85.6" y2="1840.6" stroke="#231f20" stroke-width="3.8"/>
<line x1="73.1" y1="1765.2" x2="85.6" y2="1765.2" stroke="#231f20" stroke-width="3.8"/>
<line x1="73.1" y1="1689.9" x2="85.6" y2="1689.9" stroke="#231f20" stroke-width="3.8"/>
<line x1="73.1" y1="1614.5" x2="85.6" y2="1614.5" stroke="#231f20" stroke-width="3.8"/>
<text x="68" y="1924.5" font-size="24.5" text-anchor="end">0</text>
<text x="68" y="1849.1" font-size="24.5" text-anchor="end">50</text>
<text x="68" y="1773.8" font-size="24.5" text-anchor="end">100</text>
<text x="68" y="1698.4" font-size="24.5" text-anchor="end">150</text>
<text x="68" y="1623" font-size="24.5" text-anchor="end">200</text>
<line x1="154" y1="1916" x2="154" y2="1929.5" stroke="#231f20" stroke-width="3.8"/>
<text x="156.5" y="1955" font-size="25" text-anchor="middle">Lung</text>
<line x1="311.4" y1="1916" x2="311.4" y2="1929.5" stroke="#231f20" stroke-width="3.8"/>
<text x="313.9" y="1955" font-size="25" text-anchor="middle">Spleen</text>
<line x1="469" y1="1916" x2="469" y2="1929.5" stroke="#231f20" stroke-width="3.8"/>
<text x="471.5" y="1955" font-size="25" text-anchor="middle">Tumor</text>
<circle cx="124.5" cy="1663.7" r="6" fill="#231f20"/>
<circle cx="124.5" cy="1703.7" r="6" fill="#231f20"/>
<circle cx="124.5" cy="1723.3" r="6" fill="#231f20"/>
<circle cx="124.5" cy="1739.4" r="6" fill="#231f20"/>
<circle cx="124.5" cy="1774" r="6" fill="#231f20"/>
<circle cx="170.5" cy="1731.5" r="6" fill="#231f20"/>
<circle cx="184.4" cy="1749.3" r="6" fill="#231f20"/>
<circle cx="197.2" cy="1720.8" r="6" fill="#231f20"/>
<circle cx="170.5" cy="1794.6" r="6" fill="#231f20"/>
<circle cx="197.2" cy="1798.2" r="6" fill="#231f20"/>
<circle cx="184.4" cy="1868.8" r="6" fill="#231f20"/>
<circle cx="268.6" cy="1915.9" r="6" fill="#231f20"/>
<circle cx="276.4" cy="1908.8" r="6" fill="#231f20"/>
<circle cx="288.9" cy="1909.9" r="6" fill="#231f20"/>
<circle cx="296.8" cy="1916.6" r="6" fill="#231f20"/>
<circle cx="328" cy="1901" r="6" fill="#231f20"/>
<circle cx="337" cy="1905" r="6" fill="#231f20"/>
<circle cx="346" cy="1898" r="6" fill="#231f20"/>
<circle cx="328" cy="1910" r="6" fill="#231f20"/>
<circle cx="355" cy="1911" r="6" fill="#231f20"/>
<circle cx="440.5" cy="1821.4" r="6" fill="#231f20"/>
<circle cx="426.2" cy="1866" r="6" fill="#231f20"/>
<circle cx="453" cy="1866" r="6" fill="#231f20"/>
<circle cx="440.5" cy="1893.8" r="6" fill="#231f20"/>
<circle cx="440.5" cy="1908.8" r="6" fill="#231f20"/>
<circle cx="498.6" cy="1746.9" r="6" fill="#231f20"/>
<circle cx="500" cy="1773.2" r="6" fill="#231f20"/>
<circle cx="485.8" cy="1784" r="6" fill="#231f20"/>
<circle cx="512.6" cy="1784.7" r="6" fill="#231f20"/>
<circle cx="505.4" cy="1862.4" r="6" fill="#231f20"/>
<circle cx="492.2" cy="1872.4" r="6" fill="#231f20"/>
<text x="465.5" y="1618.8" font-size="21" text-anchor="middle">P = 0.032</text>
<path d="M439.8 1798.2 L439.8 1626.3 L499.4 1626.3 L499.4 1718.7" fill="none" stroke="#231f20" stroke-width="2"/>
<text transform="translate(24 1850) rotate(-90)" font-size="27">T cell # (x 10<tspan font-size="16" dy="-10">3</tspan><tspan dy="10">)</tspan></text>
<rect x="76.7" y="1987.3" width="32.1" height="16.7" fill="#fff" stroke="#231f20" stroke-width="1.8"/>
<text x="117" y="2003.3" font-size="27">Control-CAR T</text>
<rect x="76.7" y="2029.3" width="32.1" height="16.7" fill="#00827f" stroke="#231f20" stroke-width="1.8"/>
<text x="117" y="2046" font-size="27">GPR183<tspan font-size="16" dy="-11">OE</tspan><tspan dy="11">-CAR T</tspan></text>
<rect x="630.8" y="1771.8" width="38.8" height="143.5" fill="#fff" stroke="#231f20" stroke-width="2.6"/>
<rect x="690.3" y="1810" width="37.8" height="105.3" fill="#00827f" stroke="#231f20" stroke-width="2.6"/>
<rect x="787.6" y="1909.3" width="38.4" height="6" fill="#fff" stroke="#231f20" stroke-width="2.6"/>
<rect x="846" y="1900.7" width="38.6" height="14.6" fill="#00827f" stroke="#231f20" stroke-width="2.6"/>
<rect x="944" y="1895.4" width="38.6" height="19.9" fill="#fff" stroke="#231f20" stroke-width="2.6"/>
<rect x="1003" y="1844.7" width="39" height="70.6" fill="#00827f" stroke="#231f20" stroke-width="2.6"/>
<line x1="650.2" y1="1771.8" x2="650.2" y2="1753.2" stroke="#231f20" stroke-width="2.6"/>
<line x1="639.2" y1="1753.2" x2="661.2" y2="1753.2" stroke="#231f20" stroke-width="2.6"/>
<line x1="709.2" y1="1810" x2="709.2" y2="1797.9" stroke="#231f20" stroke-width="2.6"/>
<line x1="698.2" y1="1797.9" x2="720.2" y2="1797.9" stroke="#231f20" stroke-width="2.6"/>
<line x1="865.3" y1="1900.7" x2="865.3" y2="1895.6" stroke="#231f20" stroke-width="2.6"/>
<line x1="854.3" y1="1895.6" x2="876.3" y2="1895.6" stroke="#231f20" stroke-width="2.6"/>
<line x1="963.3" y1="1895.4" x2="963.3" y2="1886.8" stroke="#231f20" stroke-width="2.6"/>
<line x1="952.3" y1="1886.8" x2="974.3" y2="1886.8" stroke="#231f20" stroke-width="2.6"/>
<line x1="1022.5" y1="1844.7" x2="1022.5" y2="1826.6" stroke="#231f20" stroke-width="2.6"/>
<line x1="1011.5" y1="1826.6" x2="1033.5" y2="1826.6" stroke="#231f20" stroke-width="2.6"/>
<line x1="611.1" y1="1612.8" x2="611.1" y2="1916.8" stroke="#231f20" stroke-width="3.8"/>
<line x1="609.6" y1="1915.3" x2="1062" y2="1915.3" stroke="#231f20" stroke-width="3.8"/>
<line x1="598.6" y1="1915.3" x2="611.1" y2="1915.3" stroke="#231f20" stroke-width="3.8"/>
<line x1="598.6" y1="1815" x2="611.1" y2="1815" stroke="#231f20" stroke-width="3.8"/>
<line x1="598.6" y1="1714.6" x2="611.1" y2="1714.6" stroke="#231f20" stroke-width="3.8"/>
<line x1="598.6" y1="1614.3" x2="611.1" y2="1614.3" stroke="#231f20" stroke-width="3.8"/>
<text x="593" y="1923.8" font-size="24.5" text-anchor="end">0</text>
<text x="593" y="1823.5" font-size="24.5" text-anchor="end">5</text>
<text x="593" y="1723.1" font-size="24.5" text-anchor="end">10</text>
<text x="593" y="1622.8" font-size="24.5" text-anchor="end">15</text>
<line x1="678.9" y1="1915.3" x2="678.9" y2="1928" stroke="#231f20" stroke-width="3.8"/>
<text x="678.9" y="1953" font-size="25" text-anchor="middle">Lung</text>
<line x1="835.7" y1="1915.3" x2="835.7" y2="1928" stroke="#231f20" stroke-width="3.8"/>
<text x="835.7" y="1953" font-size="25" text-anchor="middle">Spleen</text>
<line x1="993" y1="1915.3" x2="993" y2="1928" stroke="#231f20" stroke-width="3.8"/>
<text x="993" y="1953" font-size="25" text-anchor="middle">Tumor</text>
<circle cx="650" cy="1707.2" r="6" fill="#231f20"/>
<circle cx="650" cy="1766.4" r="6" fill="#231f20"/>
<circle cx="636.9" cy="1787.7" r="6" fill="#231f20"/>
<circle cx="663.8" cy="1789.8" r="6" fill="#231f20"/>
<circle cx="650" cy="1808.3" r="6" fill="#231f20"/>
<circle cx="695.4" cy="1788.7" r="6" fill="#231f20"/>
<circle cx="722.9" cy="1779.4" r="6" fill="#231f20"/>
<circle cx="695.4" cy="1810.1" r="6" fill="#231f20"/>
<circle cx="722.9" cy="1804.9" r="6" fill="#231f20"/>
<circle cx="709.2" cy="1822.1" r="6" fill="#231f20"/>
<circle cx="709.2" cy="1856.5" r="6" fill="#231f20"/>
<circle cx="793.4" cy="1911.9" r="6" fill="#231f20"/>
<circle cx="800.3" cy="1902.2" r="6" fill="#231f20"/>
<circle cx="814.1" cy="1905.7" r="6" fill="#231f20"/>
<circle cx="821" cy="1913.6" r="6" fill="#231f20"/>
<circle cx="860.5" cy="1883.3" r="6" fill="#231f20"/>
<circle cx="851.9" cy="1892.9" r="6" fill="#231f20"/>
<circle cx="851.9" cy="1908.4" r="6" fill="#231f20"/>
<circle cx="870.8" cy="1905.7" r="6" fill="#231f20"/>
<circle cx="879.4" cy="1907.4" r="6" fill="#231f20"/>
<circle cx="963.7" cy="1866.8" r="6" fill="#231f20"/>
<circle cx="977.5" cy="1889.5" r="6" fill="#231f20"/>
<circle cx="949.9" cy="1898.8" r="6" fill="#231f20"/>
<circle cx="977.5" cy="1908.1" r="6" fill="#231f20"/>
<circle cx="949.9" cy="1912.5" r="6" fill="#231f20"/>
<circle cx="1022.2" cy="1766.4" r="6" fill="#231f20"/>
<circle cx="1009.1" cy="1827.6" r="6" fill="#231f20"/>
<circle cx="1035.9" cy="1831.7" r="6" fill="#231f20"/>
<circle cx="1022.2" cy="1848.9" r="6" fill="#231f20"/>
<circle cx="1009.1" cy="1897.8" r="6" fill="#231f20"/>
<circle cx="1035.9" cy="1893.6" r="6" fill="#231f20"/>
<text x="993" y="1662.5" font-size="21" text-anchor="middle">P = 0.0561</text>
<path d="M963.7 1862.7 L963.7 1671.1 L1022.9 1671.1 L1022.9 1707.9" fill="none" stroke="#231f20" stroke-width="2"/>
<text transform="translate(564.5 1900.5) rotate(-90)" font-size="26" textLength="273.5" lengthAdjust="spacingAndGlyphs">% of T cells in live cells</text>
<text x="1049" y="1565" font-size="39" font-weight="bold">d</text>
<text x="1112.3" y="1565.9" font-size="28">IFN<tspan font-family="Liberation Serif, serif">γ</tspan>  and CD107a expression in</text>
<text x="1112.3" y="1598.3" font-size="28">tumor infiltrating CAR-T cells (Donor 2)</text>
<rect x="1179.7" y="1865.3" width="44.8" height="51.2" fill="#fff" stroke="#231f20" stroke-width="2.6"/>
<rect x="1247.5" y="1885.3" width="44.9" height="31.2" fill="#00827f" stroke="#231f20" stroke-width="2.6"/>
<rect x="1316.8" y="1786.7" width="43.9" height="129.8" fill="#fff" stroke="#231f20" stroke-width="2.6"/>
<rect x="1384.6" y="1764.4" width="44.4" height="152.1" fill="#00827f" stroke="#231f20" stroke-width="2.6"/>
<line x1="1202.1" y1="1865.3" x2="1202.1" y2="1847.5" stroke="#231f20" stroke-width="2.6"/>
<line x1="1192.1" y1="1847.5" x2="1212.1" y2="1847.5" stroke="#231f20" stroke-width="2.6"/>
<line x1="1270" y1="1885.3" x2="1270" y2="1880.2" stroke="#231f20" stroke-width="2.6"/>
<line x1="1260" y1="1880.2" x2="1280" y2="1880.2" stroke="#231f20" stroke-width="2.6"/>
<line x1="1338.8" y1="1786.7" x2="1338.8" y2="1763" stroke="#231f20" stroke-width="2.6"/>
<line x1="1328.8" y1="1763" x2="1348.8" y2="1763" stroke="#231f20" stroke-width="2.6"/>
<line x1="1406.8" y1="1764.4" x2="1406.8" y2="1742.9" stroke="#231f20" stroke-width="2.6"/>
<line x1="1396.8" y1="1742.9" x2="1416.8" y2="1742.9" stroke="#231f20" stroke-width="2.6"/>
<line x1="1155.7" y1="1618.3" x2="1155.7" y2="1918" stroke="#231f20" stroke-width="3.8"/>
<line x1="1154.2" y1="1916.5" x2="1451.5" y2="1916.5" stroke="#231f20" stroke-width="3.8"/>
<line x1="1143.2" y1="1916.5" x2="1155.7" y2="1916.5" stroke="#231f20" stroke-width="3.8"/>
<line x1="1143.2" y1="1842.3" x2="1155.7" y2="1842.3" stroke="#231f20" stroke-width="3.8"/>
<line x1="1143.2" y1="1768.2" x2="1155.7" y2="1768.2" stroke="#231f20" stroke-width="3.8"/>
<line x1="1143.2" y1="1694" x2="1155.7" y2="1694" stroke="#231f20" stroke-width="3.8"/>
<line x1="1143.2" y1="1619.8" x2="1155.7" y2="1619.8" stroke="#231f20" stroke-width="3.8"/>
<text x="1138" y="1925" font-size="24.5" text-anchor="end">0</text>
<text x="1138" y="1850.8" font-size="24.5" text-anchor="end">5</text>
<text x="1138" y="1776.7" font-size="24.5" text-anchor="end">10</text>
<text x="1138" y="1702.5" font-size="24.5" text-anchor="end">15</text>
<text x="1138" y="1628.3" font-size="24.5" text-anchor="end">20</text>
<circle cx="1202.1" cy="1809.3" r="6" fill="#231f20"/>
<circle cx="1202.1" cy="1835.2" r="6" fill="#231f20"/>
<circle cx="1184.6" cy="1893.1" r="6" fill="#231f20"/>
<circle cx="1202.1" cy="1890.1" r="6" fill="#231f20"/>
<circle cx="1218.6" cy="1893.1" r="6" fill="#231f20"/>
<circle cx="1263.4" cy="1869.1" r="6" fill="#231f20"/>
<circle cx="1275.9" cy="1866.6" r="6" fill="#231f20"/>
<circle cx="1253.5" cy="1896.6" r="6" fill="#231f20"/>
<circle cx="1269.4" cy="1891.6" r="6" fill="#231f20"/>
<circle cx="1284.4" cy="1890.1" r="6" fill="#231f20"/>
<circle cx="1321.8" cy="1734.5" r="6" fill="#231f20"/>
<circle cx="1355.2" cy="1746.9" r="6" fill="#231f20"/>
<circle cx="1338.3" cy="1767.9" r="6" fill="#231f20"/>
<circle cx="1321.8" cy="1841.7" r="6" fill="#231f20"/>
<circle cx="1355.2" cy="1839.2" r="6" fill="#231f20"/>
<circle cx="1406.6" cy="1669.6" r="6" fill="#231f20"/>
<circle cx="1406.6" cy="1750.4" r="6" fill="#231f20"/>
<circle cx="1390.1" cy="1780.3" r="6" fill="#231f20"/>
<circle cx="1406.6" cy="1785.3" r="6" fill="#231f20"/>
<circle cx="1423" cy="1781.8" r="6" fill="#231f20"/>
<circle cx="1406.6" cy="1818.3" r="6" fill="#231f20"/>
<line x1="1202" y1="1916.5" x2="1202" y2="1929" stroke="#231f20" stroke-width="3.8"/>
<text x="1202" y="1957" font-size="19.5" text-anchor="middle" font-weight="bold">—</text>
<line x1="1269.4" y1="1916.5" x2="1269.4" y2="1929" stroke="#231f20" stroke-width="3.8"/>
<text x="1269.4" y="1957" font-size="19.5" text-anchor="middle" font-weight="bold">—</text>
<line x1="1337.8" y1="1916.5" x2="1337.8" y2="1929" stroke="#231f20" stroke-width="3.8"/>
<text x="1337.8" y="1959" font-size="24" text-anchor="middle" font-weight="bold">+</text>
<line x1="1406.6" y1="1916.5" x2="1406.6" y2="1929" stroke="#231f20" stroke-width="3.8"/>
<text x="1406.6" y="1959" font-size="24" text-anchor="middle" font-weight="bold">+</text>
<text x="1093.9" y="1953.9" font-size="24">PMA/</text>
<text x="1068.9" y="1982.8" font-size="24">Ionomycin</text>
<text transform="translate(1103 1818.3) rotate(-90)" font-size="24">IFN<tspan font-family="Liberation Serif, serif">γ</tspan><tspan font-size="15" dy="-10">+</tspan><tspan dy="10"> (%)</tspan></text>
<rect x="1551.2" y="1853.2" width="43.9" height="62.3" fill="#fff" stroke="#231f20" stroke-width="2.6"/>
<rect x="1618.5" y="1884.4" width="44.9" height="31.1" fill="#00827f" stroke="#231f20" stroke-width="2.6"/>
<rect x="1686.9" y="1804.4" width="43.9" height="111.1" fill="#fff" stroke="#231f20" stroke-width="2.6"/>
<rect x="1754.2" y="1800.9" width="44.9" height="114.6" fill="#00827f" stroke="#231f20" stroke-width="2.6"/>
<line x1="1573.2" y1="1853.2" x2="1573.2" y2="1832.1" stroke="#231f20" stroke-width="2.6"/>
<line x1="1563.2" y1="1832.1" x2="1583.2" y2="1832.1" stroke="#231f20" stroke-width="2.6"/>
<line x1="1641" y1="1884.4" x2="1641" y2="1880.8" stroke="#231f20" stroke-width="2.6"/>
<line x1="1631" y1="1880.8" x2="1651" y2="1880.8" stroke="#231f20" stroke-width="2.6"/>
<line x1="1708.9" y1="1804.4" x2="1708.9" y2="1780.4" stroke="#231f20" stroke-width="2.6"/>
<line x1="1698.9" y1="1780.4" x2="1718.9" y2="1780.4" stroke="#231f20" stroke-width="2.6"/>
<line x1="1776.7" y1="1800.9" x2="1776.7" y2="1773.9" stroke="#231f20" stroke-width="2.6"/>
<line x1="1766.7" y1="1773.9" x2="1786.7" y2="1773.9" stroke="#231f20" stroke-width="2.6"/>
<line x1="1528" y1="1620.2" x2="1528" y2="1917" stroke="#231f20" stroke-width="3.8"/>
<line x1="1526.5" y1="1915.5" x2="1820.5" y2="1915.5" stroke="#231f20" stroke-width="3.8"/>
<line x1="1515.5" y1="1915.5" x2="1528" y2="1915.5" stroke="#231f20" stroke-width="3.8"/>
<line x1="1515.5" y1="1856.7" x2="1528" y2="1856.7" stroke="#231f20" stroke-width="3.8"/>
<line x1="1515.5" y1="1798" x2="1528" y2="1798" stroke="#231f20" stroke-width="3.8"/>
<line x1="1515.5" y1="1739.2" x2="1528" y2="1739.2" stroke="#231f20" stroke-width="3.8"/>
<line x1="1515.5" y1="1680.5" x2="1528" y2="1680.5" stroke="#231f20" stroke-width="3.8"/>
<line x1="1515.5" y1="1621.7" x2="1528" y2="1621.7" stroke="#231f20" stroke-width="3.8"/>
<text x="1509.5" y="1924" font-size="24.5" text-anchor="end">0</text>
<text x="1509.5" y="1865.2" font-size="24.5" text-anchor="end">5</text>
<text x="1509.5" y="1806.5" font-size="24.5" text-anchor="end">10</text>
<text x="1509.5" y="1747.7" font-size="24.5" text-anchor="end">15</text>
<text x="1509.5" y="1689" font-size="24.5" text-anchor="end">20</text>
<text x="1509.5" y="1630.2" font-size="24.5" text-anchor="end">25</text>
<circle cx="1572.7" cy="1774.4" r="6" fill="#231f20"/>
<circle cx="1572.7" cy="1845.2" r="6" fill="#231f20"/>
<circle cx="1572.7" cy="1878.1" r="6" fill="#231f20"/>
<circle cx="1556.2" cy="1885.6" r="6" fill="#231f20"/>
<circle cx="1588.6" cy="1881.6" r="6" fill="#231f20"/>
<circle cx="1627.5" cy="1880.1" r="6" fill="#231f20"/>
<circle cx="1641" cy="1879.1" r="6" fill="#231f20"/>
<circle cx="1656" cy="1879.1" r="6" fill="#231f20"/>
<circle cx="1641" cy="1886.6" r="6" fill="#231f20"/>
<circle cx="1641" cy="1903" r="6" fill="#231f20"/>
<circle cx="1709.3" cy="1749.4" r="6" fill="#231f20"/>
<circle cx="1691.9" cy="1778.4" r="6" fill="#231f20"/>
<circle cx="1725.8" cy="1767.9" r="6" fill="#231f20"/>
<circle cx="1709.3" cy="1856.7" r="6" fill="#231f20"/>
<circle cx="1709.3" cy="1870.1" r="6" fill="#231f20"/>
<circle cx="1776.7" cy="1680.6" r="6" fill="#231f20"/>
<circle cx="1776.7" cy="1771.9" r="6" fill="#231f20"/>
<circle cx="1759.7" cy="1825.2" r="6" fill="#231f20"/>
<circle cx="1776.7" cy="1835.2" r="6" fill="#231f20"/>
<circle cx="1793.1" cy="1830.2" r="6" fill="#231f20"/>
<circle cx="1776.7" cy="1864.1" r="6" fill="#231f20"/>
<line x1="1572.7" y1="1915.5" x2="1572.7" y2="1929" stroke="#231f20" stroke-width="3.8"/>
<text x="1572.7" y="1957" font-size="19.5" text-anchor="middle" font-weight="bold">—</text>
<line x1="1641" y1="1915.5" x2="1641" y2="1929" stroke="#231f20" stroke-width="3.8"/>
<text x="1641" y="1957" font-size="19.5" text-anchor="middle" font-weight="bold">—</text>
<line x1="1708.3" y1="1915.5" x2="1708.3" y2="1929" stroke="#231f20" stroke-width="3.8"/>
<text x="1708.3" y="1959" font-size="24" text-anchor="middle" font-weight="bold">+</text>
<line x1="1776.6" y1="1915.5" x2="1776.6" y2="1929" stroke="#231f20" stroke-width="3.8"/>
<text x="1776.6" y="1959" font-size="24" text-anchor="middle" font-weight="bold">+</text>
<text transform="translate(1477 1839.2) rotate(-90)" font-size="24">CD107a<tspan font-size="15" dy="-10">+</tspan><tspan dy="10"> (%)</tspan></text>
<text x="19.5" y="2112.8" font-size="39" font-weight="bold">e</text>
<text x="72.8" y="2112.8" font-size="28">GPR183 improves CAR T cell in vivo efficacy (Donor 2)</text>
<line x1="138.6" y1="2173" x2="138.6" y2="2525" stroke="#231f20" stroke-width="3.6"/>
<line x1="123.4" y1="2523.4" x2="660.5" y2="2523.4" stroke="#231f20" stroke-width="3.6"/>
<line x1="123.4" y1="2523.4" x2="138.6" y2="2523.4" stroke="#231f20" stroke-width="3.6"/>
<text x="117" y="2532.9" font-size="28" text-anchor="end">0</text>
<line x1="123.4" y1="2436" x2="138.6" y2="2436" stroke="#231f20" stroke-width="3.6"/>
<text x="117" y="2445.5" font-size="28" text-anchor="end">300</text>
<line x1="123.4" y1="2348.9" x2="138.6" y2="2348.9" stroke="#231f20" stroke-width="3.6"/>
<text x="117" y="2358.4" font-size="28" text-anchor="end">600</text>
<line x1="123.4" y1="2262.3" x2="138.6" y2="2262.3" stroke="#231f20" stroke-width="3.6"/>
<text x="117" y="2271.8" font-size="28" text-anchor="end">900</text>
<line x1="123.4" y1="2174.8" x2="138.6" y2="2174.8" stroke="#231f20" stroke-width="3.6"/>
<text x="117" y="2184.3" font-size="28" text-anchor="end">1200</text>
<line x1="159" y1="2523.4" x2="159" y2="2538.6" stroke="#231f20" stroke-width="3.6"/>
<text x="159" y="2569" font-size="27" text-anchor="middle">0</text>
<line x1="202.3" y1="2523.4" x2="202.3" y2="2538.6" stroke="#231f20" stroke-width="3.6"/>
<text x="202.3" y="2569" font-size="27" text-anchor="middle">14</text>
<line x1="246" y1="2523.4" x2="246" y2="2538.6" stroke="#231f20" stroke-width="3.6"/>
<text x="246" y="2569" font-size="27" text-anchor="middle">17</text>
<line x1="290.2" y1="2523.4" x2="290.2" y2="2538.6" stroke="#231f20" stroke-width="3.6"/>
<text x="290.2" y="2569" font-size="27" text-anchor="middle">21</text>
<line x1="333.5" y1="2523.4" x2="333.5" y2="2538.6" stroke="#231f20" stroke-width="3.6"/>
<text x="333.5" y="2569" font-size="27" text-anchor="middle">25</text>
<line x1="377.7" y1="2523.4" x2="377.7" y2="2538.6" stroke="#231f20" stroke-width="3.6"/>
<text x="377.7" y="2569" font-size="27" text-anchor="middle">28</text>
<line x1="421" y1="2523.4" x2="421" y2="2538.6" stroke="#231f20" stroke-width="3.6"/>
<text x="421" y="2569" font-size="27" text-anchor="middle">32</text>
<line x1="464.3" y1="2523.4" x2="464.3" y2="2538.6" stroke="#231f20" stroke-width="3.6"/>
<text x="464.3" y="2569" font-size="27" text-anchor="middle">35</text>
<line x1="507.6" y1="2523.4" x2="507.6" y2="2538.6" stroke="#231f20" stroke-width="3.6"/>
<text x="507.6" y="2569" font-size="27" text-anchor="middle">38</text>
<line x1="551" y1="2523.4" x2="551" y2="2538.6" stroke="#231f20" stroke-width="3.6"/>
<text x="551" y="2569" font-size="27" text-anchor="middle">42</text>
<line x1="595.5" y1="2523.4" x2="595.5" y2="2538.6" stroke="#231f20" stroke-width="3.6"/>
<text x="595.5" y="2569" font-size="27" text-anchor="middle">45</text>
<line x1="638.9" y1="2523.4" x2="638.9" y2="2538.6" stroke="#231f20" stroke-width="3.6"/>
<text x="638.9" y="2569" font-size="27" text-anchor="middle">49</text>
<text x="392.4" y="2599.4" font-size="25.2" text-anchor="middle">Days post tumor engraftment</text>
<text transform="translate(45 2460.6) rotate(-90)" font-size="25">Tumor volume (mm<tspan font-size="15" dy="-10">3</tspan><tspan dy="10">)</tspan></text>
<path d="M159 2522.6 L202.3 2510.4 L246 2506 L290.2 2505.3 L333.5 2510.4 L377.7 2505.3 L421 2492.3 L464.3 2492.3 L507.6 2490.1 L551 2469.3 L595.5 2452 L638.9 2423.8" fill="none" stroke="#16918c" stroke-width="2.6"/>
<path d="M151.5 2528.6 L166.5 2528.6 L159 2515.5 Z" fill="#16918c"/>
<path d="M194.8 2516.4 L209.8 2516.4 L202.3 2503.3 Z" fill="#16918c"/>
<path d="M238.5 2512 L253.5 2512 L246 2498.9 Z" fill="#16918c"/>
<path d="M282.7 2511.3 L297.7 2511.3 L290.2 2498.2 Z" fill="#16918c"/>
<path d="M326 2516.4 L341 2516.4 L333.5 2503.3 Z" fill="#16918c"/>
<path d="M370.2 2511.3 L385.2 2511.3 L377.7 2498.2 Z" fill="#16918c"/>
<path d="M413.5 2498.3 L428.5 2498.3 L421 2485.2 Z" fill="#16918c"/>
<path d="M456.8 2498.3 L471.8 2498.3 L464.3 2485.2 Z" fill="#16918c"/>
<path d="M500.1 2496.1 L515.1 2496.1 L507.6 2483 Z" fill="#16918c"/>
<path d="M543.5 2475.3 L558.5 2475.3 L551 2462.2 Z" fill="#16918c"/>
<path d="M588 2458 L603 2458 L595.5 2444.9 Z" fill="#16918c"/>
<path d="M631.4 2429.8 L646.4 2429.8 L638.9 2416.7 Z" fill="#16918c"/>
<line x1="638.9" y1="2410.8" x2="638.9" y2="2436" stroke="#16918c" stroke-width="2.2"/>
<line x1="631.9" y1="2410.8" x2="645.9" y2="2410.8" stroke="#16918c" stroke-width="2.2"/>
<line x1="631.9" y1="2436" x2="645.9" y2="2436" stroke="#16918c" stroke-width="2.2"/>
<line x1="595.5" y1="2444" x2="595.5" y2="2458.5" stroke="#16918c" stroke-width="2.2"/>
<line x1="588.5" y1="2444" x2="602.5" y2="2444" stroke="#16918c" stroke-width="2.2"/>
<line x1="588.5" y1="2458.5" x2="602.5" y2="2458.5" stroke="#16918c" stroke-width="2.2"/>
<path d="M159 2522.6 L202.3 2506 L246 2501.8 L290.2 2499.6 L333.5 2500.5 L377.7 2485.8 L421 2469.3 L464.3 2457.6 L507.6 2428.2 L551 2393.5 L595.5 2344.6 L638.9 2276.6" fill="none" stroke="#231f20" stroke-width="2.6"/>
<path d="M151.5 2516.6 L166.5 2516.6 L159 2529.7 Z" fill="#231f20"/>
<path d="M194.8 2500 L209.8 2500 L202.3 2513.1 Z" fill="#231f20"/>
<path d="M238.5 2495.8 L253.5 2495.8 L246 2508.9 Z" fill="#231f20"/>
<path d="M282.7 2493.6 L297.7 2493.6 L290.2 2506.7 Z" fill="#231f20"/>
<path d="M326 2494.5 L341 2494.5 L333.5 2507.6 Z" fill="#231f20"/>
<path d="M370.2 2479.8 L385.2 2479.8 L377.7 2492.9 Z" fill="#231f20"/>
<path d="M413.5 2463.3 L428.5 2463.3 L421 2476.4 Z" fill="#231f20"/>
<path d="M456.8 2451.6 L471.8 2451.6 L464.3 2464.7 Z" fill="#231f20"/>
<path d="M500.1 2422.2 L515.1 2422.2 L507.6 2435.3 Z" fill="#231f20"/>
<path d="M543.5 2387.5 L558.5 2387.5 L551 2400.6 Z" fill="#231f20"/>
<path d="M588 2338.6 L603 2338.6 L595.5 2351.7 Z" fill="#231f20"/>
<path d="M631.4 2270.6 L646.4 2270.6 L638.9 2283.7 Z" fill="#231f20"/>
<line x1="638.9" y1="2260.5" x2="638.9" y2="2293.9" stroke="#231f20" stroke-width="2.2"/>
<line x1="631.9" y1="2260.5" x2="645.9" y2="2260.5" stroke="#231f20" stroke-width="2.2"/>
<line x1="631.9" y1="2293.9" x2="645.9" y2="2293.9" stroke="#231f20" stroke-width="2.2"/>
<line x1="595.5" y1="2335.9" x2="595.5" y2="2353.2" stroke="#231f20" stroke-width="2.2"/>
<line x1="588.5" y1="2335.9" x2="602.5" y2="2335.9" stroke="#231f20" stroke-width="2.2"/>
<line x1="588.5" y1="2353.2" x2="602.5" y2="2353.2" stroke="#231f20" stroke-width="2.2"/>
<line x1="551" y1="2387" x2="551" y2="2403" stroke="#231f20" stroke-width="2.2"/>
<line x1="544" y1="2387" x2="558" y2="2387" stroke="#231f20" stroke-width="2.2"/>
<line x1="544" y1="2403" x2="558" y2="2403" stroke="#231f20" stroke-width="2.2"/>
<line x1="161.6" y1="2192" x2="200" y2="2192" stroke="#231f20" stroke-width="2.4"/>
<path d="M173.5 2186 L188.5 2186 L181 2199.1 Z" fill="#231f20"/>
<text x="206.6" y="2203" font-size="24">Control-CAR T  (n=6)</text>
<line x1="161.6" y1="2232" x2="200" y2="2232" stroke="#16918c" stroke-width="2.4"/>
<path d="M173.5 2238 L188.5 2238 L181 2224.9 Z" fill="#16918c"/>
<text x="206.6" y="2238.5" font-size="24">GPR183<tspan font-size="14" dy="-10">OE</tspan><tspan dy="10">-CAR T  (n=7)</tspan></text>
<path d="M481.6 2197.7 L509.8 2197.7 L509.8 2231 L481.6 2231" fill="none" stroke="#231f20" stroke-width="2"/>
<text x="519.8" y="2224.6" font-size="22">P &lt; 0.0001</text>
<line x1="766.4" y1="2151.1" x2="766.4" y2="2374.7" stroke="#231f20" stroke-width="3.8"/>
<line x1="757.4" y1="2373.2" x2="1095.7" y2="2373.2" stroke="#231f20" stroke-width="3.8"/>
<line x1="757.4" y1="2373.2" x2="766.4" y2="2373.2" stroke="#231f20" stroke-width="3"/>
<text x="754.4" y="2379.7" font-size="18.5" text-anchor="end">0</text>
<line x1="757.4" y1="2317.9" x2="766.4" y2="2317.9" stroke="#231f20" stroke-width="3"/>
<text x="754.4" y="2324.4" font-size="18.5" text-anchor="end">300</text>
<line x1="757.4" y1="2262.6" x2="766.4" y2="2262.6" stroke="#231f20" stroke-width="3"/>
<text x="754.4" y="2269.1" font-size="18.5" text-anchor="end">600</text>
<line x1="757.4" y1="2207.4" x2="766.4" y2="2207.4" stroke="#231f20" stroke-width="3"/>
<text x="754.4" y="2213.9" font-size="18.5" text-anchor="end">900</text>
<line x1="757.4" y1="2152.1" x2="766.4" y2="2152.1" stroke="#231f20" stroke-width="3"/>
<text x="754.4" y="2158.6" font-size="18.5" text-anchor="end">1200</text>
<line x1="779.2" y1="2373.2" x2="779.2" y2="2383.2" stroke="#231f20" stroke-width="3"/>
<line x1="806.7" y1="2373.2" x2="806.7" y2="2383.2" stroke="#231f20" stroke-width="3"/>
<line x1="834.2" y1="2373.2" x2="834.2" y2="2383.2" stroke="#231f20" stroke-width="3"/>
<line x1="861.8" y1="2373.2" x2="861.8" y2="2383.2" stroke="#231f20" stroke-width="3"/>
<line x1="889.3" y1="2373.2" x2="889.3" y2="2383.2" stroke="#231f20" stroke-width="3"/>
<line x1="916.8" y1="2373.2" x2="916.8" y2="2383.2" stroke="#231f20" stroke-width="3"/>
<line x1="944.3" y1="2373.2" x2="944.3" y2="2383.2" stroke="#231f20" stroke-width="3"/>
<line x1="971.8" y1="2373.2" x2="971.8" y2="2383.2" stroke="#231f20" stroke-width="3"/>
<line x1="999.4" y1="2373.2" x2="999.4" y2="2383.2" stroke="#231f20" stroke-width="3"/>
<line x1="1026.9" y1="2373.2" x2="1026.9" y2="2383.2" stroke="#231f20" stroke-width="3"/>
<line x1="1054.4" y1="2373.2" x2="1054.4" y2="2383.2" stroke="#231f20" stroke-width="3"/>
<line x1="1081.9" y1="2373.2" x2="1081.9" y2="2383.2" stroke="#231f20" stroke-width="3"/>
<path d="M779.2 2373.2 L806.7 2362.1 L834.2 2359.4 L861.8 2357.5 L889.3 2358.5 L916.8 2343.7 L944.3 2335.4 L971.8 2324.4 L999.4 2295.8 L1026.9 2279.2 L1054.4 2244.2 L1081.9 2174.2" fill="none" stroke="#231f20" stroke-width="2.2"/>
<path d="M773.7 2368.8 L784.7 2368.8 L779.2 2378.4 Z" fill="#231f20"/>
<path d="M801.2 2357.7 L812.2 2357.7 L806.7 2367.4 Z" fill="#231f20"/>
<path d="M828.7 2355 L839.7 2355 L834.2 2364.6 Z" fill="#231f20"/>
<path d="M856.3 2353.1 L867.3 2353.1 L861.8 2362.8 Z" fill="#231f20"/>
<path d="M883.8 2354.1 L894.8 2354.1 L889.3 2363.7 Z" fill="#231f20"/>
<path d="M911.3 2339.3 L922.3 2339.3 L916.8 2348.9 Z" fill="#231f20"/>
<path d="M938.8 2331 L949.8 2331 L944.3 2340.7 Z" fill="#231f20"/>
<path d="M966.3 2320 L977.3 2320 L971.8 2329.6 Z" fill="#231f20"/>
<path d="M993.9 2291.4 L1004.9 2291.4 L999.4 2301 Z" fill="#231f20"/>
<path d="M1021.4 2274.8 L1032.4 2274.8 L1026.9 2284.5 Z" fill="#231f20"/>
<path d="M1048.9 2239.8 L1059.9 2239.8 L1054.4 2249.4 Z" fill="#231f20"/>
<path d="M1076.4 2169.8 L1087.4 2169.8 L1081.9 2179.4 Z" fill="#231f20"/>
<path d="M779.2 2373.2 L806.7 2364 L834.2 2360.3 L861.8 2356.6 L889.3 2355.7 L916.8 2347.4 L944.3 2336.3 L971.8 2327.1 L999.4 2310.6 L1026.9 2284.8 L1054.4 2255.3 L1081.9 2201.8" fill="none" stroke="#231f20" stroke-width="2.2"/>
<path d="M773.7 2368.8 L784.7 2368.8 L779.2 2378.4 Z" fill="#231f20"/>
<path d="M801.2 2359.6 L812.2 2359.6 L806.7 2369.2 Z" fill="#231f20"/>
<path d="M828.7 2355.9 L839.7 2355.9 L834.2 2365.5 Z" fill="#231f20"/>
<path d="M856.3 2352.2 L867.3 2352.2 L861.8 2361.8 Z" fill="#231f20"/>
<path d="M883.8 2351.3 L894.8 2351.3 L889.3 2360.9 Z" fill="#231f20"/>
<path d="M911.3 2343 L922.3 2343 L916.8 2352.6 Z" fill="#231f20"/>
<path d="M938.8 2331.9 L949.8 2331.9 L944.3 2341.6 Z" fill="#231f20"/>
<path d="M966.3 2322.7 L977.3 2322.7 L971.8 2332.4 Z" fill="#231f20"/>
<path d="M993.9 2306.2 L1004.9 2306.2 L999.4 2315.8 Z" fill="#231f20"/>
<path d="M1021.4 2280.4 L1032.4 2280.4 L1026.9 2290 Z" fill="#231f20"/>
<path d="M1048.9 2250.9 L1059.9 2250.9 L1054.4 2260.5 Z" fill="#231f20"/>
<path d="M1076.4 2197.4 L1087.4 2197.4 L1081.9 2207.1 Z" fill="#231f20"/>
<path d="M779.2 2373.2 L806.7 2365.8 L834.2 2361.2 L861.8 2358.5 L889.3 2360.3 L916.8 2351.1 L944.3 2340 L971.8 2330.8 L999.4 2314.2 L1026.9 2288.4 L1054.4 2260.8 L1081.9 2207.4" fill="none" stroke="#231f20" stroke-width="2.2"/>
<path d="M773.7 2368.8 L784.7 2368.8 L779.2 2378.4 Z" fill="#231f20"/>
<path d="M801.2 2361.4 L812.2 2361.4 L806.7 2371.1 Z" fill="#231f20"/>
<path d="M828.7 2356.8 L839.7 2356.8 L834.2 2366.4 Z" fill="#231f20"/>
<path d="M856.3 2354.1 L867.3 2354.1 L861.8 2363.7 Z" fill="#231f20"/>
<path d="M883.8 2355.9 L894.8 2355.9 L889.3 2365.5 Z" fill="#231f20"/>
<path d="M911.3 2346.7 L922.3 2346.7 L916.8 2356.3 Z" fill="#231f20"/>
<path d="M938.8 2335.6 L949.8 2335.6 L944.3 2345.3 Z" fill="#231f20"/>
<path d="M966.3 2326.4 L977.3 2326.4 L971.8 2336 Z" fill="#231f20"/>
<path d="M993.9 2309.8 L1004.9 2309.8 L999.4 2319.5 Z" fill="#231f20"/>
<path d="M1021.4 2284 L1032.4 2284 L1026.9 2293.7 Z" fill="#231f20"/>
<path d="M1048.9 2256.4 L1059.9 2256.4 L1054.4 2266 Z" fill="#231f20"/>
<path d="M1076.4 2203 L1087.4 2203 L1081.9 2212.6 Z" fill="#231f20"/>
<path d="M779.2 2373.2 L806.7 2367.7 L834.2 2362.1 L861.8 2359.4 L889.3 2362.1 L916.8 2354.8 L944.3 2341.9 L971.8 2334.5 L999.4 2317.9 L1026.9 2306.9 L1054.4 2270 L1081.9 2229.5" fill="none" stroke="#231f20" stroke-width="2.2"/>
<path d="M773.7 2368.8 L784.7 2368.8 L779.2 2378.4 Z" fill="#231f20"/>
<path d="M801.2 2363.3 L812.2 2363.3 L806.7 2372.9 Z" fill="#231f20"/>
<path d="M828.7 2357.7 L839.7 2357.7 L834.2 2367.4 Z" fill="#231f20"/>
<path d="M856.3 2355 L867.3 2355 L861.8 2364.6 Z" fill="#231f20"/>
<path d="M883.8 2357.7 L894.8 2357.7 L889.3 2367.4 Z" fill="#231f20"/>
<path d="M911.3 2350.4 L922.3 2350.4 L916.8 2360 Z" fill="#231f20"/>
<path d="M938.8 2337.5 L949.8 2337.5 L944.3 2347.1 Z" fill="#231f20"/>
<path d="M966.3 2330.1 L977.3 2330.1 L971.8 2339.7 Z" fill="#231f20"/>
<path d="M993.9 2313.5 L1004.9 2313.5 L999.4 2323.1 Z" fill="#231f20"/>
<path d="M1021.4 2302.5 L1032.4 2302.5 L1026.9 2312.1 Z" fill="#231f20"/>
<path d="M1048.9 2265.6 L1059.9 2265.6 L1054.4 2275.2 Z" fill="#231f20"/>
<path d="M1076.4 2225.1 L1087.4 2225.1 L1081.9 2234.7 Z" fill="#231f20"/>
<path d="M779.2 2373.2 L806.7 2363.1 L834.2 2360.3 L861.8 2358.5 L889.3 2363.1 L916.8 2352.9 L944.3 2342.8 L971.8 2337.3 L999.4 2319.8 L1026.9 2292.1 L1054.4 2277.4 L1081.9 2236.9" fill="none" stroke="#231f20" stroke-width="2.2"/>
<path d="M773.7 2368.8 L784.7 2368.8 L779.2 2378.4 Z" fill="#231f20"/>
<path d="M801.2 2358.7 L812.2 2358.7 L806.7 2368.3 Z" fill="#231f20"/>
<path d="M828.7 2355.9 L839.7 2355.9 L834.2 2365.5 Z" fill="#231f20"/>
<path d="M856.3 2354.1 L867.3 2354.1 L861.8 2363.7 Z" fill="#231f20"/>
<path d="M883.8 2358.7 L894.8 2358.7 L889.3 2368.3 Z" fill="#231f20"/>
<path d="M911.3 2348.5 L922.3 2348.5 L916.8 2358.2 Z" fill="#231f20"/>
<path d="M938.8 2338.4 L949.8 2338.4 L944.3 2348 Z" fill="#231f20"/>
<path d="M966.3 2332.9 L977.3 2332.9 L971.8 2342.5 Z" fill="#231f20"/>
<path d="M993.9 2315.4 L1004.9 2315.4 L999.4 2325 Z" fill="#231f20"/>
<path d="M1021.4 2287.7 L1032.4 2287.7 L1026.9 2297.4 Z" fill="#231f20"/>
<path d="M1048.9 2273 L1059.9 2273 L1054.4 2282.6 Z" fill="#231f20"/>
<path d="M1076.4 2232.5 L1087.4 2232.5 L1081.9 2242.1 Z" fill="#231f20"/>
<path d="M779.2 2373.2 L806.7 2364.9 L834.2 2361.2 L861.8 2357.5 L889.3 2357.5 L916.8 2349.2 L944.3 2338.2 L971.8 2329 L999.4 2316.1 L1026.9 2286.6 L1054.4 2262.6 L1081.9 2244.2" fill="none" stroke="#231f20" stroke-width="2.2"/>
<path d="M773.7 2368.8 L784.7 2368.8 L779.2 2378.4 Z" fill="#231f20"/>
<path d="M801.2 2360.5 L812.2 2360.5 L806.7 2370.1 Z" fill="#231f20"/>
<path d="M828.7 2356.8 L839.7 2356.8 L834.2 2366.4 Z" fill="#231f20"/>
<path d="M856.3 2353.1 L867.3 2353.1 L861.8 2362.8 Z" fill="#231f20"/>
<path d="M883.8 2353.1 L894.8 2353.1 L889.3 2362.8 Z" fill="#231f20"/>
<path d="M911.3 2344.8 L922.3 2344.8 L916.8 2354.5 Z" fill="#231f20"/>
<path d="M938.8 2333.8 L949.8 2333.8 L944.3 2343.4 Z" fill="#231f20"/>
<path d="M966.3 2324.6 L977.3 2324.6 L971.8 2334.2 Z" fill="#231f20"/>
<path d="M993.9 2311.7 L1004.9 2311.7 L999.4 2321.3 Z" fill="#231f20"/>
<path d="M1021.4 2282.2 L1032.4 2282.2 L1026.9 2291.8 Z" fill="#231f20"/>
<path d="M1048.9 2258.2 L1059.9 2258.2 L1054.4 2267.9 Z" fill="#231f20"/>
<path d="M1076.4 2239.8 L1087.4 2239.8 L1081.9 2249.4 Z" fill="#231f20"/>
<text x="779.2" y="2402.8" font-size="18" text-anchor="middle">0</text>
<text x="806.7" y="2402.8" font-size="18" text-anchor="middle">14</text>
<text x="834.2" y="2402.8" font-size="18" text-anchor="middle">17</text>
<text x="861.8" y="2402.8" font-size="18" text-anchor="middle">21</text>
<text x="889.3" y="2402.8" font-size="18" text-anchor="middle">25</text>
<text x="916.8" y="2402.8" font-size="18" text-anchor="middle">28</text>
<text x="944.3" y="2402.8" font-size="18" text-anchor="middle">32</text>
<text x="971.8" y="2402.8" font-size="18" text-anchor="middle">35</text>
<text x="999.4" y="2402.8" font-size="18" text-anchor="middle">38</text>
<text x="1026.9" y="2402.8" font-size="18" text-anchor="middle">42</text>
<text x="1054.4" y="2402.8" font-size="18" text-anchor="middle">45</text>
<text x="1081.9" y="2402.8" font-size="18" text-anchor="middle">49</text>
<text transform="translate(699 2347.8) rotate(-90)" font-size="20.5" textLength="201" lengthAdjust="spacingAndGlyphs">Tumor volume (mm<tspan font-size="12" dy="-8">3</tspan><tspan dy="8">)</tspan></text>
<line x1="760.9" y1="2407" x2="760.9" y2="2617.4" stroke="#231f20" stroke-width="3.8"/>
<line x1="751.9" y1="2615.9" x2="1121.7" y2="2615.9" stroke="#231f20" stroke-width="3.8"/>
<line x1="751.9" y1="2615.9" x2="760.9" y2="2615.9" stroke="#231f20" stroke-width="3"/>
<text x="748.9" y="2622.4" font-size="18.5" text-anchor="end">0</text>
<line x1="751.9" y1="2563.9" x2="760.9" y2="2563.9" stroke="#231f20" stroke-width="3"/>
<text x="748.9" y="2570.4" font-size="18.5" text-anchor="end">300</text>
<line x1="751.9" y1="2511.9" x2="760.9" y2="2511.9" stroke="#231f20" stroke-width="3"/>
<text x="748.9" y="2518.4" font-size="18.5" text-anchor="end">600</text>
<line x1="751.9" y1="2460" x2="760.9" y2="2460" stroke="#231f20" stroke-width="3"/>
<text x="748.9" y="2466.5" font-size="18.5" text-anchor="end">900</text>
<line x1="751.9" y1="2408" x2="760.9" y2="2408" stroke="#231f20" stroke-width="3"/>
<text x="748.9" y="2414.5" font-size="18.5" text-anchor="end">1200</text>
<line x1="779.2" y1="2615.9" x2="779.2" y2="2625.9" stroke="#231f20" stroke-width="3"/>
<line x1="809" y1="2615.9" x2="809" y2="2625.9" stroke="#231f20" stroke-width="3"/>
<line x1="838.8" y1="2615.9" x2="838.8" y2="2625.9" stroke="#231f20" stroke-width="3"/>
<line x1="868.6" y1="2615.9" x2="868.6" y2="2625.9" stroke="#231f20" stroke-width="3"/>
<line x1="898.4" y1="2615.9" x2="898.4" y2="2625.9" stroke="#231f20" stroke-width="3"/>
<line x1="928.2" y1="2615.9" x2="928.2" y2="2625.9" stroke="#231f20" stroke-width="3"/>
<line x1="958" y1="2615.9" x2="958" y2="2625.9" stroke="#231f20" stroke-width="3"/>
<line x1="987.8" y1="2615.9" x2="987.8" y2="2625.9" stroke="#231f20" stroke-width="3"/>
<line x1="1017.6" y1="2615.9" x2="1017.6" y2="2625.9" stroke="#231f20" stroke-width="3"/>
<line x1="1047.4" y1="2615.9" x2="1047.4" y2="2625.9" stroke="#231f20" stroke-width="3"/>
<line x1="1077.2" y1="2615.9" x2="1077.2" y2="2625.9" stroke="#231f20" stroke-width="3"/>
<line x1="1107" y1="2615.9" x2="1107" y2="2625.9" stroke="#231f20" stroke-width="3"/>
<path d="M779.2 2615.9 L809 2603.8 L838.8 2603.8 L868.6 2602.9 L898.4 2603.8 L928.2 2602 L958 2589.9 L987.8 2591.6 L1017.6 2591.6 L1047.4 2570.9 L1077.2 2551.8 L1107 2532.7" fill="none" stroke="#16918c" stroke-width="2.2"/>
<path d="M773.7 2620.3 L784.7 2620.3 L779.2 2610.7 Z" fill="#16918c"/>
<path d="M803.5 2608.2 L814.5 2608.2 L809 2598.5 Z" fill="#16918c"/>
<path d="M833.3 2608.2 L844.3 2608.2 L838.8 2598.5 Z" fill="#16918c"/>
<path d="M863.1 2607.3 L874.1 2607.3 L868.6 2597.7 Z" fill="#16918c"/>
<path d="M892.9 2608.2 L903.9 2608.2 L898.4 2598.5 Z" fill="#16918c"/>
<path d="M922.7 2606.4 L933.7 2606.4 L928.2 2596.8 Z" fill="#16918c"/>
<path d="M952.5 2594.3 L963.5 2594.3 L958 2584.7 Z" fill="#16918c"/>
<path d="M982.3 2596 L993.3 2596 L987.8 2586.4 Z" fill="#16918c"/>
<path d="M1012.1 2596 L1023.1 2596 L1017.6 2586.4 Z" fill="#16918c"/>
<path d="M1041.9 2575.3 L1052.9 2575.3 L1047.4 2565.6 Z" fill="#16918c"/>
<path d="M1071.7 2556.2 L1082.7 2556.2 L1077.2 2546.6 Z" fill="#16918c"/>
<path d="M1101.5 2537.1 L1112.5 2537.1 L1107 2527.5 Z" fill="#16918c"/>
<path d="M779.2 2615.9 L809 2605.5 L838.8 2605.5 L868.6 2604.6 L898.4 2605.5 L928.2 2603.8 L958 2593.4 L987.8 2595.1 L1017.6 2593.4 L1047.4 2572.6 L1077.2 2569.1 L1107 2543.1" fill="none" stroke="#16918c" stroke-width="2.2"/>
<path d="M773.7 2620.3 L784.7 2620.3 L779.2 2610.7 Z" fill="#16918c"/>
<path d="M803.5 2609.9 L814.5 2609.9 L809 2600.3 Z" fill="#16918c"/>
<path d="M833.3 2609.9 L844.3 2609.9 L838.8 2600.3 Z" fill="#16918c"/>
<path d="M863.1 2609 L874.1 2609 L868.6 2599.4 Z" fill="#16918c"/>
<path d="M892.9 2609.9 L903.9 2609.9 L898.4 2600.3 Z" fill="#16918c"/>
<path d="M922.7 2608.2 L933.7 2608.2 L928.2 2598.5 Z" fill="#16918c"/>
<path d="M952.5 2597.8 L963.5 2597.8 L958 2588.2 Z" fill="#16918c"/>
<path d="M982.3 2599.5 L993.3 2599.5 L987.8 2589.9 Z" fill="#16918c"/>
<path d="M1012.1 2597.8 L1023.1 2597.8 L1017.6 2588.2 Z" fill="#16918c"/>
<path d="M1041.9 2577 L1052.9 2577 L1047.4 2567.4 Z" fill="#16918c"/>
<path d="M1071.7 2573.5 L1082.7 2573.5 L1077.2 2563.9 Z" fill="#16918c"/>
<path d="M1101.5 2547.5 L1112.5 2547.5 L1107 2537.9 Z" fill="#16918c"/>
<path d="M779.2 2615.9 L809 2607.2 L838.8 2606.4 L868.6 2605.5 L898.4 2607.2 L928.2 2605.5 L958 2596.8 L987.8 2598.6 L1017.6 2596.8 L1047.4 2581.2 L1077.2 2570.9 L1107 2550.1" fill="none" stroke="#16918c" stroke-width="2.2"/>
<path d="M773.7 2620.3 L784.7 2620.3 L779.2 2610.7 Z" fill="#16918c"/>
<path d="M803.5 2611.6 L814.5 2611.6 L809 2602 Z" fill="#16918c"/>
<path d="M833.3 2610.8 L844.3 2610.8 L838.8 2601.1 Z" fill="#16918c"/>
<path d="M863.1 2609.9 L874.1 2609.9 L868.6 2600.3 Z" fill="#16918c"/>
<path d="M892.9 2611.6 L903.9 2611.6 L898.4 2602 Z" fill="#16918c"/>
<path d="M922.7 2609.9 L933.7 2609.9 L928.2 2600.3 Z" fill="#16918c"/>
<path d="M952.5 2601.2 L963.5 2601.2 L958 2591.6 Z" fill="#16918c"/>
<path d="M982.3 2603 L993.3 2603 L987.8 2593.4 Z" fill="#16918c"/>
<path d="M1012.1 2601.2 L1023.1 2601.2 L1017.6 2591.6 Z" fill="#16918c"/>
<path d="M1041.9 2585.7 L1052.9 2585.7 L1047.4 2576 Z" fill="#16918c"/>
<path d="M1071.7 2575.3 L1082.7 2575.3 L1077.2 2565.6 Z" fill="#16918c"/>
<path d="M1101.5 2554.5 L1112.5 2554.5 L1107 2544.8 Z" fill="#16918c"/>
<path d="M779.2 2615.9 L809 2609 L838.8 2608.1 L868.6 2607.2 L898.4 2609.8 L928.2 2608.1 L958 2600.3 L987.8 2600.3 L1017.6 2598.6 L1047.4 2586.4 L1077.2 2572.6 L1107 2558.7" fill="none" stroke="#16918c" stroke-width="2.2"/>
<path d="M773.7 2620.3 L784.7 2620.3 L779.2 2610.7 Z" fill="#16918c"/>
<path d="M803.5 2613.4 L814.5 2613.4 L809 2603.7 Z" fill="#16918c"/>
<path d="M833.3 2612.5 L844.3 2612.5 L838.8 2602.9 Z" fill="#16918c"/>
<path d="M863.1 2611.6 L874.1 2611.6 L868.6 2602 Z" fill="#16918c"/>
<path d="M892.9 2614.2 L903.9 2614.2 L898.4 2604.6 Z" fill="#16918c"/>
<path d="M922.7 2612.5 L933.7 2612.5 L928.2 2602.9 Z" fill="#16918c"/>
<path d="M952.5 2604.7 L963.5 2604.7 L958 2595.1 Z" fill="#16918c"/>
<path d="M982.3 2604.7 L993.3 2604.7 L987.8 2595.1 Z" fill="#16918c"/>
<path d="M1012.1 2603 L1023.1 2603 L1017.6 2593.4 Z" fill="#16918c"/>
<path d="M1041.9 2590.8 L1052.9 2590.8 L1047.4 2581.2 Z" fill="#16918c"/>
<path d="M1071.7 2577 L1082.7 2577 L1077.2 2567.4 Z" fill="#16918c"/>
<path d="M1101.5 2563.1 L1112.5 2563.1 L1107 2553.5 Z" fill="#16918c"/>
<path d="M779.2 2615.9 L809 2610.7 L838.8 2609.8 L868.6 2609 L898.4 2611.6 L928.2 2609.8 L958 2603.8 L987.8 2603.8 L1017.6 2599.4 L1047.4 2593.4 L1077.2 2586.4 L1107 2574.3" fill="none" stroke="#16918c" stroke-width="2.2"/>
<path d="M773.7 2620.3 L784.7 2620.3 L779.2 2610.7 Z" fill="#16918c"/>
<path d="M803.5 2615.1 L814.5 2615.1 L809 2605.5 Z" fill="#16918c"/>
<path d="M833.3 2614.2 L844.3 2614.2 L838.8 2604.6 Z" fill="#16918c"/>
<path d="M863.1 2613.4 L874.1 2613.4 L868.6 2603.7 Z" fill="#16918c"/>
<path d="M892.9 2616 L903.9 2616 L898.4 2606.3 Z" fill="#16918c"/>
<path d="M922.7 2614.2 L933.7 2614.2 L928.2 2604.6 Z" fill="#16918c"/>
<path d="M952.5 2608.2 L963.5 2608.2 L958 2598.5 Z" fill="#16918c"/>
<path d="M982.3 2608.2 L993.3 2608.2 L987.8 2598.5 Z" fill="#16918c"/>
<path d="M1012.1 2603.8 L1023.1 2603.8 L1017.6 2594.2 Z" fill="#16918c"/>
<path d="M1041.9 2597.8 L1052.9 2597.8 L1047.4 2588.2 Z" fill="#16918c"/>
<path d="M1071.7 2590.8 L1082.7 2590.8 L1077.2 2581.2 Z" fill="#16918c"/>
<path d="M1101.5 2578.7 L1112.5 2578.7 L1107 2569.1 Z" fill="#16918c"/>
<path d="M779.2 2615.9 L809 2611.6 L838.8 2610.7 L868.6 2609.8 L898.4 2612.4 L928.2 2610.7 L958 2605.5 L987.8 2606.4 L1017.6 2600.3 L1047.4 2595.1 L1077.2 2588.2 L1107 2589.9" fill="none" stroke="#16918c" stroke-width="2.2"/>
<path d="M773.7 2620.3 L784.7 2620.3 L779.2 2610.7 Z" fill="#16918c"/>
<path d="M803.5 2616 L814.5 2616 L809 2606.3 Z" fill="#16918c"/>
<path d="M833.3 2615.1 L844.3 2615.1 L838.8 2605.5 Z" fill="#16918c"/>
<path d="M863.1 2614.2 L874.1 2614.2 L868.6 2604.6 Z" fill="#16918c"/>
<path d="M892.9 2616.8 L903.9 2616.8 L898.4 2607.2 Z" fill="#16918c"/>
<path d="M922.7 2615.1 L933.7 2615.1 L928.2 2605.5 Z" fill="#16918c"/>
<path d="M952.5 2609.9 L963.5 2609.9 L958 2600.3 Z" fill="#16918c"/>
<path d="M982.3 2610.8 L993.3 2610.8 L987.8 2601.1 Z" fill="#16918c"/>
<path d="M1012.1 2604.7 L1023.1 2604.7 L1017.6 2595.1 Z" fill="#16918c"/>
<path d="M1041.9 2599.5 L1052.9 2599.5 L1047.4 2589.9 Z" fill="#16918c"/>
<path d="M1071.7 2592.6 L1082.7 2592.6 L1077.2 2583 Z" fill="#16918c"/>
<path d="M1101.5 2594.3 L1112.5 2594.3 L1107 2584.7 Z" fill="#16918c"/>
<path d="M779.2 2615.9 L809 2612.4 L838.8 2611.6 L868.6 2610.7 L898.4 2613.3 L928.2 2611.6 L958 2606.4 L987.8 2607.2 L1017.6 2601.2 L1047.4 2600.3 L1077.2 2589.9 L1107 2589.9" fill="none" stroke="#16918c" stroke-width="2.2"/>
<path d="M773.7 2620.3 L784.7 2620.3 L779.2 2610.7 Z" fill="#16918c"/>
<path d="M803.5 2616.8 L814.5 2616.8 L809 2607.2 Z" fill="#16918c"/>
<path d="M833.3 2616 L844.3 2616 L838.8 2606.3 Z" fill="#16918c"/>
<path d="M863.1 2615.1 L874.1 2615.1 L868.6 2605.5 Z" fill="#16918c"/>
<path d="M892.9 2617.7 L903.9 2617.7 L898.4 2608.1 Z" fill="#16918c"/>
<path d="M922.7 2616 L933.7 2616 L928.2 2606.3 Z" fill="#16918c"/>
<path d="M952.5 2610.8 L963.5 2610.8 L958 2601.1 Z" fill="#16918c"/>
<path d="M982.3 2611.6 L993.3 2611.6 L987.8 2602 Z" fill="#16918c"/>
<path d="M1012.1 2605.6 L1023.1 2605.6 L1017.6 2595.9 Z" fill="#16918c"/>
<path d="M1041.9 2604.7 L1052.9 2604.7 L1047.4 2595.1 Z" fill="#16918c"/>
<path d="M1071.7 2594.3 L1082.7 2594.3 L1077.2 2584.7 Z" fill="#16918c"/>
<path d="M1101.5 2594.3 L1112.5 2594.3 L1107 2584.7 Z" fill="#16918c"/>
<text x="779.2" y="2643.4" font-size="18" text-anchor="middle">0</text>
<text x="809" y="2643.4" font-size="18" text-anchor="middle">14</text>
<text x="838.8" y="2643.4" font-size="18" text-anchor="middle">17</text>
<text x="868.6" y="2643.4" font-size="18" text-anchor="middle">21</text>
<text x="898.4" y="2643.4" font-size="18" text-anchor="middle">25</text>
<text x="928.2" y="2643.4" font-size="18" text-anchor="middle">28</text>
<text x="958" y="2643.4" font-size="18" text-anchor="middle">32</text>
<text x="987.8" y="2643.4" font-size="18" text-anchor="middle">35</text>
<text x="1017.6" y="2643.4" font-size="18" text-anchor="middle">38</text>
<text x="1047.4" y="2643.4" font-size="18" text-anchor="middle">42</text>
<text x="1077.2" y="2643.4" font-size="18" text-anchor="middle">45</text>
<text x="1107" y="2643.4" font-size="18" text-anchor="middle">49</text>
<text transform="translate(699 2600) rotate(-90)" font-size="20.5" textLength="194" lengthAdjust="spacingAndGlyphs">Tumor volume (mm<tspan font-size="12" dy="-8">3</tspan><tspan dy="8">)</tspan></text>
<text x="934.4" y="2676.4" font-size="21.8" text-anchor="middle">Days post tumor engraftment</text>
<line x1="1258.8" y1="2174.2" x2="1258.8" y2="2528.3" stroke="#231f20" stroke-width="3.6"/>
<line x1="1243.5" y1="2526.8" x2="1786.9" y2="2526.8" stroke="#231f20" stroke-width="3.6"/>
<line x1="1243.5" y1="2526.8" x2="1258.8" y2="2526.8" stroke="#231f20" stroke-width="3.6"/>
<text x="1237.9" y="2535.8" font-size="24" text-anchor="end">0</text>
<line x1="1243.5" y1="2456.6" x2="1258.8" y2="2456.6" stroke="#231f20" stroke-width="3.6"/>
<text x="1237.9" y="2465.6" font-size="24" text-anchor="end">20</text>
<line x1="1243.5" y1="2386.4" x2="1258.8" y2="2386.4" stroke="#231f20" stroke-width="3.6"/>
<text x="1237.9" y="2395.4" font-size="24" text-anchor="end">40</text>
<line x1="1243.5" y1="2316.1" x2="1258.8" y2="2316.1" stroke="#231f20" stroke-width="3.6"/>
<text x="1237.9" y="2325.1" font-size="24" text-anchor="end">60</text>
<line x1="1243.5" y1="2245.9" x2="1258.8" y2="2245.9" stroke="#231f20" stroke-width="3.6"/>
<text x="1237.9" y="2254.9" font-size="24" text-anchor="end">80</text>
<line x1="1243.5" y1="2175.7" x2="1258.8" y2="2175.7" stroke="#231f20" stroke-width="3.6"/>
<text x="1237.9" y="2184.7" font-size="24" text-anchor="end">100</text>
<line x1="1258.8" y1="2526.8" x2="1258.8" y2="2541" stroke="#231f20" stroke-width="3.6"/>
<text x="1258.8" y="2570.3" font-size="24" text-anchor="middle">0</text>
<line x1="1390.3" y1="2526.8" x2="1390.3" y2="2541" stroke="#231f20" stroke-width="3.6"/>
<text x="1390.3" y="2570.3" font-size="24" text-anchor="middle">20</text>
<line x1="1521.9" y1="2526.8" x2="1521.9" y2="2541" stroke="#231f20" stroke-width="3.6"/>
<text x="1521.9" y="2570.3" font-size="24" text-anchor="middle">40</text>
<line x1="1653.4" y1="2526.8" x2="1653.4" y2="2541" stroke="#231f20" stroke-width="3.6"/>
<text x="1653.4" y="2570.3" font-size="24" text-anchor="middle">60</text>
<line x1="1784.9" y1="2526.8" x2="1784.9" y2="2541" stroke="#231f20" stroke-width="3.6"/>
<text x="1784.9" y="2570.3" font-size="24" text-anchor="middle">80</text>
<path d="M1580.7 2175.7 L1699 2175.7 L1699 2425.8 L1712.5 2425.8 L1712.5 2526.8" fill="none" stroke="#16918c" stroke-width="2"/>
<path d="M1258.8 2175.7 L1580.7 2175.7 L1580.7 2351.4 L1601.1 2351.4 L1601.1 2526.8" fill="none" stroke="#231f20" stroke-width="2"/>
<circle cx="1580.7" cy="2351.4" r="6.8" fill="#231f20"/>
<circle cx="1601.1" cy="2526.8" r="6.8" fill="#231f20"/>
<rect x="1692.5" y="2419.3" width="13" height="13" fill="#16918c"/>
<rect x="1706" y="2520.3" width="13" height="13" fill="#16918c"/>
<text x="1530.2" y="2610.7" font-size="25.4" text-anchor="middle">Days post tumor engraftment</text>
<text transform="translate(1195 2418) rotate(-90)" font-size="24">% Survival</text>
<line x1="1236.6" y1="2636.8" x2="1274.9" y2="2636.8" stroke="#231f20" stroke-width="2"/>
<circle cx="1255.3" cy="2636.8" r="6.5" fill="#231f20"/>
<text x="1284.4" y="2645" font-size="24">Control-CAR T  (n=6)</text>
<line x1="1236.6" y1="2685.5" x2="1274.9" y2="2685.5" stroke="#16918c" stroke-width="2"/>
<rect x="1249" y="2679" width="13" height="13" fill="#16918c"/>
<text x="1284.4" y="2693.4" font-size="24">GPR183<tspan font-size="14" dy="-10">OE</tspan><tspan dy="10">-CAR T  (n=7)</tspan></text>
<path d="M1562 2629.9 L1579.4 2629.9 L1579.4 2692 L1562 2692" fill="none" stroke="#231f20" stroke-width="2"/>
<text x="1588" y="2671.6" font-size="22">P = 0.0004</text></svg>
</body></html>
